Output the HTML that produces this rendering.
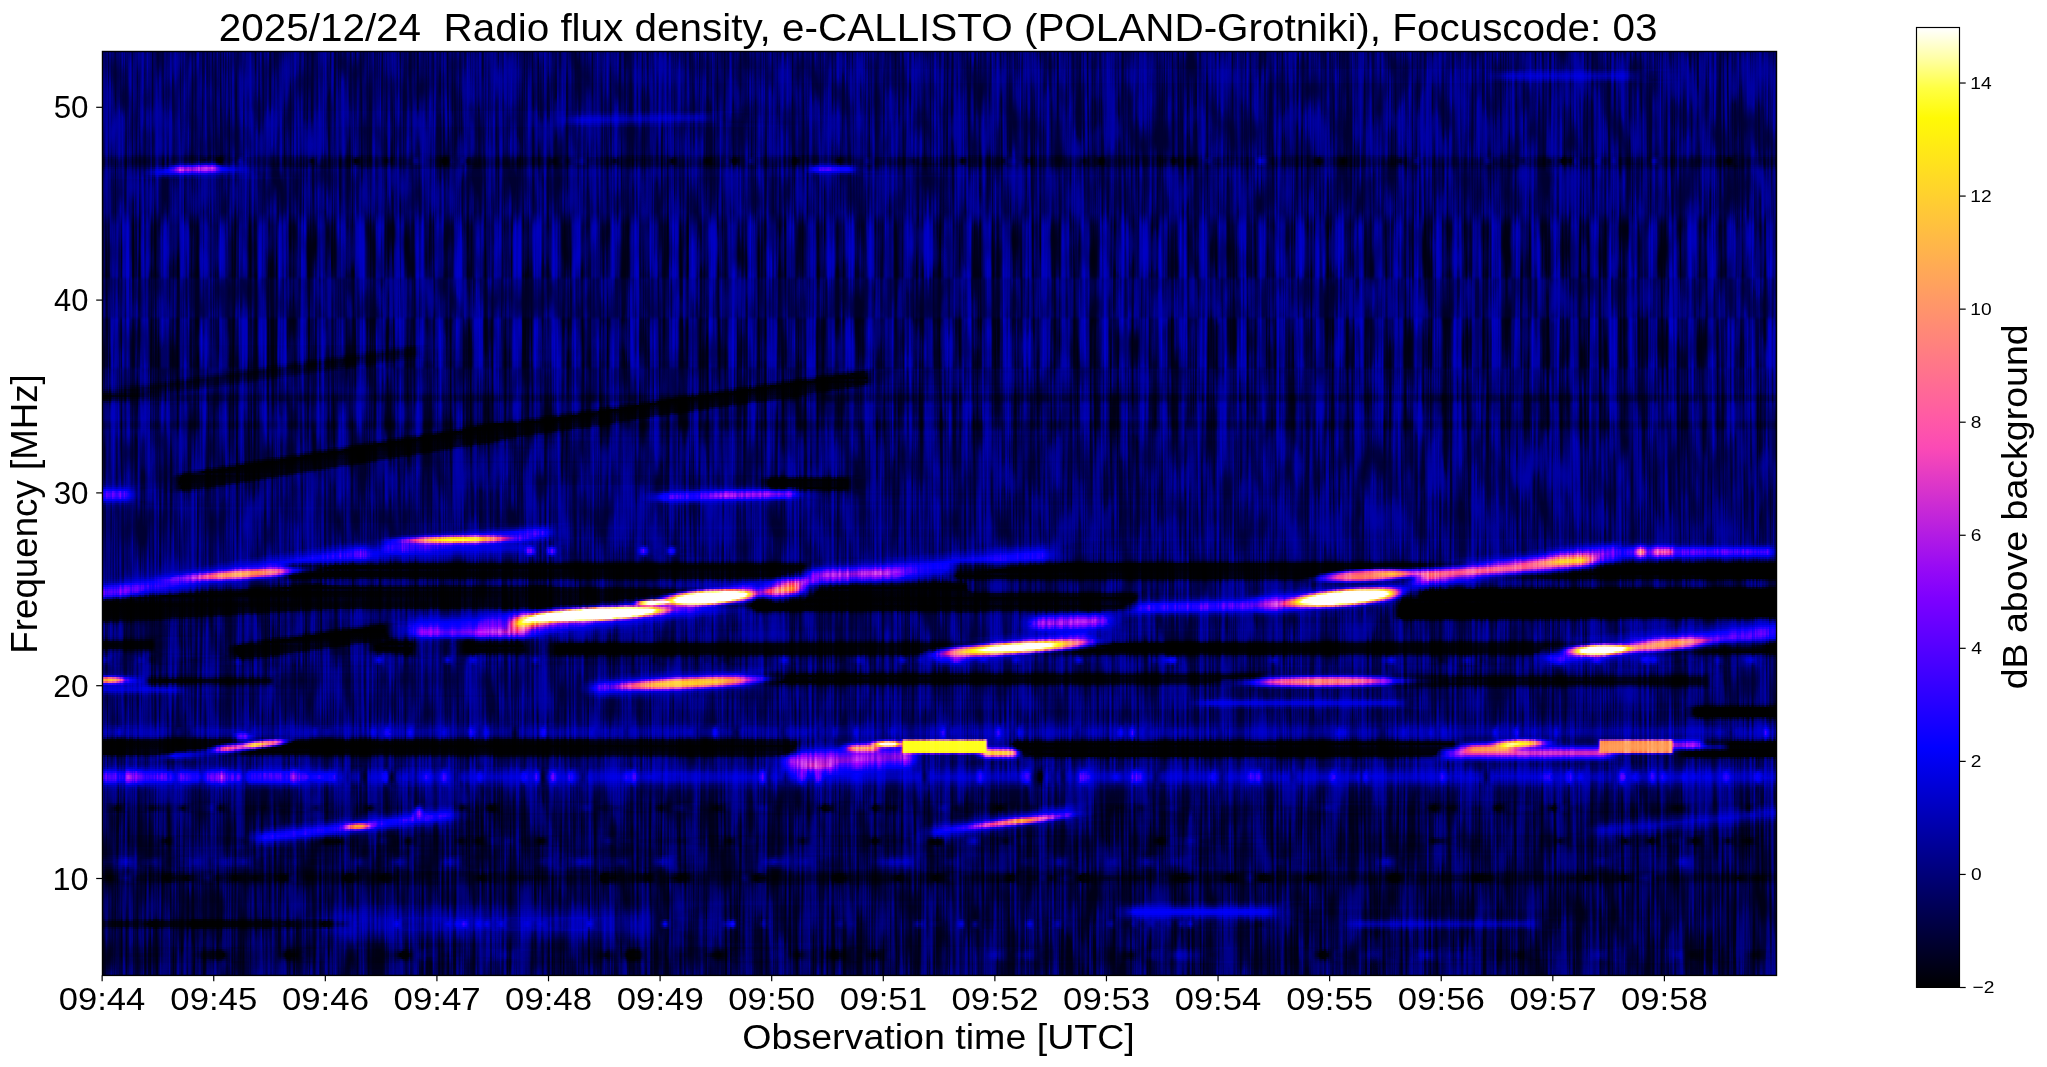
<!DOCTYPE html>
<html><head><meta charset="utf-8"><style>
html,body{margin:0;padding:0;background:#fff;width:2047px;height:1067px;overflow:hidden;position:relative}
#plot{position:absolute;left:102.0px;top:51.0px;width:1675px;height:924px;overflow:hidden;background:#00008a}
#plot i{display:block;height:2px;width:1675px}
#cbar{position:absolute;left:1916.5px;top:27.5px;width:43px;height:960px;background:linear-gradient(0deg,#000000 0.00%,#000020 3.12%,#000040 6.25%,#000060 9.38%,#000080 12.50%,#0000a0 15.62%,#0000c0 18.75%,#0000e0 21.88%,#0100ff 25.00%,#1a00ff 28.12%,#3300ff 31.25%,#4c00ff 34.38%,#6500ff 37.50%,#7e00ff 40.62%,#970af5 43.75%,#b01ae5 46.88%,#c92ad5 50.00%,#e23ac5 53.12%,#fb4ab5 56.25%,#ff5aa5 59.38%,#ff6a95 62.50%,#ff7a85 65.62%,#ff8a75 68.75%,#ff9a65 71.88%,#ffaa55 75.00%,#ffba45 78.12%,#ffca35 81.25%,#ffda25 84.38%,#ffea15 87.50%,#fffa05 90.62%,#ffff43 93.75%,#ffffa7 96.88%,#ffffff 100.00%)}
svg{position:absolute;left:0;top:0}
text{font-family:"Liberation Sans",sans-serif;fill:#000;white-space:pre}
</style></head><body>
<div id="plot"><i style="background:linear-gradient(90deg,#000070 0px,#000070 1674px)"></i>
<i style="background:linear-gradient(90deg,#000070 0px,#000070 1674px)"></i>
<i style="background:linear-gradient(90deg,#000070 0px,#000070 1674px)"></i>
<i style="background:linear-gradient(90deg,#000070 0px,#000070 1674px)"></i>
<i style="background:linear-gradient(90deg,#000070 0px,#000070 1674px)"></i>
<i style="background:linear-gradient(90deg,#000070 0px,#000070 1674px)"></i>
<i style="background:linear-gradient(90deg,#000070 0px,#000070 1674px)"></i>
<i style="background:linear-gradient(90deg,#000070 0px,#000070 1674px)"></i>
<i style="background:linear-gradient(90deg,#000070 0px,#000070 1674px)"></i>
<i style="background:linear-gradient(90deg,#000070 0px,#00007c 1390px,#00008e 1429px,#000082 1529px,#000070 1583px,#000070 1674px)"></i>
<i style="background:linear-gradient(90deg,#000070 0px,#00007c 1385px,#0000a8 1411px,#00009e 1524px,#000070 1551px,#000070 1674px)"></i>
<i style="background:linear-gradient(90deg,#000070 0px,#00007c 1383px,#0000c0 1408px,#0000b4 1523px,#000074 1546px,#000070 1674px)"></i>
<i style="background:linear-gradient(90deg,#000070 0px,#00007c 1383px,#0000cc 1407px,#0000c0 1522px,#000074 1545px,#000070 1674px)"></i>
<i style="background:linear-gradient(90deg,#000070 0px,#00007c 1383px,#0000c0 1408px,#0000b4 1523px,#000074 1546px,#000070 1674px)"></i>
<i style="background:linear-gradient(90deg,#000070 0px,#00007c 1385px,#0000a8 1411px,#00009e 1524px,#000070 1551px,#000070 1674px)"></i>
<i style="background:linear-gradient(90deg,#000070 0px,#00007c 1390px,#00008e 1429px,#000082 1529px,#000070 1583px,#000070 1674px)"></i>
<i style="background:linear-gradient(90deg,#000070 0px,#000070 1674px)"></i>
<i style="background:linear-gradient(90deg,#000070 0px,#000070 1674px)"></i>
<i style="background:linear-gradient(90deg,#000070 0px,#000070 1674px)"></i>
<i style="background:linear-gradient(90deg,#000070 0px,#000070 1674px)"></i>
<i style="background:linear-gradient(90deg,#000070 0px,#000070 1674px)"></i>
<i style="background:linear-gradient(90deg,#000070 0px,#000070 1674px)"></i>
<i style="background:linear-gradient(90deg,#000070 0px,#000070 1674px)"></i>
<i style="background:linear-gradient(90deg,#000070 0px,#000070 1674px)"></i>
<i style="background:linear-gradient(90deg,#000070 0px,#000070 1674px)"></i>
<i style="background:linear-gradient(90deg,#000070 0px,#000070 1674px)"></i>
<i style="background:linear-gradient(90deg,#000070 0px,#000070 1674px)"></i>
<i style="background:linear-gradient(90deg,#000070 0px,#000070 1674px)"></i>
<i style="background:linear-gradient(90deg,#000070 0px,#000070 1674px)"></i>
<i style="background:linear-gradient(90deg,#000070 0px,#000070 1359px,#000070 1674px)"></i>
<i style="background:linear-gradient(90deg,#000070 0px,#00007c 478px,#000084 605px,#000070 652px,#000070 1674px)"></i>
<i style="background:linear-gradient(90deg,#000070 0px,#00007c 462px,#000096 518px,#00009e 600px,#000070 628px,#000070 1674px)"></i>
<i style="background:linear-gradient(90deg,#000070 0px,#00007c 457px,#0000a8 482px,#0000b8 598px,#000074 622px,#000070 1674px)"></i>
<i style="background:linear-gradient(90deg,#000070 0px,#00007c 454px,#0000c0 479px,#0000c0 598px,#000074 621px,#000070 1674px)"></i>
<i style="background:linear-gradient(90deg,#000070 0px,#00007c 454px,#0000cc 479px,#0000b4 599px,#000074 622px,#000070 1674px)"></i>
<i style="background:linear-gradient(90deg,#000070 0px,#00007c 454px,#0000c0 478px,#00009a 601px,#000070 628px,#000070 1674px)"></i>
<i style="background:linear-gradient(90deg,#000070 0px,#00007c 456px,#0000a6 479px,#000080 605px,#000070 673px,#000070 1674px)"></i>
<i style="background:linear-gradient(90deg,#000070 0px,#00007a 460px,#00008c 491px,#000070 713px,#000070 1674px)"></i>
<i style="background:linear-gradient(90deg,#000070 0px,#000070 1392px,#000070 1674px)"></i>
<i style="background:linear-gradient(90deg,#000070 0px,#000070 1674px)"></i>
<i style="background:linear-gradient(90deg,#000070 0px,#000070 1674px)"></i>
<i style="background:linear-gradient(90deg,#000070 0px,#000070 1674px)"></i>
<i style="background:linear-gradient(90deg,#000070 0px,#000070 1674px)"></i>
<i style="background:linear-gradient(90deg,#000070 0px,#000070 1674px)"></i>
<i style="background:linear-gradient(90deg,#000070 0px,#000070 1674px)"></i>
<i style="background:linear-gradient(90deg,#000070 0px,#000070 1674px)"></i>
<i style="background:linear-gradient(90deg,#000070 0px,#000070 1674px)"></i>
<i style="background:linear-gradient(90deg,#000070 0px,#000070 1674px)"></i>
<i style="background:linear-gradient(90deg,#000070 0px,#000070 1674px)"></i>
<i style="background:linear-gradient(90deg,#000070 0px,#000070 1674px)"></i>
<i style="background:linear-gradient(90deg,#000070 0px,#000070 1674px)"></i>
<i style="background:linear-gradient(90deg,#00006a 0px,#00006a 1417px,#00006a 1674px)"></i>
<i style="background:linear-gradient(90deg,#00005c 0px,#000050 114px,#000046 119px,#000066 125px,#000066 135px,#000070 140px,#00005c 152px,#000050 208px,#00005c 232px,#000050 251px,#000052 257px,#000062 310px,#000070 316px,#000050 340px,#000046 345px,#000068 351px,#00005c 363px,#00005c 372px,#00005c 470px,#00006c 482px,#00005c 502px,#000056 516px,#000050 568px,#000056 574px,#000058 609px,#00005c 628px,#00004a 634px,#000070 651px,#00005c 663px,#000050 690px,#000050 696px,#000050 735px,#000066 769px,#00005c 835px,#000050 858px,#000054 864px,#000058 904px,#000066 914px,#000056 929px,#000050 996px,#000050 1002px,#000052 1069px,#000060 1101px,#00006c 1108px,#00005c 1124px,#000068 1154px,#000086 1159px,#00005c 1173px,#000052 1213px,#000042 1218px,#00005c 1226px,#000054 1244px,#000050 1296px,#000072 1313px,#00005c 1330px,#000068 1383px,#000070 1388px,#00005c 1399px,#000060 1414px,#00005c 1426px,#000054 1457px,#00004e 1463px,#000058 1471px,#000066 1476px,#000066 1492px,#000068 1498px,#000066 1509px,#000066 1515px,#000064 1548px,#000078 1554px,#00005c 1564px,#000050 1624px,#000054 1630px,#000060 1638px,#00005c 1674px)"></i>
<i style="background:linear-gradient(90deg,#00004a 0px,#000044 98px,#00002e 104px,#000048 111px,#00000c 118px,#000064 124px,#00004e 132px,#000086 139px,#00004c 145px,#00003e 206px,#00002a 211px,#000050 217px,#000042 249px,#000016 254px,#000048 261px,#00003e 281px,#000030 286px,#00004a 294px,#00005a 310px,#000086 314px,#000068 320px,#00004a 333px,#000038 339px,#00000a 343px,#00002a 346px,#000068 350px,#000056 357px,#000068 361px,#00002c 366px,#00004a 374px,#00003e 447px,#00003a 453px,#00005a 461px,#00003e 468px,#000078 480px,#00004c 488px,#00003e 509px,#00002a 514px,#000048 521px,#000042 566px,#00001c 571px,#00004a 578px,#000042 601px,#00002a 606px,#00004a 614px,#000056 627px,#000016 633px,#000048 640px,#000060 646px,#000082 650px,#00004c 656px,#00003c 689px,#00000e 693px,#000048 700px,#000040 733px,#000020 738px,#00004a 745px,#000056 762px,#000078 766px,#00004c 774px,#00003e 807px,#00003e 813px,#000046 855px,#000014 861px,#000048 867px,#00003e 899px,#000034 903px,#000068 908px,#000064 914px,#000056 919px,#00004c 923px,#00002c 927px,#00004a 935px,#00003e 978px,#000034 983px,#000048 992px,#000012 999px,#000048 1006px,#00003e 1059px,#00003a 1068px,#00001c 1072px,#000048 1079px,#000034 1089px,#000050 1096px,#00005e 1102px,#000080 1106px,#00004c 1112px,#000050 1152px,#0000ac 1158px,#000048 1170px,#000046 1210px,#00000a 1217px,#000048 1224px,#00003c 1237px,#00001c 1241px,#000048 1248px,#00003e 1294px,#000026 1298px,#00004c 1306px,#000064 1311px,#000086 1315px,#00004c 1321px,#000052 1381px,#000086 1386px,#00004c 1393px,#000060 1408px,#000060 1412px,#000034 1421px,#00004c 1429px,#00003c 1444px,#000038 1449px,#000044 1455px,#000016 1461px,#00002e 1466px,#00002e 1470px,#00006c 1474px,#00004a 1483px,#000056 1491px,#00007c 1496px,#00004c 1502px,#00005a 1508px,#000078 1512px,#00004c 1519px,#000052 1547px,#000094 1553px,#00004c 1560px,#000042 1622px,#000016 1627px,#000060 1634px,#00004a 1650px,#00004a 1674px)"></i>
<i style="background:linear-gradient(90deg,#000040 0px,#000040 45px,#000044 91px,#000034 99px,#000014 103px,#000046 109px,#00002e 113px,#000000 116px,#00000e 120px,#000062 123px,#000060 126px,#000046 131px,#00006c 135px,#0000a2 138px,#00004a 144px,#000038 205px,#000006 210px,#000048 216px,#000034 249px,#000000 253px,#000008 256px,#00003c 260px,#000036 280px,#000012 285px,#000040 292px,#00004c 309px,#00009c 314px,#00006e 319px,#00005a 324px,#000040 331px,#000032 338px,#000000 341px,#000000 345px,#00006e 350px,#00004c 356px,#00006e 361px,#000016 365px,#000040 373px,#000038 437px,#000038 446px,#000018 451px,#00005e 460px,#00002e 467px,#000088 480px,#000044 487px,#000036 508px,#000008 513px,#00003e 519px,#000038 528px,#00003c 565px,#000000 570px,#000016 573px,#000040 577px,#00003a 600px,#000008 605px,#000040 612px,#000050 622px,#00005e 626px,#000002 631px,#00000c 635px,#00003c 639px,#000054 645px,#000098 649px,#000072 652px,#000044 656px,#000036 688px,#000000 692px,#000010 696px,#000040 700px,#00003c 732px,#000000 737px,#000042 744px,#000048 761px,#000088 766px,#000044 773px,#000036 806px,#000022 811px,#000040 821px,#000038 855px,#000000 860px,#00000e 863px,#00003e 867px,#000038 898px,#000012 902px,#000066 907px,#000074 913px,#00004c 918px,#000054 922px,#000010 926px,#000040 933px,#000038 977px,#000016 982px,#000040 989px,#000034 994px,#000000 998px,#000004 1001px,#00003c 1005px,#000038 1057px,#000028 1062px,#000034 1067px,#000000 1071px,#000010 1074px,#000040 1079px,#000016 1088px,#00004c 1095px,#000050 1101px,#000094 1105px,#000074 1108px,#000044 1112px,#00004c 1135px,#00004c 1152px,#00008a 1155px,#0000d8 1158px,#000044 1169px,#000040 1184px,#000040 1208px,#00001c 1213px,#000000 1216px,#000010 1220px,#000040 1224px,#000036 1236px,#000000 1241px,#000040 1248px,#000036 1293px,#00000c 1298px,#000040 1304px,#000056 1310px,#0000a0 1314px,#000048 1320px,#00004c 1381px,#00009e 1386px,#000048 1392px,#000050 1406px,#00006e 1411px,#00001e 1421px,#000044 1426px,#000034 1443px,#00001a 1448px,#00003c 1454px,#000000 1460px,#000016 1466px,#000004 1469px,#00006a 1473px,#000066 1476px,#000040 1482px,#000054 1491px,#000090 1495px,#000044 1501px,#00004c 1507px,#000086 1512px,#000044 1518px,#00004c 1547px,#0000b2 1552px,#0000aa 1554px,#000052 1558px,#000040 1567px,#000036 1622px,#000000 1626px,#00000a 1629px,#00005a 1633px,#000054 1637px,#000040 1647px,#000040 1674px)"></i>
<i style="background:linear-gradient(90deg,#000040 0px,#000040 45px,#000056 90px,#000056 98px,#000030 103px,#000066 109px,#00004e 113px,#000004 117px,#000008 119px,#000070 123px,#000060 127px,#00005c 133px,#0000ac 138px,#000080 141px,#00004a 145px,#000038 205px,#000006 210px,#000048 216px,#000034 249px,#000000 253px,#000008 256px,#00003c 260px,#000034 280px,#000012 285px,#000040 292px,#00004c 309px,#00009c 314px,#00006c 319px,#00005a 324px,#000040 331px,#000032 338px,#000000 341px,#00000e 346px,#000062 349px,#000066 352px,#00004c 356px,#00006c 361px,#000016 365px,#000040 373px,#000038 437px,#000038 446px,#000016 451px,#00005e 460px,#00002c 467px,#000084 479px,#000076 482px,#000044 487px,#000036 508px,#000008 513px,#00003c 519px,#00003c 530px,#00003c 565px,#000000 570px,#000016 573px,#000040 577px,#000038 600px,#000008 605px,#000040 612px,#00004e 622px,#00005e 626px,#000002 631px,#00000c 635px,#00003c 639px,#000054 645px,#000098 649px,#000072 652px,#000044 656px,#000034 688px,#000000 692px,#000010 696px,#000040 700px,#000046 732px,#00000a 737px,#00004e 744px,#000048 761px,#000088 766px,#000042 773px,#000034 806px,#000022 811px,#000040 821px,#000038 855px,#000000 860px,#00000e 863px,#00003c 867px,#000038 898px,#000012 902px,#000066 907px,#000074 913px,#00004c 918px,#000054 922px,#000010 926px,#000040 933px,#000038 977px,#000016 982px,#000040 989px,#000034 994px,#000000 998px,#000002 1001px,#00003c 1005px,#000038 1057px,#000028 1062px,#000034 1067px,#000000 1071px,#00000e 1074px,#000040 1079px,#000016 1088px,#00004a 1094px,#000050 1101px,#000094 1106px,#000048 1111px,#00004c 1130px,#00004a 1152px,#000088 1155px,#0000d8 1158px,#000044 1169px,#000040 1184px,#000040 1208px,#00001a 1213px,#000000 1216px,#00000e 1220px,#000040 1224px,#000036 1236px,#000000 1241px,#000040 1248px,#000036 1293px,#00000a 1298px,#000040 1305px,#000056 1310px,#0000a0 1314px,#000076 1317px,#000048 1320px,#00004c 1381px,#00009e 1386px,#000048 1392px,#000050 1406px,#00006e 1411px,#00001e 1421px,#000044 1426px,#000034 1443px,#00001a 1448px,#00003c 1454px,#000000 1460px,#000016 1466px,#000004 1469px,#00006a 1473px,#000066 1476px,#000040 1482px,#00004a 1490px,#000090 1495px,#000044 1501px,#00004c 1507px,#000086 1512px,#000044 1518px,#00004c 1547px,#0000b2 1552px,#0000aa 1554px,#000052 1558px,#000040 1567px,#000034 1622px,#000000 1626px,#00000a 1629px,#00005a 1633px,#000054 1637px,#000040 1647px,#000040 1674px)"></i>
<i style="background:linear-gradient(90deg,#000040 0px,#00004c 62px,#000092 80px,#0000aa 99px,#0000a2 104px,#0000cc 110px,#0000b2 113px,#000058 117px,#00005a 120px,#000086 124px,#00006c 131px,#00009e 139px,#000052 145px,#000040 172px,#000036 206px,#00001e 211px,#000046 217px,#00003a 249px,#00000c 254px,#000040 261px,#000032 281px,#000028 286px,#000040 295px,#000048 309px,#00007e 314px,#00005e 320px,#000040 332px,#00002e 339px,#000002 343px,#000022 346px,#00005c 350px,#00004c 357px,#00005c 361px,#000022 366px,#000040 374px,#000036 447px,#00002a 452px,#000052 461px,#000036 468px,#00006e 480px,#000040 489px,#000034 509px,#000022 514px,#00003e 521px,#000036 566px,#000010 571px,#000040 577px,#000036 601px,#00001e 606px,#000040 614px,#00004e 627px,#00000c 633px,#00003e 639px,#000058 646px,#000078 650px,#000044 656px,#00003a 688px,#000008 693px,#000042 700px,#000076 718px,#00006c 733px,#00004a 738px,#000076 744px,#000044 760px,#00006e 767px,#000040 773px,#000036 807px,#000034 813px,#000036 856px,#00000c 861px,#000040 867px,#000036 899px,#000028 903px,#00005c 908px,#000062 913px,#00004a 918px,#000044 923px,#000022 927px,#000040 934px,#000036 978px,#000028 983px,#000040 992px,#000008 999px,#000040 1006px,#000036 1058px,#000032 1068px,#000010 1072px,#000040 1079px,#000024 1088px,#000046 1096px,#000054 1102px,#000076 1106px,#000040 1113px,#000044 1145px,#00004e 1153px,#0000a2 1158px,#000040 1170px,#00003a 1211px,#000004 1217px,#000040 1224px,#000032 1237px,#000014 1241px,#000040 1248px,#000034 1294px,#000022 1299px,#000040 1306px,#00005c 1311px,#00007c 1315px,#000044 1320px,#000048 1381px,#00007e 1386px,#000042 1393px,#000052 1407px,#000058 1412px,#00002c 1421px,#000042 1429px,#000032 1444px,#00002c 1449px,#00003c 1455px,#00000c 1461px,#000024 1466px,#000024 1470px,#000062 1474px,#000040 1483px,#00004e 1491px,#000074 1495px,#000040 1503px,#000058 1509px,#00006a 1513px,#000040 1519px,#000048 1547px,#00008c 1553px,#000046 1559px,#00003a 1622px,#00000c 1627px,#000056 1634px,#000040 1649px,#000040 1674px)"></i>
<i style="background:linear-gradient(90deg,#00004a 0px,#00005a 51px,#000084 66px,#0e00ea 74px,#3c00ff 95px,#5500ff 111px,#0e00ec 116px,#0000b4 121px,#0000a0 133px,#0000a2 139px,#00005a 147px,#00003c 209px,#00004a 230px,#000040 251px,#000040 257px,#00003e 283px,#00005e 316px,#000036 341px,#000034 345px,#000056 351px,#00004a 363px,#00004a 442px,#00004c 456px,#000052 473px,#000052 484px,#000046 517px,#000042 567px,#000042 574px,#000048 611px,#000046 629px,#00003c 635px,#00005e 651px,#00004a 664px,#000040 690px,#00003c 696px,#000078 707px,#0000ca 715px,#0000be 735px,#0000c0 747px,#00005a 757px,#000050 770px,#000042 857px,#00003c 863px,#00004a 896px,#000046 904px,#000056 914px,#000044 929px,#00003e 996px,#00003a 1001px,#00004a 1021px,#00003c 1070px,#000040 1085px,#00005e 1107px,#00004a 1120px,#000056 1154px,#000072 1159px,#00004a 1174px,#000040 1213px,#000030 1218px,#00004a 1228px,#00003c 1243px,#00004a 1278px,#000046 1302px,#00005e 1316px,#00004a 1329px,#000056 1383px,#00005e 1388px,#00004c 1400px,#00004c 1415px,#00003a 1469px,#000056 1476px,#000054 1492px,#000056 1498px,#000058 1510px,#00004e 1547px,#000068 1554px,#00004c 1562px,#000040 1624px,#00003c 1629px,#000050 1637px,#00004a 1674px)"></i>
<i style="background:linear-gradient(90deg,#00005c 0px,#00006a 44px,#0000c0 65px,#0d00f8 69px,#910bf4 76px,#b31ce3 111px,#4f00ff 116px,#0700fc 120px,#0000ce 130px,#0000b8 139px,#00006a 149px,#00005a 213px,#000060 699px,#000094 706px,#0700fa 712px,#1b00ff 720px,#0f00ff 747px,#0000ca 751px,#000072 757px,#000060 768px,#00005c 1674px)"></i>
<i style="background:linear-gradient(90deg,#00006a 0px,#000078 42px,#0000d2 58px,#0f00ff 67px,#9b0df2 74px,#be23dc 78px,#970cf3 111px,#0400fe 121px,#0000de 131px,#0000bc 139px,#000072 150px,#000074 701px,#0000b2 707px,#0d00ff 712px,#2500ff 718px,#1a00ff 747px,#0000ec 750px,#000088 756px,#00006a 766px,#00006a 1674px)"></i>
<i style="background:linear-gradient(90deg,#000070 0px,#00007c 41px,#0000e6 57px,#0a00ff 67px,#6d00ff 76px,#2900ff 112px,#0000da 121px,#0000a8 139px,#000070 153px,#00007a 702px,#0000c2 710px,#0200ec 715px,#0000e4 747px,#00007e 757px,#000070 791px,#000070 1674px)"></i>
<i style="background:linear-gradient(90deg,#000070 0px,#00007c 41px,#0000d8 57px,#0b00f0 82px,#0000bc 115px,#000070 156px,#00007c 705px,#0000a6 717px,#00009c 748px,#000070 763px,#000070 1674px)"></i>
<i style="background:linear-gradient(90deg,#000070 0px,#00007e 43px,#0000ae 58px,#000098 101px,#000070 171px,#00007c 712px,#000070 1674px)"></i>
<i style="background:linear-gradient(90deg,#000070 0px,#000080 48px,#000086 72px,#000070 232px,#000070 1674px)"></i>
<i style="background:linear-gradient(90deg,#000070 0px,#000070 1674px)"></i>
<i style="background:linear-gradient(90deg,#000070 0px,#000070 1674px)"></i>
<i style="background:linear-gradient(90deg,#000070 0px,#000070 1674px)"></i>
<i style="background:linear-gradient(90deg,#000070 0px,#000070 1674px)"></i>
<i style="background:linear-gradient(90deg,#000070 0px,#000070 1674px)"></i>
<i style="background:linear-gradient(90deg,#000070 0px,#000070 1674px)"></i>
<i style="background:linear-gradient(90deg,#000070 0px,#000070 1674px)"></i>
<i style="background:linear-gradient(90deg,#000070 0px,#000070 1674px)"></i>
<i style="background:linear-gradient(90deg,#000070 0px,#000070 1674px)"></i>
<i style="background:linear-gradient(90deg,#000070 0px,#000070 1674px)"></i>
<i style="background:linear-gradient(90deg,#000070 0px,#000070 1674px)"></i>
<i style="background:linear-gradient(90deg,#000070 0px,#000070 1674px)"></i>
<i style="background:linear-gradient(90deg,#000070 0px,#000070 1674px)"></i>
<i style="background:linear-gradient(90deg,#000070 0px,#000070 1674px)"></i>
<i style="background:linear-gradient(90deg,#000070 0px,#000070 1674px)"></i>
<i style="background:linear-gradient(90deg,#000070 0px,#000070 1674px)"></i>
<i style="background:linear-gradient(90deg,#000070 0px,#000070 1674px)"></i>
<i style="background:linear-gradient(90deg,#000070 0px,#000070 1674px)"></i>
<i style="background:linear-gradient(90deg,#000070 0px,#000070 1674px)"></i>
<i style="background:linear-gradient(90deg,#000070 0px,#000070 1674px)"></i>
<i style="background:linear-gradient(90deg,#000070 0px,#000070 1674px)"></i>
<i style="background:linear-gradient(90deg,#000070 0px,#000070 1674px)"></i>
<i style="background:linear-gradient(90deg,#000070 0px,#000070 1674px)"></i>
<i style="background:linear-gradient(90deg,#000070 0px,#000070 1674px)"></i>
<i style="background:linear-gradient(90deg,#000070 0px,#000070 1674px)"></i>
<i style="background:linear-gradient(90deg,#000070 0px,#000070 1674px)"></i>
<i style="background:linear-gradient(90deg,#000070 0px,#000070 1674px)"></i>
<i style="background:linear-gradient(90deg,#000070 0px,#000070 1674px)"></i>
<i style="background:linear-gradient(90deg,#000070 0px,#000070 1674px)"></i>
<i style="background:linear-gradient(90deg,#000070 0px,#000070 1674px)"></i>
<i style="background:linear-gradient(90deg,#000070 0px,#000070 1674px)"></i>
<i style="background:linear-gradient(90deg,#000070 0px,#000070 1674px)"></i>
<i style="background:linear-gradient(90deg,#000070 0px,#000070 1674px)"></i>
<i style="background:linear-gradient(90deg,#000070 0px,#000070 1674px)"></i>
<i style="background:linear-gradient(90deg,#000070 0px,#000070 1674px)"></i>
<i style="background:linear-gradient(90deg,#000070 0px,#000070 1674px)"></i>
<i style="background:linear-gradient(90deg,#000070 0px,#000070 1674px)"></i>
<i style="background:linear-gradient(90deg,#000070 0px,#000070 1674px)"></i>
<i style="background:linear-gradient(90deg,#000070 0px,#000070 1674px)"></i>
<i style="background:linear-gradient(90deg,#000070 0px,#000070 1674px)"></i>
<i style="background:linear-gradient(90deg,#000070 0px,#000070 1674px)"></i>
<i style="background:linear-gradient(90deg,#000070 0px,#000070 1674px)"></i>
<i style="background:linear-gradient(90deg,#000070 0px,#000070 1674px)"></i>
<i style="background:linear-gradient(90deg,#000070 0px,#000070 1674px)"></i>
<i style="background:linear-gradient(90deg,#000070 0px,#000070 1674px)"></i>
<i style="background:linear-gradient(90deg,#000070 0px,#000070 1674px)"></i>
<i style="background:linear-gradient(90deg,#000070 0px,#000070 1674px)"></i>
<i style="background:linear-gradient(90deg,#000070 0px,#000070 1674px)"></i>
<i style="background:linear-gradient(90deg,#000070 0px,#000070 1674px)"></i>
<i style="background:linear-gradient(90deg,#000070 0px,#000070 1674px)"></i>
<i style="background:linear-gradient(90deg,#000070 0px,#000070 1674px)"></i>
<i style="background:linear-gradient(90deg,#000070 0px,#000070 1674px)"></i>
<i style="background:linear-gradient(90deg,#000070 0px,#000070 1674px)"></i>
<i style="background:linear-gradient(90deg,#000070 0px,#000070 1674px)"></i>
<i style="background:linear-gradient(90deg,#000070 0px,#000070 1674px)"></i>
<i style="background:linear-gradient(90deg,#000070 0px,#000070 1674px)"></i>
<i style="background:linear-gradient(90deg,#000070 0px,#000070 1674px)"></i>
<i style="background:linear-gradient(90deg,#000070 0px,#000070 1674px)"></i>
<i style="background:linear-gradient(90deg,#000070 0px,#000070 1674px)"></i>
<i style="background:linear-gradient(90deg,#000070 0px,#000070 1674px)"></i>
<i style="background:linear-gradient(90deg,#000070 0px,#000070 1674px)"></i>
<i style="background:linear-gradient(90deg,#000070 0px,#000070 1674px)"></i>
<i style="background:linear-gradient(90deg,#000070 0px,#000070 1674px)"></i>
<i style="background:linear-gradient(90deg,#000070 0px,#000070 1674px)"></i>
<i style="background:linear-gradient(90deg,#000070 0px,#000070 1674px)"></i>
<i style="background:linear-gradient(90deg,#000070 0px,#000070 1674px)"></i>
<i style="background:linear-gradient(90deg,#000070 0px,#000070 1674px)"></i>
<i style="background:linear-gradient(90deg,#000070 0px,#000070 1674px)"></i>
<i style="background:linear-gradient(90deg,#000070 0px,#000070 1674px)"></i>
<i style="background:linear-gradient(90deg,#000070 0px,#000070 1674px)"></i>
<i style="background:linear-gradient(90deg,#000070 0px,#000070 1674px)"></i>
<i style="background:linear-gradient(90deg,#000070 0px,#000070 1674px)"></i>
<i style="background:linear-gradient(90deg,#000070 0px,#000070 1674px)"></i>
<i style="background:linear-gradient(90deg,#000070 0px,#000070 1674px)"></i>
<i style="background:linear-gradient(90deg,#000070 0px,#000070 1674px)"></i>
<i style="background:linear-gradient(90deg,#000070 0px,#000070 1674px)"></i>
<i style="background:linear-gradient(90deg,#000070 0px,#000070 1674px)"></i>
<i style="background:linear-gradient(90deg,#000070 0px,#000070 1674px)"></i>
<i style="background:linear-gradient(90deg,#000070 0px,#000070 1674px)"></i>
<i style="background:linear-gradient(90deg,#000070 0px,#000070 1674px)"></i>
<i style="background:linear-gradient(90deg,#000070 0px,#000070 1674px)"></i>
<i style="background:linear-gradient(90deg,#000070 0px,#000070 1674px)"></i>
<i style="background:linear-gradient(90deg,#000070 0px,#000070 725px,#000070 1674px)"></i>
<i style="background:linear-gradient(90deg,#000070 0px,#000064 294px,#000052 312px,#000070 330px,#000070 1674px)"></i>
<i style="background:linear-gradient(90deg,#000070 0px,#000064 280px,#000032 310px,#000070 324px,#000070 1674px)"></i>
<i style="background:linear-gradient(90deg,#000070 0px,#000064 266px,#00001c 308px,#00006c 322px,#000070 1674px)"></i>
<i style="background:linear-gradient(90deg,#000070 0px,#000064 252px,#00001c 296px,#000028 311px,#00006c 322px,#000070 1674px)"></i>
<i style="background:linear-gradient(90deg,#000070 0px,#000064 238px,#00001c 282px,#000022 310px,#00006c 322px,#000070 1674px)"></i>
<i style="background:linear-gradient(90deg,#000070 0px,#000064 224px,#00001c 268px,#00002e 308px,#00006e 322px,#000070 1674px)"></i>
<i style="background:linear-gradient(90deg,#000070 0px,#000064 210px,#00001c 254px,#00002e 294px,#000070 325px,#000070 1674px)"></i>
<i style="background:linear-gradient(90deg,#000070 0px,#000064 196px,#00001c 240px,#00002e 280px,#000070 320px,#000070 1674px)"></i>
<i style="background:linear-gradient(90deg,#000070 0px,#000064 182px,#00001c 226px,#00002e 266px,#00006a 302px,#000070 1674px)"></i>
<i style="background:linear-gradient(90deg,#000070 0px,#000064 168px,#00001c 212px,#00002e 252px,#00006a 288px,#000070 1674px)"></i>
<i style="background:linear-gradient(90deg,#000070 0px,#000064 154px,#00001c 198px,#00002e 238px,#00006a 274px,#000070 1674px)"></i>
<i style="background:linear-gradient(90deg,#000070 0px,#000064 140px,#00001c 184px,#00002e 224px,#00006a 260px,#000064 756px,#000070 1674px)"></i>
<i style="background:linear-gradient(90deg,#000070 0px,#000062 127px,#00001c 170px,#00002e 210px,#00006a 246px,#000064 743px,#00003c 763px,#000070 777px,#000070 1674px)"></i>
<i style="background:linear-gradient(90deg,#000070 0px,#000062 113px,#00001c 156px,#00002e 196px,#00006a 232px,#000064 729px,#000006 762px,#000068 773px,#000070 1674px)"></i>
<i style="background:linear-gradient(90deg,#000070 0px,#000062 99px,#00001c 142px,#00002e 182px,#00006a 218px,#000064 716px,#000000 750px,#00000a 765px,#000060 772px,#000070 792px,#000070 1674px)"></i>
<i style="background:linear-gradient(90deg,#000070 0px,#000062 85px,#00001c 128px,#00002e 168px,#00006a 204px,#000064 702px,#000000 737px,#000006 765px,#00005e 772px,#000070 787px,#000070 1674px)"></i>
<i style="background:linear-gradient(90deg,#000070 0px,#000060 73px,#00001c 114px,#00002e 154px,#00006a 190px,#000064 689px,#000000 723px,#000000 765px,#00005c 772px,#000070 787px,#000070 1674px)"></i>
<i style="background:linear-gradient(90deg,#000070 0px,#00005e 61px,#00001c 100px,#00002e 140px,#00006a 176px,#000064 675px,#000018 699px,#000000 715px,#00000c 766px,#00005c 772px,#000070 787px,#000070 1674px)"></i>
<i style="background:linear-gradient(90deg,#000070 0px,#00005a 49px,#00001c 86px,#00002e 126px,#00006a 162px,#000064 662px,#000000 696px,#000004 765px,#00005e 772px,#000070 787px,#000070 1674px)"></i>
<i style="background:linear-gradient(90deg,#000070 0px,#000050 40px,#00001c 72px,#00002e 112px,#00006a 148px,#000064 648px,#00001c 671px,#000000 686px,#00000c 762px,#000066 772px,#000070 1674px)"></i>
<i style="background:linear-gradient(90deg,#00006e 0px,#00003c 35px,#00001c 63px,#000030 99px,#00006a 134px,#000064 635px,#000000 669px,#00000c 749px,#000070 774px,#000070 1674px)"></i>
<i style="background:linear-gradient(90deg,#000064 0px,#00001c 44px,#00002e 84px,#00006e 124px,#000064 621px,#00001c 644px,#000000 659px,#00000c 736px,#000068 764px,#000070 1674px)"></i>
<i style="background:linear-gradient(90deg,#00004c 0px,#00001c 30px,#00002c 69px,#00006c 108px,#000064 608px,#000000 642px,#00000c 722px,#000064 749px,#000070 1674px)"></i>
<i style="background:linear-gradient(90deg,#000028 0px,#00001e 49px,#000068 94px,#000062 593px,#00001a 617px,#000000 633px,#00000c 710px,#00005e 735px,#00006e 843px,#00006e 1674px)"></i>
<i style="background:linear-gradient(90deg,#00000a 0px,#00001a 42px,#000058 80px,#000052 580px,#000000 614px,#00000a 700px,#000052 724px,#00005e 1674px)"></i>
<i style="background:linear-gradient(90deg,#000000 0px,#00000e 32px,#000046 68px,#00003e 566px,#000000 598px,#00000c 691px,#000044 716px,#00004a 1674px)"></i>
<i style="background:linear-gradient(90deg,#000000 0px,#000020 27px,#000044 60px,#00003c 553px,#000000 582px,#00000c 678px,#000042 705px,#000048 1674px)"></i>
<i style="background:linear-gradient(90deg,#000008 0px,#000044 38px,#00003e 540px,#000000 569px,#00000c 663px,#000044 690px,#00004a 1674px)"></i>
<i style="background:linear-gradient(90deg,#00003a 0px,#00005e 42px,#000052 526px,#000000 557px,#00000c 644px,#000056 673px,#00005e 1674px)"></i>
<i style="background:linear-gradient(90deg,#000062 0px,#000064 510px,#000026 533px,#000000 548px,#00000c 628px,#000062 656px,#00006e 1674px)"></i>
<i style="background:linear-gradient(90deg,#00006e 0px,#000064 500px,#000000 534px,#00000c 614px,#000062 641px,#000070 767px,#000070 1674px)"></i>
<i style="background:linear-gradient(90deg,#000070 0px,#000064 486px,#000020 508px,#000000 524px,#00000c 601px,#000064 628px,#000070 1674px)"></i>
<i style="background:linear-gradient(90deg,#000070 0px,#000064 473px,#000000 507px,#00000c 587px,#000064 614px,#000070 1674px)"></i>
<i style="background:linear-gradient(90deg,#000070 0px,#000064 459px,#000020 481px,#000000 497px,#00000c 574px,#000064 601px,#000070 1674px)"></i>
<i style="background:linear-gradient(90deg,#000070 0px,#000064 446px,#000000 480px,#00000c 560px,#000064 587px,#000070 1674px)"></i>
<i style="background:linear-gradient(90deg,#000070 0px,#000064 432px,#000020 454px,#000000 470px,#00000c 547px,#000064 574px,#000070 1674px)"></i>
<i style="background:linear-gradient(90deg,#000070 0px,#000064 418px,#000020 441px,#000000 457px,#00000c 534px,#00005e 558px,#000070 618px,#000070 1674px)"></i>
<i style="background:linear-gradient(90deg,#00006a 0px,#00005e 405px,#000022 426px,#000000 443px,#00000a 521px,#00005e 546px,#00006a 1674px)"></i>
<i style="background:linear-gradient(90deg,#00005c 0px,#000052 381px,#00003a 398px,#000000 426px,#00000a 511px,#000050 534px,#00005c 1674px)"></i>
<i style="background:linear-gradient(90deg,#000054 0px,#000048 370px,#000000 392px,#00000c 500px,#00004a 523px,#000054 1674px)"></i>
<i style="background:linear-gradient(90deg,#000054 0px,#000048 358px,#000000 383px,#00000c 486px,#00004c 512px,#000054 1674px)"></i>
<i style="background:linear-gradient(90deg,#00005c 0px,#000050 346px,#000000 373px,#00000c 469px,#000054 497px,#00005c 1674px)"></i>
<i style="background:linear-gradient(90deg,#00006a 0px,#00005e 334px,#000020 352px,#000000 364px,#00000c 453px,#00005e 479px,#00006a 1674px)"></i>
<i style="background:linear-gradient(90deg,#000070 0px,#000064 321px,#000022 340px,#000000 353px,#00000c 439px,#000062 465px,#000070 612px,#000070 1674px)"></i>
<i style="background:linear-gradient(90deg,#000070 0px,#000064 309px,#000026 327px,#000000 340px,#00000a 425px,#000062 451px,#000070 577px,#000070 1674px)"></i>
<i style="background:linear-gradient(90deg,#000070 0px,#000064 296px,#00001e 316px,#000000 329px,#00000c 412px,#000064 439px,#000070 1674px)"></i>
<i style="background:linear-gradient(90deg,#000070 0px,#000064 284px,#000020 303px,#000000 317px,#000008 401px,#000058 419px,#000070 457px,#000070 1674px)"></i>
<i style="background:linear-gradient(90deg,#000070 0px,#000064 271px,#00001e 291px,#000000 304px,#00000c 396px,#000054 405px,#000070 438px,#000070 1674px)"></i>
<i style="background:linear-gradient(90deg,#000070 0px,#000064 259px,#000022 278px,#000000 291px,#00000c 387px,#000068 403px,#000070 1674px)"></i>
<i style="background:linear-gradient(90deg,#000070 0px,#000064 247px,#000000 276px,#00000c 370px,#00006e 400px,#000070 1674px)"></i>
<i style="background:linear-gradient(90deg,#000070 0px,#000064 234px,#000022 253px,#000000 266px,#00000a 357px,#00005e 378px,#000070 432px,#000070 1674px)"></i>
<i style="background:linear-gradient(90deg,#000070 0px,#000064 222px,#00001a 242px,#000000 255px,#00000c 345px,#000062 367px,#000070 486px,#000070 1674px)"></i>
<i style="background:linear-gradient(90deg,#000070 0px,#000064 209px,#00001c 229px,#000000 243px,#00000a 332px,#000060 354px,#000070 422px,#000070 1674px)"></i>
<i style="background:linear-gradient(90deg,#000070 0px,#000064 197px,#00001a 217px,#000000 230px,#00000c 320px,#000062 343px,#000070 448px,#000070 1674px)"></i>
<i style="background:linear-gradient(90deg,#000070 0px,#000064 184px,#00001e 204px,#000000 217px,#00000a 307px,#000062 330px,#000070 442px,#000070 1674px)"></i>
<i style="background:linear-gradient(90deg,#000070 0px,#000064 172px,#000026 190px,#000000 203px,#00000c 295px,#000062 318px,#000070 430px,#000070 1674px)"></i>
<i style="background:linear-gradient(90deg,#000070 0px,#000064 159px,#00001e 179px,#000000 192px,#00000a 282px,#000062 305px,#000070 417px,#000070 1674px)"></i>
<i style="background:linear-gradient(90deg,#000070 0px,#000064 147px,#000022 166px,#000000 179px,#00000c 270px,#000062 293px,#000070 405px,#000070 1674px)"></i>
<i style="background:linear-gradient(90deg,#000070 0px,#000064 135px,#000000 164px,#00000c 258px,#000064 281px,#000070 1674px)"></i>
<i style="background:linear-gradient(90deg,#000070 0px,#000064 122px,#000022 141px,#000000 154px,#00000c 245px,#000062 268px,#000070 380px,#000070 1674px)"></i>
<i style="background:linear-gradient(90deg,#000070 0px,#000062 111px,#000000 139px,#00000c 233px,#000062 255px,#000070 367px,#000070 1674px)"></i>
<i style="background:linear-gradient(90deg,#000070 0px,#000062 99px,#000000 127px,#00000a 220px,#000060 242px,#000070 310px,#000070 1674px)"></i>
<i style="background:linear-gradient(90deg,#000070 0px,#000064 85px,#00001a 105px,#000000 118px,#00000c 208px,#000062 231px,#000070 336px,#000070 1674px)"></i>
<i style="background:linear-gradient(90deg,#000070 0px,#000064 76px,#000000 101px,#00000a 195px,#000062 218px,#000070 330px,#000070 1674px)"></i>
<i style="background:linear-gradient(90deg,#000070 0px,#000066 72px,#00000a 84px,#00000c 183px,#000062 206px,#000070 318px,#000070 1209px,#000070 1674px)"></i>
<i style="background:linear-gradient(90deg,#000070 0px,#000066 70px,#000022 76px,#000000 80px,#00000a 170px,#000062 193px,#000070 305px,#000064 660px,#000048 674px,#000054 744px,#000070 762px,#000070 1674px)"></i>
<i style="background:linear-gradient(90deg,#000070 0px,#000064 69px,#00001c 75px,#000000 78px,#00000c 158px,#000062 181px,#000070 293px,#000066 657px,#000010 670px,#00001a 742px,#00006c 754px,#000070 1674px)"></i>
<i style="background:linear-gradient(90deg,#000074 0px,#000064 69px,#00001e 75px,#000000 78px,#00000c 146px,#000062 168px,#000070 280px,#000064 656px,#000020 663px,#000000 667px,#000004 744px,#000060 752px,#000070 772px,#000070 1674px)"></i>
<i style="background:linear-gradient(90deg,#00007a 0px,#000064 69px,#000024 75px,#000000 77px,#00000c 133px,#000062 156px,#000070 268px,#000066 656px,#00001c 663px,#000000 666px,#000008 745px,#000060 752px,#000070 772px,#000070 1674px)"></i>
<i style="background:linear-gradient(90deg,#000086 0px,#000066 69px,#00002a 75px,#000002 77px,#00000c 121px,#000062 143px,#000070 255px,#00006a 656px,#000022 663px,#000000 666px,#000008 745px,#000060 752px,#000070 772px,#000070 1674px)"></i>
<i style="background:linear-gradient(90deg,#0000a0 0px,#000092 26px,#000070 46px,#000064 70px,#00001e 76px,#000000 79px,#00000e 109px,#000062 130px,#000070 249px,#00007e 620px,#00007c 656px,#000034 663px,#000002 667px,#000008 745px,#000060 752px,#000070 772px,#000070 1674px)"></i>
<i style="background:linear-gradient(90deg,#0000cc 0px,#0000be 24px,#000074 39px,#000064 70px,#000024 76px,#000000 79px,#000010 97px,#000062 119px,#000070 224px,#00007c 560px,#0000aa 656px,#00006a 663px,#00002e 669px,#00002c 687px,#000000 704px,#000004 744px,#000060 752px,#000070 772px,#000070 1674px)"></i>
<i style="background:linear-gradient(90deg,#0700fa 0px,#0000ec 24px,#000082 36px,#000070 60px,#000056 73px,#00000e 81px,#000034 92px,#00006a 112px,#00007c 549px,#0000a6 579px,#0000ca 612px,#0500ec 631px,#0b00ec 660px,#0000c4 671px,#0000c6 683px,#00002e 703px,#000010 726px,#00001a 742px,#00006c 754px,#000070 1674px)"></i>
<i style="background:linear-gradient(90deg,#2d00ff 0px,#2600ff 22px,#0000f0 27px,#000088 36px,#000070 54px,#000060 74px,#000048 84px,#00006e 108px,#00007a 543px,#0000d4 570px,#0d00fc 610px,#4900ff 624px,#6000ff 662px,#5400ff 682px,#0400ee 691px,#000076 702px,#00004a 717px,#000056 745px,#000070 762px,#000070 1674px)"></i>
<i style="background:linear-gradient(90deg,#4900ff 0px,#3f00ff 22px,#0000f6 28px,#00008c 36px,#000070 50px,#000070 122px,#00007a 540px,#0000c0 554px,#0700fa 563px,#3300ff 607px,#9509f6 622px,#9a0cf3 680px,#4700ff 688px,#0000f0 694px,#00008a 704px,#000068 719px,#000070 1674px)"></i>
<i style="background:linear-gradient(90deg,#4900ff 0px,#3f00ff 22px,#0000f6 28px,#00008c 36px,#000070 50px,#00007c 539px,#0000bc 551px,#0a00ff 559px,#3100ff 570px,#4200ff 606px,#a211ee 622px,#7400ff 681px,#0400fa 692px,#000092 703px,#000070 720px,#000070 1674px)"></i>
<i style="background:linear-gradient(90deg,#2d00ff 0px,#2600ff 22px,#0000f0 27px,#000088 36px,#000070 54px,#00007c 539px,#0000ca 552px,#0d00ff 559px,#2e00ff 569px,#2e00ff 608px,#5f00ff 623px,#1800ff 683px,#0000ce 692px,#000084 704px,#000070 734px,#000070 1674px)"></i>
<i style="background:linear-gradient(90deg,#0700fa 0px,#0000ec 24px,#000082 36px,#000070 60px,#00007c 539px,#0000ba 552px,#0700fa 562px,#0200ea 648px,#0000b6 687px,#000076 707px,#000070 1674px)"></i>
<i style="background:linear-gradient(90deg,#0000cc 0px,#0000be 24px,#000074 39px,#00007a 541px,#0000d2 567px,#000070 729px,#000070 1674px)"></i>
<i style="background:linear-gradient(90deg,#0000a0 0px,#000092 26px,#000070 46px,#00007c 546px,#00009e 571px,#000070 752px,#000070 1674px)"></i>
<i style="background:linear-gradient(90deg,#000086 0px,#000070 85px,#00007c 556px,#000070 1674px)"></i>
<i style="background:linear-gradient(90deg,#00007a 0px,#000070 1674px)"></i>
<i style="background:linear-gradient(90deg,#000074 0px,#000070 1674px)"></i>
<i style="background:linear-gradient(90deg,#000070 0px,#000070 1674px)"></i>
<i style="background:linear-gradient(90deg,#000070 0px,#000070 1674px)"></i>
<i style="background:linear-gradient(90deg,#000070 0px,#000070 1674px)"></i>
<i style="background:linear-gradient(90deg,#000070 0px,#000070 1674px)"></i>
<i style="background:linear-gradient(90deg,#000070 0px,#000070 1674px)"></i>
<i style="background:linear-gradient(90deg,#000070 0px,#000070 1396px,#000070 1674px)"></i>
<i style="background:linear-gradient(90deg,#000070 0px,#00007c 418px,#000088 446px,#000070 476px,#000070 1674px)"></i>
<i style="background:linear-gradient(90deg,#000070 0px,#00007c 396px,#0000ac 443px,#000074 460px,#000070 1674px)"></i>
<i style="background:linear-gradient(90deg,#000070 0px,#00007c 373px,#0000c0 424px,#0000de 442px,#00007a 457px,#000070 1674px)"></i>
<i style="background:linear-gradient(90deg,#000070 0px,#00007c 350px,#0000c0 401px,#1000ff 436px,#0000f0 445px,#000086 455px,#000070 473px,#000070 1674px)"></i>
<i style="background:linear-gradient(90deg,#000070 0px,#00007c 328px,#0000c4 380px,#1000ff 413px,#2900ff 441px,#0000f6 446px,#000088 455px,#000070 473px,#000070 1674px)"></i>
<i style="background:linear-gradient(90deg,#000070 0px,#00007c 305px,#0000c0 348px,#1000f6 377px,#3400ff 434px,#2000ff 442px,#0000f0 446px,#000086 455px,#000070 473px,#000070 1674px)"></i>
<i style="background:linear-gradient(90deg,#000070 0px,#00007c 285px,#0000c0 312px,#3f00fe 333px,#ad2ad5 354px,#be27d8 385px,#4f00ff 415px,#0200f8 443px,#000086 454px,#000070 472px,#000070 1674px)"></i>
<i style="background:linear-gradient(90deg,#000070 0px,#00007e 278px,#0e00ec 300px,#5b01fe 310px,#ce36c9 321px,#ff857a 332px,#ffd827 352px,#ffd926 374px,#ff7a85 394px,#ed41be 402px,#7400ff 414px,#0500fa 433px,#0000c6 444px,#00007a 455px,#000070 1674px)"></i>
<i style="background:linear-gradient(90deg,#000070 0px,#00007a 249px,#00008c 277px,#0d00ff 291px,#9f0ff0 305px,#fd52ad 313px,#ffda25 332px,#ffff05 345px,#ffff31 351px,#ffff2a 362px,#ffec13 374px,#ff748b 393px,#d733cc 401px,#6600ff 411px,#0700f8 425px,#000074 456px,#00007a 932px,#00007c 1494px,#00007c 1520px,#000070 1674px)"></i>
<i style="background:linear-gradient(90deg,#000070 0px,#00007a 237px,#000090 265px,#000092 276px,#0000ec 285px,#2200ff 290px,#a211ee 307px,#ea4bb4 317px,#ff8f70 331px,#ffad52 351px,#f26f90 372px,#a61ee1 388px,#3000ff 403px,#0000ea 418px,#000084 445px,#000070 477px,#00007c 914px,#000082 948px,#000070 996px,#00007c 1476px,#0000a0 1513px,#000080 1530px,#000080 1545px,#000074 1674px)"></i>
<i style="background:linear-gradient(90deg,#000070 0px,#00007e 229px,#0000ac 262px,#000094 274px,#0000ca 281px,#0500fe 285px,#3700ff 292px,#870ef1 334px,#5a00ff 362px,#0200f4 394px,#0000b6 430px,#000082 439px,#000082 452px,#000070 470px,#00007a 538px,#000076 546px,#000072 576px,#00007a 895px,#000094 945px,#000070 972px,#00007c 1459px,#0000bc 1501px,#0000c8 1512px,#000096 1525px,#0000ac 1535px,#0000c4 1540px,#000096 1547px,#0000b4 1558px,#0000aa 1570px,#000090 1580px,#000084 1670px,#000076 1674px)"></i>
<i style="background:linear-gradient(90deg,#000070 0px,#00007e 216px,#0000c0 251px,#0000d4 262px,#0000a6 274px,#0000e2 281px,#0f00ff 284px,#4c00ff 291px,#2900ff 337px,#0000ec 378px,#0000d4 423px,#0500f2 428px,#0000be 432px,#000084 437px,#000084 444px,#0000be 449px,#000098 453px,#000070 459px,#00007c 536px,#0000b6 542px,#000074 549px,#00007a 564px,#0000a6 570px,#000070 578px,#00007e 885px,#0000ae 943px,#000074 963px,#00007c 1447px,#0000d6 1492px,#0800fa 1511px,#0000b8 1523px,#0000d8 1533px,#2200ff 1537px,#2200ff 1541px,#0000d6 1545px,#0000ce 1549px,#1200f8 1554px,#0700f0 1570px,#0000c0 1576px,#0000b4 1667px,#000082 1674px)"></i>
<i style="background:linear-gradient(90deg,#000070 0px,#00007e 203px,#0000c4 242px,#0800fe 260px,#0000cc 269px,#0000c2 276px,#0c00ff 283px,#4a00ff 290px,#0000f0 359px,#0000da 422px,#1200ff 425px,#4a00ff 428px,#3100ff 430px,#0000f0 432px,#000096 435px,#00007c 441px,#000096 444px,#1200fc 448px,#1e00ff 450px,#0400ee 452px,#000082 456px,#000070 465px,#000078 534px,#0000a6 537px,#0a00f4 540px,#0a00f4 543px,#000080 548px,#000070 560px,#00009a 565px,#0200ec 569px,#0000e2 571px,#00007e 576px,#000070 596px,#00007e 866px,#0000cc 936px,#0000b6 946px,#000074 963px,#00007c 1439px,#0d00ff 1491px,#3600ff 1510px,#0000f0 1518px,#0000e8 1524px,#1800ff 1532px,#5b00ff 1535px,#ad18e7 1538px,#9b11ee 1541px,#2300ff 1545px,#1000ff 1548px,#7403fc 1554px,#7403fc 1568px,#0e00fe 1574px,#0000ec 1667px,#000090 1674px)"></i>
<i style="background:linear-gradient(90deg,#000070 0px,#00007e 191px,#0000cc 233px,#1200ff 252px,#2900ff 261px,#0000f4 268px,#0000d4 275px,#0c00ff 283px,#3900ff 291px,#0000f2 341px,#0000d0 421px,#0f00ff 424px,#7e00ff 427px,#8c05fa 429px,#1800ff 432px,#0000e4 433px,#00009e 435px,#00007a 439px,#00008e 443px,#0400fc 446px,#5400ff 448px,#6900ff 450px,#2d00ff 452px,#0400fc 453px,#00008a 456px,#000070 461px,#00007c 534px,#0000c4 537px,#0000f0 538px,#5400ff 541px,#3f00ff 543px,#0000f0 545px,#00008a 548px,#000070 553px,#000078 562px,#0000b0 565px,#0200fa 567px,#2800ff 569px,#1800ff 571px,#0200fa 572px,#000096 575px,#000070 579px,#00007e 848px,#0000d0 920px,#0000e6 942px,#00007e 959px,#000070 1021px,#00007a 1422px,#00009a 1445px,#0200f0 1464px,#5500ff 1499px,#5f00ff 1510px,#0400fe 1520px,#2600ff 1526px,#5200ff 1532px,#8a06f9 1534px,#e63dc2 1536px,#ff6996 1538px,#fb58a7 1541px,#e53cc3 1542px,#8705fa 1544px,#5000ff 1546px,#5500ff 1549px,#ab17e8 1552px,#da35ca 1554px,#da35ca 1568px,#6b00ff 1572px,#3e00ff 1575px,#2900ff 1666px,#0200fa 1669px,#00009e 1674px)"></i>
<i style="background:linear-gradient(90deg,#000070 0px,#00007e 178px,#0000d0 222px,#1200ff 245px,#4900ff 260px,#0000f0 271px,#0000ec 279px,#1a00ff 289px,#0000e0 339px,#0000be 421px,#0500fc 424px,#7300ff 427px,#8404fb 429px,#4100ff 431px,#1200ff 432px,#00009a 435px,#000078 439px,#00008e 443px,#0000ce 445px,#0400fc 446px,#5400ff 448px,#6900ff 450px,#2d00ff 452px,#0400fc 453px,#00008a 456px,#000070 461px,#00007c 534px,#0000c4 537px,#0000f0 538px,#5400ff 541px,#3f00ff 543px,#0000f0 545px,#00008a 548px,#000070 553px,#000078 562px,#0000b0 565px,#0200fa 567px,#2800ff 569px,#1800ff 571px,#0200fa 572px,#000096 575px,#000070 579px,#00007e 829px,#0000d0 902px,#0500ff 940px,#0000d6 947px,#00007c 960px,#00007a 1402px,#0000a4 1441px,#0e00fe 1454px,#8104fb 1485px,#7400ff 1510px,#0f00ff 1520px,#3900ff 1526px,#6d00ff 1532px,#aa16e9 1534px,#ff5aa5 1536px,#ff8c73 1538px,#ff7887 1541px,#ff58a7 1542px,#8100ff 1545px,#5f00ff 1547px,#8700ff 1550px,#f144bb 1553px,#ff52ad 1561px,#f144bb 1569px,#8700ff 1572px,#5500ff 1575px,#4600ff 1665px,#0000f4 1670px,#0000a4 1674px)"></i>
<i style="background:linear-gradient(90deg,#000070 0px,#00007e 166px,#0000cc 208px,#0c00ff 233px,#4f00ff 261px,#0000f8 271px,#0000e8 280px,#0000f6 296px,#0000ae 392px,#0000a4 421px,#0000d0 424px,#1000fc 426px,#3100ff 428px,#0a00f6 431px,#00008c 435px,#000076 441px,#000092 444px,#0400ee 447px,#1e00ff 450px,#0400ee 452px,#000092 455px,#000070 459px,#000078 534px,#0000a6 537px,#0a00f4 540px,#0a00f4 543px,#000080 548px,#000070 560px,#00009a 565px,#0200ec 569px,#0000e2 571px,#00007e 576px,#000070 596px,#000080 813px,#0000cc 881px,#0c00ff 922px,#1000ff 941px,#0000ea 946px,#000082 959px,#000070 989px,#00007c 1383px,#0000b2 1433px,#0000ea 1444px,#3700ff 1451px,#7c04fb 1460px,#d733cc 1482px,#8200ff 1506px,#6200ff 1512px,#0c00ff 1520px,#4a00ff 1531px,#8a06f9 1534px,#e83ec1 1536px,#ff6996 1538px,#fb58a7 1541px,#e53cc3 1542px,#8705fa 1544px,#5000ff 1546px,#5500ff 1549px,#ab17e8 1552px,#da35ca 1554px,#da35ca 1568px,#6b00ff 1572px,#3e00ff 1575px,#2900ff 1666px,#0200fa 1669px,#00009e 1674px)"></i>
<i style="background:linear-gradient(90deg,#000070 0px,#00007e 153px,#0000d0 197px,#0900ff 220px,#4100ff 261px,#0000f0 271px,#0000d6 281px,#00008e 422px,#0000ca 428px,#0000a0 432px,#000074 437px,#000080 444px,#0000bc 450px,#000074 457px,#00007c 536px,#0000b4 542px,#000074 549px,#00007a 564px,#0000a6 570px,#000070 578px,#000080 794px,#0000cc 863px,#0c00ff 904px,#1400ff 941px,#0000ec 946px,#000084 958px,#000070 983px,#00007a 1364px,#0000b4 1414px,#0e00fc 1439px,#6300ff 1448px,#d230cf 1457px,#ff6d92 1475px,#ff708f 1483px,#ed41be 1490px,#8701fe 1501px,#5200ff 1512px,#0000fa 1520px,#1a00ff 1532px,#5b00ff 1535px,#ad18e7 1538px,#9a11ee 1541px,#2300ff 1545px,#1000ff 1548px,#7303fc 1554px,#7303fc 1568px,#0e00fe 1574px,#0000ec 1667px,#000090 1674px)"></i>
<i style="background:linear-gradient(90deg,#000070 0px,#000080 142px,#0000cc 183px,#0a00ff 210px,#1b00ff 262px,#0000e2 269px,#0000bc 281px,#00007c 423px,#000080 431px,#000074 445px,#000078 453px,#00007a 539px,#000078 757px,#0000b2 827px,#0a00ff 887px,#1500ff 938px,#0000ec 945px,#000080 958px,#00006e 982px,#00007a 1349px,#0000b8 1396px,#1400ff 1423px,#7403fc 1441px,#df38c7 1449px,#ff6f90 1455px,#ffb946 1480px,#ff708f 1488px,#fb4ab5 1491px,#8401fe 1499px,#2300ff 1514px,#0000e8 1519px,#0000cc 1527px,#0000d8 1533px,#2800ff 1538px,#1300f8 1542px,#0000c6 1547px,#1000f6 1556px,#0500ec 1570px,#0000bc 1576px,#0000b4 1666px,#00007e 1674px)"></i>
<i style="background:linear-gradient(90deg,#000070 0px,#000080 130px,#0500ff 200px,#0000e2 262px,#00009c 276px,#000068 414px,#00006e 704px,#00009e 794px,#0000ea 852px,#0d00ff 900px,#0000ea 941px,#00006c 958px,#00005c 998px,#000068 1327px,#0000a6 1374px,#0e00fe 1403px,#9a0ff0 1431px,#fd5ba4 1445px,#ffc13e 1458px,#ffdf20 1480px,#ff8679 1487px,#f043bc 1491px,#7800ff 1497px,#2e00ff 1506px,#0000f2 1515px,#00009a 1524px,#000092 1534px,#0000b0 1540px,#000080 1548px,#0000a0 1558px,#000094 1570px,#00007c 1582px,#000070 1670px,#000064 1674px)"></i>
<i style="background:linear-gradient(90deg,#000070 0px,#000080 117px,#0000e0 165px,#0000f8 182px,#0000e8 194px,#0000d2 222px,#000096 254px,#00007c 266px,#000058 284px,#00003c 501px,#00004a 700px,#00007a 714px,#0000ac 783px,#0000fe 847px,#0000d4 859px,#0000d8 904px,#00009c 942px,#000036 959px,#000038 1313px,#000088 1359px,#0b00fe 1389px,#a010ef 1416px,#fe59a6 1434px,#ffd926 1458px,#ffc936 1480px,#f24db2 1488px,#7b04fb 1493px,#1800ff 1499px,#0000c2 1512px,#000054 1525px,#000042 1535px,#00002e 1674px)"></i>
<i style="background:linear-gradient(90deg,#000070 0px,#000082 106px,#0000dc 151px,#0d00ff 173px,#0000f0 182px,#0000a6 190px,#000074 220px,#000028 254px,#00000a 301px,#000010 700px,#00007e 711px,#0d00ff 832px,#0700ff 846px,#0000c2 852px,#000094 857px,#000074 905px,#00002a 944px,#000000 959px,#00000c 1320px,#00007e 1355px,#0d00fe 1379px,#9f0ff0 1403px,#fd53ac 1421px,#ffb34c 1457px,#ff708f 1480px,#cc2cd3 1485px,#4a00ff 1490px,#0a00e6 1494px,#000084 1502px,#000008 1525px,#000000 1674px)"></i>
<i style="background:linear-gradient(90deg,#000070 0px,#000084 96px,#0000e2 140px,#1a00ff 162px,#2300ff 177px,#0200f6 182px,#000080 189px,#000002 232px,#000002 702px,#00007e 709px,#0000aa 718px,#0d00ff 788px,#1000ff 844px,#0000ea 848px,#000060 856px,#000000 936px,#00000c 1321px,#0d00ec 1362px,#5b00ff 1377px,#df38c7 1399px,#ff6699 1416px,#ff6f90 1450px,#e747b8 1464px,#9110ef 1479px,#1d00fa 1486px,#0000bc 1490px,#000052 1496px,#000014 1505px,#000000 1527px,#000000 1674px)"></i>
<i style="background:linear-gradient(90deg,#000070 0px,#000086 85px,#0000dc 124px,#2600ff 143px,#8d0ef1 172px,#6e03fc 180px,#1500f6 186px,#0000c0 193px,#000000 223px,#000004 701px,#0000a0 709px,#0000dc 717px,#2800ff 761px,#4600ff 787px,#1b00ff 813px,#1000ff 843px,#0000f0 847px,#00004e 856px,#000000 911px,#00000a 1258px,#000064 1286px,#00003e 1311px,#0200d6 1335px,#3e00ff 1351px,#cc2cd3 1374px,#ff619e 1393px,#ff6d92 1419px,#ea43bc 1438px,#7406f9 1461px,#1900f2 1476px,#0000c4 1483px,#00001a 1495px,#000000 1505px,#000000 1674px)"></i>
<i style="background:linear-gradient(90deg,#000070 0px,#000088 75px,#0000dc 109px,#3000ff 124px,#bc22dd 142px,#fe659a 163px,#f751ae 177px,#d230cf 181px,#6800ff 186px,#1b00ff 191px,#0000ea 196px,#00000a 217px,#000006 699px,#000084 705px,#0200f2 711px,#3600ff 725px,#8905fa 784px,#2800ff 807px,#0000f2 845px,#000090 851px,#000034 856px,#000000 893px,#000008 1236px,#000062 1246px,#0e00b8 1253px,#4f06f9 1265px,#9419e6 1280px,#8a17e8 1293px,#2f00fa 1306px,#2900fa 1317px,#6904fb 1330px,#b81fe0 1348px,#fd58a7 1366px,#ff6f90 1394px,#ec45ba 1415px,#5d00ff 1441px,#1300ec 1456px,#000098 1471px,#000002 1493px,#000000 1674px)"></i>
<i style="background:linear-gradient(90deg,#000070 0px,#00008c 65px,#0000d6 93px,#2300ff 105px,#9f17e8 118px,#e248b7 126px,#ff807f 136px,#ffa35c 154px,#ff7c83 173px,#f345ba 180px,#7b01fe 185px,#1000fc 190px,#00008c 199px,#000010 210px,#000000 226px,#00000c 691px,#000030 699px,#0700fa 708px,#6800ff 718px,#b920df 778px,#9a0cf3 788px,#2b00ff 805px,#0000f0 841px,#0000c0 847px,#000016 856px,#000000 884px,#00000a 1223px,#00005e 1230px,#0e00c8 1236px,#4700ff 1242px,#d333cc 1253px,#ff6798 1267px,#ff9a65 1292px,#f85da2 1302px,#ad18e7 1311px,#c326d9 1318px,#f251ae 1327px,#ff619e 1348px,#ff6b94 1375px,#ea43bc 1393px,#5a00ff 1419px,#1500f0 1432px,#0000a4 1447px,#000012 1476px,#000000 1499px,#000000 1674px)"></i>
<i style="background:linear-gradient(90deg,#000070 0px,#000092 56px,#0000d8 80px,#2300ff 91px,#9d13ec 103px,#ec4cb3 111px,#ff8c73 121px,#ffb24d 138px,#ff8976 162px,#f453ac 172px,#c628d7 177px,#4100ff 183px,#0a00da 186px,#00006c 191px,#000016 199px,#000000 210px,#00000a 681px,#000064 699px,#0800fe 706px,#7900ff 714px,#a614eb 724px,#b920df 781px,#6200ff 794px,#1200ff 808px,#0000d4 841px,#000090 848px,#000006 855px,#000008 1214px,#00004a 1219px,#0a00da 1226px,#3c00ff 1230px,#d230cf 1239px,#ff649b 1247px,#ff837c 1269px,#ffab54 1281px,#ffc936 1291px,#ff8877 1302px,#f647b8 1308px,#d12fd0 1313px,#ff609f 1321px,#ff827d 1329px,#f24cb3 1368px,#910ef1 1388px,#1b00f8 1408px,#0000b0 1423px,#000022 1450px,#000000 1472px,#000000 1674px)"></i>
<i style="background:linear-gradient(90deg,#000074 0px,#00009a 48px,#0000e6 71px,#2900ff 81px,#a010ef 93px,#fe56a9 103px,#ff9e61 120px,#ff956a 140px,#f259a6 155px,#aa1ce3 165px,#2b00fe 176px,#0000ca 181px,#000012 188px,#000000 193px,#00000c 673px,#000082 691px,#0000b2 700px,#0a00fc 704px,#7900ff 712px,#aa16e9 722px,#8a06f9 781px,#0500fc 805px,#0000a4 844px,#000050 850px,#000000 854px,#00000c 1209px,#000086 1216px,#0a00f2 1221px,#8605fa 1228px,#f749b6 1236px,#ff807f 1250px,#ff9867 1282px,#ff9669 1292px,#f25ca3 1299px,#aa1be4 1305px,#7306f9 1310px,#8d0af5 1315px,#fb52ad 1322px,#ff7887 1329px,#ed44bb 1349px,#6200ff 1374px,#1200f2 1389px,#00008e 1407px,#00000a 1437px,#000000 1674px)"></i>
<i style="background:linear-gradient(90deg,#000078 0px,#0000b4 47px,#0a00ff 68px,#9b0df2 88px,#f84eb1 102px,#fb639c 121px,#b923dc 141px,#2f00fe 157px,#0000c4 170px,#00006e 181px,#00000c 189px,#000010 616px,#000040 664px,#000088 676px,#0800e4 686px,#2b00ff 702px,#7f00ff 714px,#8102fd 732px,#3b00ff 785px,#0000ee 800px,#0000ac 828px,#000086 845px,#000006 856px,#00000a 1201px,#000046 1208px,#0400fc 1218px,#980bf4 1227px,#fe4eb1 1235px,#ff8a75 1252px,#ff7887 1274px,#ef51ae 1283px,#ae1fe0 1291px,#3600ff 1299px,#0500e2 1307px,#0f00ff 1312px,#9b0df2 1319px,#f547b8 1324px,#ff56a9 1330px,#970bf4 1350px,#0400f4 1377px,#000050 1411px,#00000a 1444px,#000000 1674px)"></i>
<i style="background:linear-gradient(90deg,#000082 0px,#0000e0 50px,#1800ff 65px,#8a0af5 96px,#7e0cf3 114px,#2000f6 135px,#0000bc 151px,#00007c 175px,#000040 193px,#000048 580px,#000084 650px,#0000b8 668px,#1600fe 678px,#7b05fa 689px,#7b03fc 698px,#0800f2 781px,#000092 816px,#00005e 847px,#000020 858px,#000034 884px,#000038 1197px,#000074 1208px,#0d00fa 1220px,#940ff0 1232px,#db39c6 1242px,#e148b7 1259px,#ae20df 1272px,#3400fc 1284px,#0000ba 1294px,#00008c 1301px,#0000aa 1307px,#0000fc 1312px,#9408f7 1320px,#cf2ed1 1326px,#a815ea 1335px,#3100ff 1356px,#0000ea 1371px,#000078 1402px,#00003a 1452px,#00002c 1674px)"></i>
<i style="background:linear-gradient(90deg,#000096 0px,#0500ff 52px,#3000ff 87px,#0200ea 116px,#00008a 150px,#000052 218px,#000076 583px,#0000b6 639px,#0000de 662px,#1a00ff 671px,#9a0cf3 682px,#e53cc3 690px,#c92ad5 697px,#7100ff 705px,#2300ff 719px,#0000d0 753px,#000042 821px,#000010 860px,#00005c 872px,#000068 1203px,#0000b0 1221px,#0e00e2 1232px,#2700ee 1254px,#0000c2 1274px,#000082 1292px,#00009c 1303px,#0700ff 1312px,#7300ff 1322px,#6d00ff 1330px,#0500f6 1355px,#00008a 1396px,#00005e 1466px,#00005a 1674px)"></i>
<i style="background:linear-gradient(90deg,#0000b8 0px,#0a00ff 28px,#1200ff 77px,#0000e2 99px,#000084 141px,#00003e 203px,#00001a 215px,#000050 229px,#000064 448px,#000086 583px,#0000c8 628px,#0000f2 648px,#0000e0 657px,#1b00ff 666px,#9408f7 677px,#fb52ad 685px,#ff6a95 692px,#fb4cb3 696px,#7000ff 703px,#1000fa 710px,#00009c 727px,#00001c 782px,#000000 839px,#000006 863px,#00005c 870px,#00006e 888px,#00007a 1219px,#000090 1268px,#0000b2 1302px,#0f00ff 1314px,#2e00ff 1323px,#0000de 1345px,#00008a 1384px,#000068 1469px,#000062 1674px)"></i>
<i style="background:linear-gradient(90deg,#0000ea 0px,#3400ff 23px,#0000f4 79px,#000082 127px,#000018 195px,#000000 213px,#00001e 255px,#00002e 429px,#000020 440px,#000052 455px,#000074 570px,#0000ba 616px,#1200ff 637px,#2300ff 647px,#0000ec 656px,#2600ff 663px,#9a0cf3 673px,#fe58a7 681px,#ff926d 690px,#ff6798 695px,#f144bb 697px,#7800ff 701px,#1200ff 705px,#00009a 711px,#000040 722px,#00000c 740px,#000000 864px,#000058 870px,#000070 882px,#00007e 1214px,#0000a2 1250px,#0e00e0 1270px,#0400e6 1292px,#0000d2 1304px,#0200f4 1318px,#000096 1346px,#00005e 1405px,#000048 1674px)"></i>
<i style="background:linear-gradient(90deg,#2000ff 0px,#5b00ff 26px,#1700ff 45px,#0000ea 69px,#000060 127px,#000000 182px,#00000a 448px,#000046 568px,#00007c 595px,#0b00e2 612px,#5200ff 630px,#6800ff 646px,#2200ff 656px,#6d00ff 663px,#e943bc 672px,#ff847b 680px,#ffb14e 690px,#ff718e 695px,#f144bb 697px,#8200ff 700px,#0500fe 704px,#000074 710px,#000018 719px,#000000 733px,#000000 864px,#00005e 871px,#00006e 895px,#00007c 1176px,#0000a4 1229px,#1000de 1240px,#5407f8 1249px,#b32ed1 1259px,#d649b6 1276px,#b822dd 1287px,#3600ff 1297px,#0200f8 1302px,#000098 1322px,#000056 1336px,#000028 1393px,#00000c 1674px)"></i>
<i style="background:linear-gradient(90deg,#4d00ff 0px,#7000ff 25px,#0c00ff 43px,#0000b0 75px,#00000a 140px,#00000c 570px,#00003c 582px,#0800c6 592px,#550af5 599px,#ad2dd2 605px,#ff8976 624px,#ff8b74 633px,#cd2dd2 648px,#6e00ff 655px,#7900ff 659px,#fa50af 667px,#ffa35c 681px,#ffa758 690px,#ff5ba4 695px,#cd2dd2 697px,#8103fc 699px,#0500f6 703px,#00005e 709px,#000008 717px,#000002 865px,#000052 871px,#000062 895px,#00006e 1039px,#00007e 1158px,#0000b0 1215px,#0e00e0 1223px,#5a08f7 1230px,#b02dd2 1235px,#ff926d 1244px,#ffc43b 1249px,#ffe09e 1256px,#ffed91 1275px,#ffda25 1282px,#ff748b 1291px,#e740bf 1294px,#7000ff 1298px,#0400ff 1303px,#00001c 1325px,#000000 1348px,#000000 1674px)"></i>
<i style="background:linear-gradient(90deg,#6d00ff 0px,#6800ff 24px,#0200f4 40px,#000010 106px,#000000 150px,#00000a 568px,#000042 574px,#1000be 580px,#6312ed 585px,#ac31ce 588px,#ff9768 595px,#ffc839 599px,#ffe39b 604px,#ffff82 613px,#ffffff 622px,#fffff2 635px,#ffff8e 638px,#ffe883 642px,#ffda25 644px,#fb5aa5 651px,#a211ee 657px,#b920df 661px,#ff55aa 666px,#ff7e81 676px,#ff659a 690px,#d230cf 694px,#5700ff 698px,#0700f2 701px,#000048 708px,#000000 715px,#000006 867px,#00003a 875px,#00004a 1032px,#000070 1045px,#000080 1151px,#0000c8 1205px,#1500ec 1211px,#5504fb 1216px,#bb31ce 1221px,#ff926d 1227px,#ffc23d 1230px,#ffdb97 1233px,#fffd81 1238px,#fffff9 1242px,#ffffff 1282px,#ffffd3 1284px,#ffffae 1285px,#ffff63 1286px,#fff10e 1288px,#ff58a7 1295px,#9207f8 1298px,#0d00ff 1302px,#000064 1312px,#000000 1321px,#000000 1674px)"></i>
<i style="background:linear-gradient(90deg,#7000ff 0px,#3400ff 25px,#0200ec 33px,#000088 48px,#00000e 80px,#000000 136px,#00000c 558px,#00003a 564px,#0000a6 569px,#4c05fa 574px,#c538c7 578px,#ff926d 582px,#ffcc33 585px,#ffe890 588px,#ffff82 591px,#ffffec 594px,#ffffff 596px,#ffffff 644px,#ffffba 645px,#fffe1c 646px,#ffe718 647px,#fa4bb4 653px,#9d0ef1 657px,#9a0cf3 661px,#e73fc0 669px,#ca2bd4 682px,#860bf4 691px,#1500fa 697px,#0000a4 701px,#000020 708px,#000000 714px,#00000e 1031px,#000068 1041px,#000084 1147px,#0000bc 1170px,#0700ec 1198px,#4200ff 1204px,#c531ce 1210px,#ff936c 1215px,#ffcc35 1218px,#ffdf86 1220px,#ffe896 1221px,#fffa84 1223px,#ffff95 1224px,#ffffec 1226px,#ffffff 1228px,#ffffff 1285px,#ffffe0 1286px,#fffc12 1288px,#ffd52a 1290px,#f84eb1 1295px,#7600ff 1298px,#0b00fa 1301px,#000082 1307px,#000000 1320px,#000000 1674px)"></i>
<i style="background:linear-gradient(90deg,#4600ff 0px,#0b00ee 19px,#0000c2 27px,#00003e 42px,#000000 61px,#00000a 543px,#000040 556px,#000090 561px,#1000da 564px,#3400fe 566px,#c62dd2 570px,#ff7b84 573px,#ffd926 577px,#ffef7c 579px,#ffff8e 581px,#fffff2 583px,#ffffff 607px,#ffffff 642px,#ffffe6 643px,#ffff82 644px,#fff043 645px,#ffda25 646px,#fd619e 650px,#7f08f7 654px,#3100ff 658px,#4100ff 663px,#6e03fc 670px,#1500f2 690px,#0000d4 694px,#000014 706px,#000000 713px,#00000c 1034px,#000062 1040px,#00007a 1055px,#00008e 1143px,#0000e8 1166px,#1a00ff 1190px,#6001fe 1196px,#db46b9 1202px,#ff9867 1206px,#ffd52c 1209px,#ffea88 1211px,#fffd81 1213px,#ffffe6 1215px,#ffffff 1216px,#ffffff 1282px,#ffed27 1286px,#ffdb24 1287px,#fa5fa0 1292px,#9510ef 1295px,#3c00ff 1297px,#0500e2 1299px,#000086 1302px,#000044 1308px,#000000 1318px,#000000 1674px)"></i>
<i style="background:linear-gradient(90deg,#0500e2 0px,#000006 36px,#00000a 527px,#00005c 550px,#0000aa 556px,#0e00ea 559px,#5b00ff 562px,#d12fd0 565px,#fd659a 567px,#ffe41b 572px,#ffffe6 576px,#ffffff 577px,#ffffff 637px,#fffb83 639px,#ffec92 640px,#ffcc33 642px,#fe748b 645px,#bf24db 648px,#2900ff 652px,#0000c8 655px,#000094 658px,#0000a2 662px,#0500e0 668px,#0000d0 678px,#000060 695px,#000002 705px,#000000 1033px,#00006c 1040px,#000086 1052px,#0000aa 1142px,#0d00ff 1158px,#4d00ff 1184px,#a617e8 1191px,#f7629d 1196px,#ffd926 1202px,#ffe739 1203px,#ffffa1 1206px,#ffffff 1208px,#ffffff 1275px,#ffffec 1276px,#fffe80 1278px,#fff48a 1279px,#ffdf3b 1281px,#ffd02f 1282px,#f2619e 1287px,#b41fe0 1290px,#2600ff 1294px,#0000d8 1296px,#00004e 1300px,#000024 1304px,#000000 1320px,#000000 1674px)"></i>
<i style="background:linear-gradient(90deg,#00005a 0px,#00000a 17px,#00000a 511px,#000062 535px,#0e00ae 539px,#4702b8 541px,#8027a7 543px,#8b5ea1 547px,#c5807f 552px,#ef9be3 558px,#ffa6cc 561px,#ffc041 565px,#ffe916 569px,#fff61e 570px,#ffff50 571px,#ffffc0 572px,#ffffff 573px,#ffffff 628px,#ffffec 629px,#ffffa8 630px,#fff985 631px,#ffdf9f 633px,#ffd18e 634px,#ffc443 635px,#f4758a 638px,#ab21de 642px,#3700ff 646px,#0000be 650px,#00002a 655px,#000010 659px,#000028 663px,#000074 670px,#00003e 688px,#000000 704px,#000006 1032px,#00007e 1039px,#0000a2 1049px,#0000d6 1141px,#1200ff 1151px,#5d00ff 1163px,#8205fa 1179px,#d834cb 1186px,#ff7986 1191px,#ffee19 1198px,#ffff6f 1200px,#ffffc0 1201px,#fffff2 1202px,#ffffff 1226px,#ffffff 1266px,#ffffe6 1267px,#fffe80 1269px,#ffec92 1271px,#ffcd32 1274px,#fd7a85 1278px,#ad20df 1283px,#3300ff 1288px,#0000d8 1292px,#000012 1300px,#000000 1309px,#000000 1674px)"></i>
<i style="background:linear-gradient(90deg,#000004 0px,#00000a 495px,#000086 529px,#0000ca 532px,#3d00f6 534px,#b32fd0 536px,#ff857a 538px,#ffd22d 540px,#fff280 542px,#fffd81 543px,#ffffec 546px,#ffffff 548px,#ffffff 566px,#ffffc0 567px,#fffe67 568px,#fff63d 570px,#fffe67 572px,#ffffd3 574px,#ffffff 575px,#ffffff 613px,#ffff95 616px,#fffa84 617px,#ffd9a5 621px,#ffd09b 622px,#ffbd4a 624px,#e9738c 628px,#9d21de 633px,#3700fe 637px,#0000ca 643px,#00003a 650px,#000000 653px,#00000c 667px,#000028 674px,#000000 701px,#00000a 1030px,#0000aa 1039px,#0000ce 1048px,#0f00ff 1141px,#5f00ff 1154px,#970af5 1163px,#b81fe0 1177px,#ff5ca3 1184px,#fff807 1196px,#ffff1e 1197px,#fffff9 1200px,#ffffff 1253px,#ffffc7 1255px,#fffd81 1257px,#ffe599 1260px,#ffdd8e 1261px,#ffcb43 1263px,#ffac53 1265px,#f2748b 1268px,#951be4 1274px,#2c00fe 1279px,#0000d2 1286px,#00007e 1293px,#000002 1299px,#000000 1674px)"></i>
<i style="background:linear-gradient(90deg,#000000 0px,#00000c 479px,#000096 516px,#0000dc 529px,#0500fe 531px,#8208f7 534px,#e54fb0 536px,#ff7986 537px,#ffc33c 539px,#ffdc3e 540px,#fff688 542px,#ffff88 543px,#fffff9 546px,#fffff9 552px,#ffffc0 554px,#ffff8e 555px,#ffed91 557px,#ffb8c6 561px,#ffacbf 562px,#fba371 563px,#f5718e 567px,#ffb649 574px,#ffce31 576px,#ffda53 578px,#ffe599 581px,#ffeb93 596px,#ffd1a7 603px,#ffba47 607px,#f58778 611px,#a026d9 619px,#3f00f6 624px,#0000ca 631px,#000066 642px,#000000 650px,#00000c 1025px,#00004e 1031px,#0000e2 1039px,#0800fe 1050px,#3600ff 1142px,#8c03fc 1155px,#b920df 1164px,#cf2ed1 1176px,#ff56a9 1182px,#ffe619 1198px,#fffa7e 1203px,#ffffb4 1207px,#ffffff 1212px,#ffffff 1231px,#fffe80 1238px,#ffdb97 1245px,#ffbf40 1249px,#f27a85 1254px,#9f22dd 1261px,#3a00fe 1266px,#0000d0 1274px,#00007e 1291px,#000000 1298px,#000000 1674px)"></i>
<i style="background:linear-gradient(90deg,#000000 0px,#00000c 449px,#000084 483px,#1200c8 495px,#6314eb 511px,#a12ed1 522px,#d03dc2 537px,#ff5ba4 542px,#fd619e 549px,#e039c6 554px,#9d0ef1 560px,#ab17e8 569px,#d339c6 579px,#c637c8 592px,#9a1ee1 600px,#2f00fe 609px,#0000d0 617px,#00007a 632px,#000032 645px,#000000 649px,#000004 1021px,#00007e 1031px,#0500fe 1038px,#2900ff 1047px,#4400ff 1143px,#a010ef 1158px,#c427d8 1179px,#f252ad 1188px,#ffb34c 1216px,#ff8b74 1230px,#9d23dc 1244px,#3900f8 1251px,#0000c8 1260px,#00009a 1271px,#00007c 1289px,#000024 1295px,#000000 1297px,#000000 1674px)"></i>
<i style="background:linear-gradient(90deg,#000000 0px,#00000c 224px,#00001c 402px,#000030 425px,#000016 438px,#000042 444px,#000090 451px,#1000d4 465px,#5d10ee 475px,#9f36c9 481px,#f09669 492px,#f8a15e 493px,#ffb4be 497px,#ffff82 520px,#ffffa1 528px,#fffb83 536px,#ffe098 546px,#ffd02f 550px,#f557a8 562px,#8600ff 574px,#0000fc 603px,#000066 644px,#000000 651px,#000008 1019px,#00009e 1031px,#0000fc 1036px,#3100ff 1044px,#3000ff 1143px,#7f03fc 1163px,#7106f9 1193px,#5b08f7 1219px,#2e00f0 1229px,#0000c2 1242px,#00008e 1258px,#00006e 1289px,#00001a 1295px,#000000 1297px,#000000 1674px)"></i>
<i style="background:linear-gradient(90deg,#000000 0px,#00000c 189px,#00002a 217px,#000050 230px,#000060 384px,#0000a2 419px,#0000be 438px,#4200ff 450px,#b336c9 459px,#ffaf52 468px,#ffbea7 470px,#ffc5b9 471px,#ffff88 479px,#ffffff 482px,#ffffff 551px,#ffffda 552px,#ffff9b 553px,#ffff3d 554px,#fff80f 555px,#f546b9 567px,#8201fe 574px,#3300ff 584px,#0000f0 604px,#000086 644px,#00003c 650px,#000000 655px,#000008 847px,#000018 1013px,#0000a0 1028px,#0700ff 1037px,#2000ff 1049px,#0d00ff 1147px,#3900ff 1164px,#0a00f4 1192px,#0000b0 1214px,#000080 1254px,#00006a 1288px,#000026 1294px,#000000 1296px,#000000 1674px)"></i>
<i style="background:linear-gradient(90deg,#000000 0px,#00000c 156px,#000058 207px,#000068 268px,#000090 381px,#0000d4 411px,#1a00ff 425px,#5700ff 434px,#c93fc0 442px,#ffa55a 449px,#ffbd51 451px,#ffcc99 453px,#ffd4aa 454px,#fffe80 459px,#ffffff 462px,#ffffff 549px,#ffffec 550px,#ffec22 554px,#ffcb34 556px,#f252ad 563px,#7c04fb 570px,#2800ff 579px,#0000ee 597px,#000086 646px,#000030 657px,#000046 806px,#000042 848px,#000020 859px,#00003c 882px,#00004e 933px,#00007e 998px,#00005e 1013px,#0000c4 1029px,#0200f4 1041px,#0000ce 1145px,#0400f0 1163px,#0000c2 1190px,#000088 1210px,#000068 1288px,#000024 1294px,#000000 1296px,#000000 1674px)"></i>
<i style="background:linear-gradient(90deg,#000000 0px,#00000c 123px,#000062 181px,#00007e 303px,#000096 342px,#0000b2 382px,#0b00fe 410px,#840bf4 423px,#db47b8 430px,#ff9a65 435px,#ffc13e 437px,#ffce5f 438px,#ffd8a0 439px,#fff985 442px,#ffffa1 443px,#ffffe0 444px,#ffffff 445px,#ffffff 541px,#ffffe6 542px,#fffd81 544px,#ffea94 546px,#ffd743 548px,#ffca35 549px,#f86d92 554px,#a318e7 560px,#3100ff 568px,#0400f8 579px,#000098 632px,#000064 666px,#000068 921px,#0000b0 947px,#0000e6 996px,#000084 1013px,#0000c2 1038px,#0000a2 1147px,#0000b0 1170px,#00007a 1219px,#000066 1288px,#000024 1294px,#000000 1296px,#000000 1674px)"></i>
<i style="background:linear-gradient(90deg,#000000 0px,#00000c 91px,#000062 148px,#00007e 298px,#0000a8 323px,#0000c6 379px,#0f00ff 404px,#4f00ff 411px,#bb21de 417px,#ff748b 423px,#ffd829 429px,#ffec8c 431px,#ffff88 433px,#ffffff 435px,#ffffff 528px,#ffffe6 529px,#ffff82 531px,#ffdca2 535px,#ffd398 536px,#ffc23f 538px,#ec6c93 543px,#a31ee1 549px,#3700ff 556px,#0500f6 565px,#000098 617px,#000072 687px,#00007a 921px,#0000ce 935px,#0500f2 943px,#3400ff 996px,#0200f4 1003px,#000092 1013px,#000098 1029px,#000084 1188px,#000064 1288px,#000036 1293px,#000000 1296px,#000000 1674px)"></i>
<i style="background:linear-gradient(90deg,#000000 0px,#00000e 60px,#000062 114px,#00007c 294px,#0000be 319px,#0000e0 378px,#1a00ff 398px,#4700ff 406px,#a211ee 411px,#fa59a6 415px,#ffe41b 423px,#ffff8e 426px,#fffff9 428px,#ffffff 509px,#ffff8e 512px,#ffec92 515px,#ffc7b1 520px,#ffb862 522px,#ffaf50 523px,#b22bd4 533px,#3f00ff 541px,#0700f4 550px,#000098 601px,#000074 696px,#00007c 919px,#0000c2 929px,#0d00fe 935px,#3e00ff 943px,#7600ff 995px,#0400fc 1005px,#000094 1014px,#000080 1028px,#000066 1289px,#000000 1299px,#000016 1662px,#00001e 1674px)"></i>
<i style="background:linear-gradient(90deg,#000000 0px,#00001c 35px,#000062 83px,#00006c 275px,#00008a 298px,#0000da 318px,#0000f8 376px,#4c00ff 403px,#9509f6 408px,#fe58a7 412px,#ffe11e 419px,#fff00f 420px,#fffa1a 421px,#ffff50 422px,#ffffec 424px,#ffffff 426px,#fffff2 471px,#fffd81 480px,#ffc1bd 495px,#ffae59 499px,#af2cd3 513px,#3f00ff 523px,#0500f4 534px,#000098 586px,#000074 681px,#00007c 917px,#0000ac 925px,#0700fe 931px,#7900ff 941px,#a211ee 994px,#6200ff 1000px,#0100ff 1006px,#000094 1014px,#000076 1029px,#000066 1291px,#00002a 1303px,#000052 1632px,#000078 1674px)"></i>
<i style="background:linear-gradient(90deg,#000018 0px,#000064 52px,#000068 268px,#00005c 283px,#0000ba 305px,#0000f2 318px,#1000ff 378px,#6300ff 403px,#a312ed 407px,#fa4cb3 410px,#ffe916 417px,#fffc05 419px,#ffff95 423px,#ffffba 426px,#fffd81 431px,#ffe092 443px,#ffd360 446px,#ffcc42 447px,#ffa857 450px,#f0728d 459px,#a621de 485px,#3600ff 501px,#0000f2 519px,#000098 570px,#000074 665px,#00007c 916px,#0000ae 924px,#0d00ff 930px,#9b0df2 940px,#a513ec 991px,#8902fd 997px,#0000fc 1006px,#00009a 1013px,#000074 1024px,#000064 1296px,#000070 1607px,#0000b4 1674px)"></i>
<i style="background:linear-gradient(90deg,#000052 0px,#000070 75px,#000064 256px,#000026 280px,#000096 298px,#0400fe 315px,#1e00ff 378px,#6b00ff 402px,#a010ef 406px,#ff59a6 410px,#ffdf20 416px,#fff609 420px,#ffd827 428px,#f557a8 445px,#be23dc 450px,#7801fe 458px,#0400fa 498px,#000098 555px,#000074 647px,#00007c 916px,#0000b0 924px,#0100ff 929px,#9509f6 939px,#a312ed 949px,#7b00ff 994px,#1400ff 1003px,#0000c6 1008px,#00007e 1017px,#000070 1079px,#00007a 1589px,#0000be 1656px,#0000de 1674px)"></i>
<i style="background:linear-gradient(90deg,#00006a 0px,#000064 242px,#000000 277px,#000006 282px,#000074 291px,#0a00ff 313px,#2000ff 342px,#3100ff 379px,#8100ff 403px,#d230cf 408px,#ff53ac 410px,#ffbc43 416px,#ffb649 423px,#f04db2 435px,#7400ff 449px,#3700ff 460px,#0000ee 488px,#000098 540px,#000074 632px,#00007c 916px,#0000b6 925px,#1000ff 931px,#7800ff 940px,#4600ff 991px,#1800ff 999px,#0000da 1004px,#000082 1014px,#000070 1044px,#00007a 1568px,#0000c4 1640px,#0500fc 1674px)"></i>
<i style="background:linear-gradient(90deg,#000070 0px,#000064 228px,#000020 250px,#000000 266px,#000006 283px,#00006a 290px,#0000e6 307px,#1400ff 312px,#4100ff 327px,#4c00ff 378px,#9d0ef1 404px,#ff56a9 411px,#ff8e71 417px,#f751ae 427px,#8606f9 437px,#1e00ff 454px,#0000e0 478px,#00008e 535px,#000070 670px,#00007c 917px,#0000bc 927px,#1200ff 934px,#4200ff 942px,#1000ff 989px,#0000de 999px,#000082 1012px,#000070 1045px,#00007a 1548px,#0000c0 1618px,#0d00ff 1661px,#1d00ff 1674px)"></i>
<i style="background:linear-gradient(90deg,#000070 0px,#000064 214px,#000022 236px,#000000 251px,#000000 283px,#000068 290px,#0000d8 305px,#0f00ff 310px,#6600ff 323px,#7800ff 379px,#be23dc 405px,#ff53ac 412px,#ff649b 418px,#f245ba 423px,#7600ff 432px,#1e00ff 443px,#0000e6 460px,#000092 514px,#000070 633px,#00007c 917px,#0000b6 929px,#0500f8 938px,#0000f6 985px,#000078 1013px,#00007a 1529px,#0000c0 1599px,#0d00ff 1642px,#3000ff 1674px)"></i>
<i style="background:linear-gradient(90deg,#000070 0px,#000064 200px,#00001e 223px,#000000 238px,#000000 283px,#00006c 291px,#0000de 306px,#0f00ff 310px,#7f00ff 323px,#9509f6 382px,#d733cc 408px,#f84bb4 416px,#cf2ed1 422px,#6d00ff 429px,#0d00ff 439px,#0000b2 472px,#00007a 543px,#00007a 912px,#0000ac 930px,#0000de 945px,#0000f6 983px,#000084 1004px,#000070 1036px,#00007a 1510px,#0000c0 1580px,#0c00ff 1622px,#3600ff 1674px)"></i>
<i style="background:linear-gradient(90deg,#00006e 0px,#000064 187px,#000000 221px,#000002 284px,#000066 291px,#0000ce 306px,#1200ff 312px,#7000ff 324px,#7e01fe 382px,#bb21de 417px,#5700ff 427px,#0400fa 436px,#0000b6 453px,#00007c 522px,#00007a 896px,#0000a4 927px,#0000fa 966px,#0a00ff 982px,#0000ca 990px,#00007e 1003px,#000070 1080px,#00007a 1491px,#0000c0 1560px,#0f00ff 1599px,#3400ff 1663px,#2d00ff 1674px)"></i>
<i style="background:linear-gradient(90deg,#000064 0px,#000064 173px,#000000 207px,#000002 285px,#000058 291px,#0000c8 309px,#0f00ff 317px,#3400ff 329px,#3400ff 381px,#5f00ff 417px,#0000f2 432px,#0000ae 445px,#00007a 511px,#00007a 881px,#0000b8 927px,#0c00ff 960px,#2800ff 981px,#0000fa 987px,#000088 999px,#000070 1020px,#00007c 1476px,#0000c0 1542px,#1200ff 1572px,#4d00ff 1600px,#1a00ff 1674px)"></i>
<i style="background:linear-gradient(90deg,#000050 0px,#00005a 50px,#000070 61px,#000062 160px,#000000 193px,#000004 286px,#00004c 295px,#0000e0 323px,#0000d4 358px,#0000bc 370px,#0800e8 415px,#0000ca 430px,#000090 451px,#00006e 544px,#000076 862px,#0000b4 912px,#1000fe 941px,#5f00ff 974px,#4f00ff 982px,#0000f4 990px,#00008c 1000px,#00006a 1021px,#000074 1457px,#0000b8 1523px,#0d00fa 1550px,#8d0ff0 1573px,#bf24db 1589px,#8d07f8 1607px,#2e00ff 1633px,#0200f6 1674px)"></i>
<i style="background:linear-gradient(90deg,#00002a 0px,#000032 49px,#00006c 55px,#000064 145px,#000000 180px,#00000a 292px,#00006a 311px,#00009e 321px,#000096 354px,#000046 367px,#00007a 422px,#00009c 432px,#000068 468px,#000058 830px,#000092 887px,#0d00ee 914px,#6005fa 929px,#c52bd4 946px,#df41be 968px,#c628d7 979px,#4900ff 988px,#0200f8 993px,#00008e 1002px,#000058 1018px,#000058 1444px,#0000b6 1517px,#0e00fe 1538px,#9411ee 1553px,#df41be 1562px,#ff758a 1574px,#ff718e 1590px,#f345ba 1600px,#7600ff 1613px,#1200ff 1629px,#0000b6 1674px)"></i>
<i style="background:linear-gradient(90deg,#000004 0px,#00000c 49px,#000066 54px,#000064 133px,#000000 165px,#00000c 258px,#00000e 268px,#000000 289px,#000010 308px,#000076 318px,#000080 350px,#000050 358px,#000006 364px,#00001a 420px,#000080 430px,#000078 446px,#00003c 458px,#00002e 830px,#000078 876px,#0800de 893px,#5504fb 903px,#bb2fd0 912px,#ff946b 926px,#ffd02f 943px,#ffb847 962px,#fe4eb1 980px,#7800ff 987px,#0500fa 993px,#00007c 1001px,#000034 1012px,#000020 1057px,#000024 1439px,#000080 1490px,#0000e2 1524px,#2500ff 1532px,#a013ec 1542px,#ed4cb3 1549px,#ff8976 1558px,#ffaf50 1575px,#ff837c 1590px,#f54ab5 1598px,#7301fe 1608px,#0e00f4 1618px,#00009c 1640px,#00005e 1674px)"></i>
<i style="background:linear-gradient(90deg,#000000 0px,#00000a 50px,#000064 54px,#000066 128px,#00000a 145px,#00000c 244px,#00004c 264px,#000010 271px,#000000 279px,#000002 310px,#000066 318px,#000076 338px,#000066 354px,#000000 363px,#00000a 421px,#000072 430px,#000072 444px,#00001c 453px,#000004 460px,#00000c 836px,#000052 862px,#0000b0 873px,#3700f6 882px,#8f1be4 888px,#db54ab 895px,#ff9768 901px,#ffca37 906px,#ffe39b 911px,#ffff88 918px,#fffff9 925px,#ffffff 945px,#ffffc0 950px,#fffd04 956px,#ff748b 974px,#e93fc0 979px,#6900ff 985px,#1300f8 989px,#000096 994px,#00002c 1001px,#000000 1012px,#00000c 1445px,#000054 1474px,#0b00cc 1486px,#5209f5 1495px,#8d1fe0 1505px,#6506f9 1524px,#a616e9 1533px,#fa57a8 1541px,#ffa659 1556px,#ff9e61 1578px,#f24db2 1591px,#6800ff 1601px,#1000f0 1608px,#00008a 1619px,#000046 1639px,#00000e 1674px)"></i>
<i style="background:linear-gradient(90deg,#000000 0px,#00000a 50px,#000064 54px,#000066 125px,#000034 131px,#000000 136px,#00000c 230px,#000062 256px,#000052 266px,#000000 273px,#00000c 311px,#000066 319px,#000070 350px,#000048 357px,#000000 362px,#000000 421px,#00006a 430px,#000070 443px,#00002e 450px,#000000 454px,#000008 835px,#000068 852px,#0e00ce 861px,#4601fe 867px,#bb2dd2 874px,#ff8778 882px,#ffd22d 889px,#ffef89 894px,#ffff82 897px,#fffff2 901px,#ffffff 925px,#fffff9 948px,#ffffba 950px,#ffff50 952px,#fff20f 955px,#f558a7 970px,#b31ce3 975px,#2b00ff 982px,#0000b6 987px,#00002e 994px,#000000 1000px,#00000a 1443px,#00005c 1465px,#0000ac 1471px,#3100ec 1476px,#7012ed 1479px,#b231ce 1482px,#ff9b64 1489px,#ffbf48 1492px,#ffd3a5 1496px,#ffdea0 1510px,#ffd491 1514px,#ffc73a 1518px,#ff7689 1530px,#ff906f 1543px,#ffa15e 1562px,#ff738c 1577px,#e13ec1 1584px,#5d00ff 1593px,#1300ee 1599px,#000094 1607px,#000040 1620px,#000000 1665px,#000000 1674px)"></i>
<i style="background:linear-gradient(90deg,#000004 0px,#00000c 49px,#000066 54px,#000066 124px,#00002a 130px,#000000 133px,#00000c 216px,#000064 243px,#000062 264px,#000000 274px,#000000 310px,#000060 318px,#000070 338px,#000060 354px,#000000 363px,#000008 422px,#000066 430px,#000070 442px,#00003c 449px,#000000 454px,#00000a 830px,#0800d4 847px,#4400ff 853px,#ce35ca 861px,#ff7e81 867px,#ffe91e 878px,#fffe67 883px,#ffffc7 886px,#ffffff 889px,#ffffff 938px,#fffd81 943px,#fff886 944px,#ffe225 948px,#f2639c 959px,#ab1fe0 965px,#3900ff 971px,#0000ba 978px,#000010 990px,#000000 1006px,#000008 1440px,#000056 1453px,#00008a 1461px,#0a00e0 1466px,#3f00ff 1469px,#c52ad5 1473px,#ff8c73 1477px,#ffd12e 1480px,#ffe88a 1482px,#fffb83 1484px,#ffffff 1487px,#ffffff 1521px,#ffffb4 1523px,#fff92e 1525px,#fff00f 1526px,#ff936c 1534px,#ff857a 1548px,#fb619e 1565px,#b61fe0 1575px,#2c00fe 1585px,#0000b6 1593px,#00004e 1604px,#000014 1624px,#000000 1671px,#000000 1674px)"></i>
<i style="background:linear-gradient(90deg,#00002c 0px,#000032 49px,#00006c 55px,#000064 124px,#000028 130px,#000000 133px,#00000c 202px,#000064 229px,#000066 264px,#000002 274px,#000002 310px,#000060 318px,#000070 338px,#000060 354px,#000000 363px,#000004 422px,#000064 430px,#00006c 442px,#000038 449px,#000000 454px,#00000a 825px,#000070 832px,#0d00e6 838px,#5000ff 843px,#cf2ed1 850px,#ff758a 856px,#fff30c 870px,#fffe22 873px,#ffffda 880px,#ffffff 882px,#fffff9 920px,#fffe80 926px,#ffe890 931px,#ffcb34 936px,#f06e91 944px,#971ee1 952px,#4000f8 957px,#0000ae 965px,#000038 975px,#000000 988px,#000008 1438px,#00007a 1452px,#0000b8 1459px,#1400ff 1463px,#8f0af5 1467px,#f44fb0 1470px,#ffeb14 1476px,#fff93a 1477px,#ffffe0 1479px,#ffffff 1480px,#ffffff 1520px,#ffffd3 1521px,#ffff8e 1522px,#fff77b 1523px,#ffe01f 1525px,#f85fa0 1533px,#d937c8 1542px,#ae1de2 1555px,#3200fc 1569px,#0000aa 1580px,#000044 1592px,#00000a 1612px,#000000 1674px)"></i>
<i style="background:linear-gradient(90deg,#000050 0px,#000058 50px,#000070 60px,#000066 124px,#00001e 131px,#000000 134px,#00000c 188px,#000062 214px,#00006a 265px,#000010 280px,#000000 309px,#000060 318px,#000070 338px,#000066 353px,#000024 360px,#000000 364px,#00000a 422px,#000064 430px,#000070 441px,#000038 449px,#000000 454px,#000008 820px,#000062 827px,#1000fc 834px,#a010ef 841px,#fa4fb0 847px,#ffcf30 862px,#fff60b 871px,#ffff63 884px,#ffed72 902px,#ffcd32 913px,#f0738c 924px,#9721de 934px,#4a04f4 939px,#0000a4 949px,#00003a 959px,#000002 974px,#000008 1436px,#00009e 1451px,#0000da 1458px,#0f00ff 1461px,#9106f9 1466px,#f84ab5 1469px,#ffee11 1476px,#fff934 1477px,#ffffcd 1479px,#ffffff 1480px,#fffff9 1511px,#ffff95 1513px,#fff985 1514px,#ffe599 1516px,#ffda7f 1517px,#ffd04a 1518px,#ffbf40 1519px,#f06a95 1523px,#a61de2 1528px,#5000ff 1534px,#1600ea 1551px,#0000a2 1563px,#000032 1581px,#000002 1613px,#000000 1674px)"></i>
<i style="background:linear-gradient(90deg,#00006e 0px,#000068 52px,#000064 125px,#000000 135px,#00000e 175px,#000062 200px,#00006a 268px,#00004a 281px,#000002 306px,#000020 311px,#000068 319px,#00007a 349px,#000036 361px,#00001c 367px,#00001c 376px,#00001e 420px,#00007e 433px,#000056 447px,#000006 455px,#00000e 798px,#00001a 814px,#000072 824px,#0700fe 831px,#9408f7 838px,#fa4cb3 846px,#ff9669 858px,#ffb04f 881px,#f46f90 897px,#911be4 913px,#3a00f6 920px,#0000b6 930px,#00004a 944px,#000018 971px,#00001c 980px,#000008 999px,#000016 1067px,#00000a 1150px,#000018 1287px,#000012 1362px,#000018 1429px,#000058 1439px,#0000d6 1450px,#2000ff 1461px,#7c03fc 1467px,#e748b7 1472px,#ff8c73 1476px,#ffd42d 1481px,#ffe896 1485px,#fff589 1497px,#ffd7a1 1503px,#ffc450 1506px,#ffba45 1507px,#f77e81 1511px,#ae24db 1517px,#3100ff 1523px,#0000d8 1531px,#00008e 1554px,#000052 1569px,#000028 1602px,#000014 1674px)"></i>
<i style="background:linear-gradient(90deg,#000086 0px,#000088 5px,#00006e 14px,#00007c 35px,#000074 41px,#00005e 50px,#000070 65px,#000070 119px,#00004a 129px,#000000 137px,#00000e 161px,#000052 179px,#000070 214px,#00007a 272px,#0000a2 277px,#00005c 286px,#000034 308px,#000070 322px,#00007a 340px,#0000a8 346px,#00006a 355px,#000054 366px,#00007c 372px,#00004c 380px,#000054 422px,#00009e 434px,#00006c 444px,#00002e 459px,#000028 546px,#000024 554px,#000032 575px,#000026 601px,#000028 608px,#000022 619px,#000036 669px,#000046 678px,#00006a 683px,#000036 691px,#000036 750px,#00005a 758px,#000036 768px,#000040 795px,#00006c 801px,#000042 809px,#0000a6 825px,#0c00ff 831px,#950bf4 841px,#e945ba 855px,#9a18e7 883px,#2f00fc 896px,#0000d4 911px,#0000cc 916px,#000084 923px,#000052 954px,#00004c 971px,#00007c 977px,#000040 985px,#000048 1049px,#000050 1055px,#00005c 1061px,#00008e 1071px,#000042 1078px,#00004c 1167px,#00006a 1172px,#000040 1181px,#00004c 1279px,#00007c 1290px,#000044 1298px,#000040 1335px,#000030 1342px,#00005a 1361px,#00005a 1369px,#000036 1383px,#000054 1430px,#000094 1440px,#0000f6 1447px,#3c00ff 1459px,#2900ff 1465px,#820ef1 1476px,#c02ed1 1484px,#d649b6 1496px,#3f00ff 1509px,#0000dc 1519px,#0000a6 1533px,#0000b2 1539px,#0000ca 1544px,#0000b4 1549px,#0000b2 1553px,#000078 1560px,#000056 1583px,#000056 1611px,#00006c 1617px,#00004e 1627px,#000060 1645px,#000074 1651px,#00004a 1659px,#00004a 1674px)"></i>
<i style="background:linear-gradient(90deg,#00009e 0px,#0000b4 3px,#000070 11px,#00007c 33px,#000096 38px,#00004e 48px,#000070 59px,#000062 83px,#000066 93px,#000066 125px,#000040 135px,#000004 140px,#000032 156px,#00006a 171px,#000078 270px,#0000b6 274px,#0000e0 277px,#000072 284px,#000060 312px,#000078 339px,#0000d8 345px,#0000c0 348px,#00007c 352px,#000070 365px,#0000c8 371px,#000094 375px,#00006a 379px,#000072 426px,#0000ae 431px,#0000c6 434px,#000074 441px,#000056 475px,#00004e 495px,#000056 543px,#000036 552px,#00005e 560px,#000052 599px,#000032 605px,#000056 615px,#000032 623px,#00005c 631px,#000068 676px,#0000c2 682px,#0000a2 685px,#000062 690px,#000054 735px,#000052 742px,#000076 753px,#0000a2 757px,#000060 765px,#000066 794px,#0000bc 800px,#0000a6 803px,#000066 808px,#000082 814px,#0000a8 819px,#0000a2 825px,#0800fe 833px,#4600ff 841px,#5400ff 849px,#9208f7 854px,#2d00ff 865px,#0e00fa 877px,#1800ff 883px,#0000d0 889px,#0000a2 908px,#0000e4 915px,#00008e 921px,#00006c 953px,#000076 961px,#00006c 970px,#0000a8 974px,#0000d0 977px,#00006a 984px,#00006a 1047px,#000092 1053px,#000078 1058px,#0000ca 1065px,#0700f2 1071px,#0000d6 1073px,#000074 1077px,#000062 1086px,#00006e 1166px,#0000b4 1172px,#000066 1179px,#00006a 1277px,#0000bc 1287px,#0000d0 1290px,#00006e 1296px,#00006a 1329px,#000060 1335px,#000038 1341px,#000064 1350px,#00007a 1359px,#0000a4 1366px,#000046 1380px,#000064 1395px,#000074 1430px,#0000a2 1440px,#0100ff 1446px,#5400ff 1455px,#6900ff 1458px,#1500ff 1465px,#1b00ff 1490px,#5700ff 1495px,#0500f4 1501px,#0000ba 1516px,#0000a2 1536px,#0000da 1540px,#0700fc 1543px,#0000d8 1548px,#0000f2 1552px,#00008e 1558px,#000064 1577px,#000060 1583px,#00006c 1600px,#000066 1610px,#0000a2 1616px,#000068 1624px,#000076 1641px,#0000be 1650px,#00006a 1657px,#000064 1674px)"></i>
<i style="background:linear-gradient(90deg,#0000a8 0px,#0000c4 3px,#000074 10px,#000078 32px,#0000a0 38px,#000048 48px,#000070 59px,#000064 82px,#000058 90px,#000070 104px,#00006a 130px,#000086 135px,#000038 141px,#00007e 170px,#000070 191px,#00007c 270px,#0000ac 273px,#0000f8 276px,#0000e0 279px,#000082 283px,#000070 292px,#00007c 339px,#0000ac 342px,#0000f0 345px,#0000e8 347px,#000080 352px,#000070 362px,#000088 366px,#0000e8 371px,#0000c0 374px,#000078 378px,#00007c 427px,#0000dc 433px,#0000bc 436px,#00007c 440px,#00006a 488px,#00005e 499px,#000062 544px,#00003a 551px,#00006e 559px,#000062 599px,#00003a 605px,#000066 614px,#000036 622px,#00006a 630px,#00007a 676px,#0000ea 682px,#0000da 684px,#000082 688px,#00006e 698px,#000060 735px,#00005a 741px,#00008a 753px,#0000c2 757px,#000070 765px,#000076 794px,#0000de 800px,#0000c6 803px,#00007a 807px,#00007a 812px,#0000bc 818px,#000098 824px,#0900ff 837px,#1e00ff 849px,#6b00ff 854px,#0a00ff 862px,#0000ca 874px,#0500fe 882px,#0000ac 889px,#000094 908px,#0000ee 914px,#0000d2 917px,#00008a 921px,#000076 953px,#000084 961px,#000074 969px,#000094 972px,#0000f0 976px,#0000ec 978px,#00007e 983px,#00006e 995px,#000076 1047px,#0000aa 1053px,#00008c 1058px,#0000f0 1065px,#1800ff 1069px,#1500ff 1072px,#0000fe 1073px,#000086 1077px,#00006e 1083px,#000076 1165px,#0000d4 1172px,#000072 1179px,#000078 1277px,#0000ca 1286px,#0000f8 1289px,#0000d2 1292px,#00007e 1296px,#00006e 1312px,#000072 1334px,#000038 1340px,#00006e 1349px,#000080 1358px,#0000be 1365px,#000098 1370px,#000046 1381px,#00006e 1391px,#00007c 1430px,#00009a 1440px,#0200fc 1447px,#2e00ff 1453px,#6e00ff 1457px,#4f00ff 1460px,#0a00ff 1464px,#0000d8 1488px,#1400ff 1492px,#4100ff 1495px,#0200fc 1499px,#0000bc 1503px,#000098 1536px,#0000e0 1540px,#0c00ff 1542px,#0000ee 1546px,#0000ee 1549px,#0000fa 1553px,#00008e 1558px,#000068 1576px,#000054 1581px,#000074 1591px,#000064 1609px,#0000b8 1616px,#000070 1624px,#00007c 1640px,#0000b4 1646px,#0000dc 1650px,#00007a 1656px,#00006e 1674px)"></i>
<i style="background:linear-gradient(90deg,#00009e 0px,#0000b4 3px,#000074 10px,#00007c 33px,#000098 38px,#000050 48px,#000070 60px,#000062 83px,#000066 93px,#000078 130px,#0000a0 135px,#000062 142px,#000078 172px,#000070 228px,#000078 270px,#0000b8 274px,#0000e2 277px,#000078 284px,#000078 339px,#0000d8 345px,#0000c0 348px,#00007c 352px,#00007a 365px,#0000d2 371px,#00009e 375px,#000070 380px,#000078 427px,#0000c6 433px,#00009c 437px,#000072 442px,#000066 494px,#000066 544px,#00004a 552px,#000074 560px,#000068 599px,#000048 605px,#00006a 614px,#000048 623px,#000072 630px,#00007c 676px,#0000d6 682px,#0000b6 685px,#00007a 689px,#000062 736px,#00006e 745px,#00008a 753px,#0000b6 757px,#000070 766px,#000078 794px,#0000ce 801px,#000076 808px,#00008e 814px,#0000aa 819px,#000092 825px,#0000ec 840px,#0000e8 848px,#3300ff 854px,#0000ea 860px,#0000a8 872px,#0000ba 878px,#0000d8 882px,#000090 890px,#00008c 909px,#0000d0 914px,#0000a8 918px,#00007a 923px,#00007e 956px,#000074 965px,#000082 971px,#0000dc 977px,#000078 984px,#000074 1046px,#0000a2 1053px,#000090 1059px,#0000d8 1065px,#0a00fc 1071px,#0000e4 1073px,#000082 1077px,#000070 1086px,#000078 1165px,#0000c2 1172px,#000074 1179px,#000078 1277px,#0000ca 1287px,#0000e0 1290px,#00007e 1296px,#000070 1316px,#000074 1334px,#000044 1341px,#000070 1350px,#000086 1359px,#0000b2 1365px,#000050 1381px,#000070 1393px,#000080 1432px,#00009e 1441px,#0000ee 1449px,#1b00ff 1454px,#3f00ff 1458px,#0000f2 1463px,#0000c8 1473px,#0000c0 1489px,#0f00ff 1494px,#0000f0 1498px,#0000aa 1502px,#000086 1535px,#0000b0 1539px,#0000f0 1543px,#0000ca 1548px,#0000e4 1552px,#00007e 1559px,#000062 1577px,#000062 1583px,#000070 1600px,#000066 1609px,#0000aa 1616px,#000070 1625px,#00007e 1641px,#0000c8 1650px,#000074 1657px,#000070 1674px)"></i>
<i style="background:linear-gradient(90deg,#00008a 0px,#00008a 5px,#000070 15px,#00007e 35px,#00006e 43px,#000066 51px,#000078 130px,#00008e 136px,#00006e 144px,#00007a 271px,#0000ac 277px,#000072 285px,#00007a 340px,#0000a8 346px,#000070 354px,#00007a 366px,#0000a2 372px,#000070 380px,#00007a 428px,#00009e 434px,#000070 443px,#000066 546px,#000064 554px,#000070 566px,#000068 608px,#00006a 618px,#000068 625px,#00007a 661px,#00007e 677px,#0000a4 683px,#000072 691px,#000072 750px,#000090 759px,#000070 768px,#00007e 796px,#0000a2 801px,#000074 809px,#00008e 820px,#000094 828px,#0000c2 842px,#0000c6 850px,#0000e2 855px,#0000a4 864px,#000092 877px,#0000a2 883px,#00007e 893px,#000084 910px,#0000a2 915px,#000074 924px,#00007a 971px,#0000aa 977px,#000072 985px,#00007c 1049px,#000084 1055px,#000090 1061px,#0000c0 1071px,#000076 1078px,#000076 1166px,#000098 1173px,#000070 1181px,#00007a 1279px,#0000aa 1290px,#000072 1298px,#00006a 1336px,#000060 1343px,#00008e 1368px,#000060 1382px,#000076 1414px,#000088 1438px,#0700f4 1457px,#0000b4 1468px,#0000a4 1490px,#0000cc 1496px,#00008e 1503px,#000080 1537px,#0000b2 1543px,#0000a2 1549px,#0000a8 1553px,#000076 1560px,#00006c 1584px,#000074 1611px,#00008e 1617px,#000070 1627px,#000082 1644px,#00009a 1651px,#000070 1659px,#000070 1674px)"></i>
<i style="background:linear-gradient(90deg,#00007a 0px,#000070 117px,#000070 268px,#000080 279px,#000070 303px,#00007c 343px,#00007c 369px,#000078 430px,#000074 586px,#000082 664px,#00007c 679px,#000076 754px,#00007c 823px,#00009c 844px,#00009a 857px,#000080 878px,#000076 919px,#000076 982px,#00007c 1061px,#000084 1073px,#000070 1088px,#00007c 1170px,#00007a 1284px,#00007c 1293px,#000072 1357px,#00006e 1378px,#000080 1436px,#0000bc 1457px,#000094 1474px,#000094 1493px,#000076 1526px,#000080 1554px,#000070 1594px,#00007c 1647px,#000070 1674px)"></i>
<i style="background:linear-gradient(90deg,#000074 0px,#00007c 591px,#000094 661px,#000072 683px,#00007a 828px,#00007c 861px,#00006e 1113px,#00007c 1436px,#000096 1458px,#000074 1528px,#000070 1674px)"></i>
<i style="background:linear-gradient(90deg,#000074 0px,#00007c 560px,#0000a6 659px,#000068 679px,#000072 1434px,#000080 1462px,#000070 1654px,#000070 1674px)"></i>
<i style="background:linear-gradient(90deg,#00007a 0px,#00007c 529px,#0000be 625px,#0000b6 642px,#0000a6 659px,#00004e 676px,#000050 1157px,#000070 1173px,#00006e 1608px,#000070 1674px)"></i>
<i style="background:linear-gradient(90deg,#00008c 0px,#00007c 42px,#000068 65px,#00007c 499px,#0000ba 589px,#0a00f4 634px,#0000d4 642px,#0000ba 649px,#0000a8 659px,#00002c 675px,#000014 703px,#00001e 1155px,#00006e 1166px,#00008a 1250px,#00006e 1284px,#000052 1300px,#000056 1602px,#000070 1620px,#000070 1674px)"></i>
<i style="background:linear-gradient(90deg,#1600e0 0px,#2100e4 10px,#0000c2 21px,#00008c 41px,#000058 49px,#00005a 170px,#000070 181px,#00007a 489px,#0000c8 566px,#1800f6 588px,#840ef1 626px,#7106f9 637px,#1b00fa 647px,#0000e0 659px,#000034 673px,#000000 686px,#000008 1153px,#000096 1166px,#0a00de 1195px,#2000f0 1242px,#0000cc 1277px,#000082 1287px,#000056 1295px,#000028 1336px,#000030 1601px,#00006e 1613px,#000070 1674px)"></i>
<i style="background:linear-gradient(90deg,#e457a8 0px,#fe7986 7px,#dc4db2 14px,#a61de2 18px,#3400ff 23px,#0000e8 28px,#00009c 41px,#00003a 47px,#000028 71px,#000030 169px,#00006c 175px,#00007c 485px,#0000ac 515px,#0000e4 548px,#4100ff 566px,#c930cf 587px,#ff758a 613px,#ff649b 634px,#d733cc 641px,#8406f9 648px,#2b00ff 659px,#0000ec 663px,#00004e 673px,#000008 683px,#00000c 1131px,#000066 1154px,#0a00e2 1162px,#3900ff 1171px,#c326d9 1205px,#d434cb 1239px,#9511ee 1264px,#3100ff 1282px,#0000e0 1288px,#00009e 1295px,#00002e 1321px,#000008 1358px,#000010 1600px,#000068 1611px,#000070 1674px)"></i>
<i style="background:linear-gradient(90deg,#ffb44b 0px,#ffc43b 10px,#ff906f 16px,#f144bb 20px,#8f05fa 23px,#1a00ff 28px,#0000ec 33px,#0000a8 41px,#000018 47px,#000004 63px,#00000e 169px,#000066 174px,#00007c 482px,#0000c0 504px,#0e00f4 532px,#5700ff 545px,#d43ac5 560px,#ff7c83 572px,#ffbf40 596px,#ffb649 625px,#ff817e 637px,#fe4cb3 642px,#9f0ff0 649px,#2e00ff 659px,#0000e8 663px,#00004e 672px,#000004 682px,#00000a 1116px,#00006c 1138px,#0a00ee 1155px,#4c00ff 1160px,#b41de2 1169px,#f44eb1 1182px,#ff847b 1216px,#ff6a95 1255px,#ea3fc0 1270px,#8f07f8 1282px,#0a00fe 1292px,#00004c 1320px,#000010 1343px,#00000c 1600px,#000068 1611px,#000070 1674px)"></i>
<i style="background:linear-gradient(90deg,#f26699 0px,#ff8778 7px,#ea5ba4 14px,#a51ae5 19px,#3700ff 24px,#0400f8 29px,#0000c6 39px,#000082 43px,#00001c 47px,#000006 60px,#00000e 169px,#000066 174px,#00007c 480px,#0000e8 503px,#2200ff 519px,#9a13ec 534px,#e74ab5 543px,#ff847b 552px,#ffce31 573px,#ffcf30 614px,#ff8a75 633px,#f751ae 639px,#7f06f9 646px,#1300fa 656px,#0000c0 661px,#00003a 670px,#000000 679px,#00000c 1109px,#00006a 1131px,#0a00ff 1151px,#5d00ff 1158px,#cf2ed1 1166px,#ff55aa 1175px,#ff8c73 1206px,#ff7986 1251px,#f446b9 1269px,#8f07f8 1282px,#0a00fc 1292px,#00004e 1318px,#000012 1340px,#000004 1472px,#00000c 1600px,#000068 1611px,#000070 1674px)"></i>
<i style="background:linear-gradient(90deg,#2900fc 0px,#3400ff 10px,#0000e2 25px,#0000c6 38px,#00007c 44px,#000044 48px,#000028 118px,#000030 169px,#00006c 175px,#00007c 478px,#0000c4 490px,#0a00fe 498px,#6300ff 515px,#cd2dd2 526px,#ff6b94 535px,#ffc837 556px,#ffd32c 593px,#ff9e61 616px,#ef54ab 629px,#b31ce3 636px,#2d00ff 644px,#0000dc 651px,#00002e 671px,#000014 689px,#000020 1102px,#000062 1127px,#0a00fe 1153px,#9f10ef 1167px,#e943bc 1183px,#ff6b94 1217px,#e947b8 1248px,#a616e9 1265px,#3300ff 1282px,#0000dc 1288px,#000098 1294px,#00002c 1318px,#00000a 1349px,#000010 1600px,#000068 1611px,#000070 1674px)"></i>
<i style="background:linear-gradient(90deg,#0000d6 0px,#0000ce 37px,#000084 50px,#00006e 77px,#000052 102px,#00005a 170px,#000070 181px,#00007c 477px,#0000bc 487px,#0f00ff 494px,#9d0ef1 514px,#ff54ab 526px,#ffb24d 549px,#ffba45 578px,#ff7689 602px,#b320df 618px,#2b00ff 633px,#0000d6 642px,#00009c 652px,#00004a 676px,#000050 1112px,#000098 1144px,#0d00ec 1161px,#4c00ff 1181px,#7b0df2 1212px,#5200ff 1242px,#0b00e4 1270px,#0000ba 1281px,#000054 1293px,#000026 1331px,#000030 1601px,#00006e 1613px,#000070 1674px)"></i>
<i style="background:linear-gradient(90deg,#0000de 0px,#0000d6 41px,#0000be 60px,#0000aa 75px,#00006c 92px,#00007c 476px,#0000bc 486px,#0700ff 492px,#5500ff 502px,#aa16e9 517px,#ef4ab5 531px,#ff6f90 556px,#d33cc3 582px,#8f16e9 595px,#2900fe 610px,#0000ce 627px,#000092 653px,#000064 683px,#000070 1137px,#0000c0 1204px,#00009a 1254px,#000066 1286px,#000050 1304px,#000056 1602px,#000070 1620px,#000070 1674px)"></i>
<i style="background:linear-gradient(90deg,#0000e2 0px,#0000d4 71px,#000078 90px,#00007c 476px,#0000c0 487px,#0700ff 493px,#3900ff 503px,#7609f6 541px,#4a00ff 566px,#0000d0 598px,#00009a 629px,#00006e 692px,#00006c 1285px,#000070 1674px)"></i>
<i style="background:linear-gradient(90deg,#0000c6 0px,#0000bc 73px,#000076 91px,#00007c 477px,#0000ca 490px,#0700fe 498px,#0000d4 557px,#00008e 614px,#000070 710px,#000070 1674px)"></i>
<i style="background:linear-gradient(90deg,#00009e 0px,#000092 75px,#000070 100px,#00007c 479px,#0000de 499px,#000084 605px,#000070 765px,#000070 1674px)"></i>
<i style="background:linear-gradient(90deg,#000080 0px,#000070 364px,#00007c 480px,#0000bc 501px,#00007a 600px,#000070 1674px)"></i>
<i style="background:linear-gradient(90deg,#000074 0px,#00007c 483px,#00009c 503px,#000074 615px,#00007c 1094px,#000090 1121px,#000084 1297px,#000070 1337px,#000070 1674px)"></i>
<i style="background:linear-gradient(90deg,#000070 0px,#00007a 486px,#000082 518px,#000070 791px,#00007a 1088px,#0000b8 1109px,#0000ae 1293px,#000074 1313px,#000070 1674px)"></i>
<i style="background:linear-gradient(90deg,#000070 0px,#00007a 495px,#00007c 1086px,#0000e2 1108px,#0000d6 1292px,#000078 1310px,#00006a 1674px)"></i>
<i style="background:linear-gradient(90deg,#000070 0px,#00007c 1086px,#0000e2 1108px,#0000d6 1292px,#000078 1310px,#000064 1588px,#000054 1612px,#000054 1674px)"></i>
<i style="background:linear-gradient(90deg,#000070 0px,#00007a 1088px,#0000b8 1109px,#0000ae 1293px,#000074 1313px,#000064 1584px,#000024 1596px,#000024 1674px)"></i>
<i style="background:linear-gradient(90deg,#000070 0px,#00007c 1094px,#000090 1121px,#000084 1297px,#000070 1337px,#000066 1582px,#00001a 1590px,#000000 1595px,#000000 1674px)"></i>
<i style="background:linear-gradient(90deg,#000070 0px,#00006c 1580px,#00002c 1588px,#000000 1592px,#000000 1674px)"></i>
<i style="background:linear-gradient(90deg,#000070 0px,#000064 1582px,#00001c 1589px,#000000 1592px,#000000 1674px)"></i>
<i style="background:linear-gradient(90deg,#000070 0px,#000064 1582px,#00001c 1589px,#000000 1592px,#000000 1674px)"></i>
<i style="background:linear-gradient(90deg,#000070 0px,#000066 1582px,#00001a 1590px,#000000 1596px,#000000 1674px)"></i>
<i style="background:linear-gradient(90deg,#000072 0px,#00006a 1583px,#000026 1596px,#000026 1674px)"></i>
<i style="background:linear-gradient(90deg,#000074 0px,#00006c 1586px,#000056 1605px,#000056 1674px)"></i>
<i style="background:linear-gradient(90deg,#00007a 0px,#000078 1116px,#00007a 1582px,#000076 1661px,#000072 1674px)"></i>
<i style="background:linear-gradient(90deg,#000082 0px,#000082 66px,#00007e 91px,#000078 144px,#000082 229px,#00008e 270px,#000088 282px,#000096 286px,#000082 296px,#000092 307px,#000082 331px,#000088 366px,#000092 371px,#00007a 380px,#00008c 386px,#000076 410px,#00007a 416px,#000092 443px,#000082 459px,#000078 522px,#000088 610px,#000090 615px,#000078 637px,#000078 678px,#00007e 714px,#00007e 748px,#000088 756px,#000084 787px,#00008c 839px,#000090 843px,#000078 847px,#000082 854px,#00008c 894px,#000098 898px,#00007e 907px,#00007a 913px,#00008e 919px,#00007a 973px,#00007e 979px,#00008c 1016px,#000088 1022px,#000092 1028px,#000092 1032px,#000084 1039px,#000084 1070px,#000084 1389px,#000088 1396px,#00008a 1412px,#000092 1416px,#00007e 1421px,#000084 1457px,#00007a 1627px,#000088 1661px,#00009c 1665px,#000080 1672px,#000080 1674px)"></i>
<i style="background:linear-gradient(90deg,#00008e 0px,#00009e 15px,#00008e 47px,#000080 69px,#000082 83px,#000074 88px,#00008e 95px,#000086 143px,#000070 147px,#00008e 153px,#000094 209px,#000098 215px,#000094 268px,#0000aa 272px,#00008e 279px,#0000b6 286px,#00008e 291px,#00009e 306px,#0000b2 309px,#00008e 315px,#00009a 340px,#000096 345px,#000090 365px,#0000ba 370px,#000074 378px,#0000ac 384px,#00008e 392px,#000082 409px,#00006c 414px,#00008e 420px,#00009a 438px,#0000be 442px,#000090 447px,#00008c 492px,#000084 496px,#000086 521px,#000072 525px,#00008e 532px,#00009a 586px,#000088 598px,#00009a 610px,#0000b6 614px,#00008e 619px,#000082 632px,#00006e 635px,#00008e 643px,#000082 677px,#000072 681px,#00008e 688px,#000090 713px,#00007a 718px,#00008a 726px,#00008e 730px,#000096 734px,#00008c 751px,#0000aa 754px,#00008e 762px,#000086 785px,#000098 791px,#000098 838px,#0000be 841px,#000078 846px,#000098 851px,#000098 893px,#0000c2 897px,#000090 902px,#000078 912px,#0000ac 918px,#00008e 927px,#000086 972px,#000070 976px,#00008e 983px,#000096 1015px,#0000b6 1019px,#000090 1024px,#0000ac 1028px,#0000be 1031px,#00008a 1036px,#00008a 1042px,#000088 1047px,#00008e 1084px,#000086 1117px,#00009a 1234px,#0000a4 1243px,#00008e 1251px,#000082 1279px,#000098 1303px,#000094 1326px,#000098 1331px,#000080 1337px,#000098 1342px,#000098 1390px,#0000ac 1394px,#00008e 1401px,#00009e 1412px,#0000ba 1415px,#000082 1419px,#000090 1433px,#000098 1452px,#0000a8 1455px,#00008a 1460px,#000090 1619px,#00007e 1631px,#00008e 1651px,#00009e 1661px,#0000c4 1664px,#000090 1670px,#00008e 1674px)"></i>
<i style="background:linear-gradient(90deg,#00009c 0px,#0000a4 13px,#0000c0 17px,#00009c 23px,#000096 67px,#000080 71px,#00009a 77px,#000074 88px,#00009c 93px,#000098 142px,#000070 147px,#00009c 152px,#000098 162px,#000092 183px,#0000a4 209px,#0000bc 213px,#00009c 220px,#0000a8 227px,#0000a8 268px,#0000c8 272px,#00009c 277px,#0000b2 282px,#0000e6 285px,#0000a0 290px,#0000a0 304px,#0000d6 309px,#00009c 314px,#0000a4 339px,#0000be 343px,#00009c 350px,#0000a4 365px,#0000e6 369px,#0000d4 371px,#000086 376px,#00007c 379px,#0000cc 384px,#00009c 390px,#000094 408px,#00005e 413px,#00009c 419px,#0000a4 437px,#0000ea 441px,#00009c 447px,#0000a8 488px,#0000a8 491px,#000086 495px,#00008e 501px,#000096 520px,#000070 525px,#00009c 530px,#0000a4 584px,#0000ae 589px,#00008a 597px,#00009c 602px,#0000a4 609px,#0000e2 613px,#00009c 619px,#000092 631px,#000068 635px,#00009c 641px,#000096 676px,#00006a 680px,#00009c 686px,#0000a4 705px,#00009c 713px,#000074 717px,#00009c 723px,#00008e 729px,#0000b6 732px,#00009c 741px,#00008e 750px,#0000c8 754px,#00009c 760px,#00008e 781px,#00008e 785px,#0000b6 789px,#00009c 798px,#0000ac 838px,#0000e8 841px,#0000c8 843px,#000084 845px,#000080 847px,#0000ae 850px,#00009c 865px,#0000a0 892px,#0000f0 897px,#0000a4 901px,#000082 909px,#000078 912px,#0000cc 917px,#00009c 925px,#000098 971px,#00006a 976px,#00009c 981px,#0000a0 992px,#0000a8 1015px,#0000de 1019px,#0000a4 1023px,#0000a8 1026px,#0000f0 1030px,#00009c 1035px,#0000a4 1041px,#000084 1045px,#00009c 1053px,#0000a4 1074px,#0000a4 1081px,#000094 1116px,#00008a 1121px,#00009c 1130px,#0000a6 1233px,#0000c4 1237px,#0000b4 1244px,#00009c 1250px,#000092 1278px,#000082 1282px,#00009c 1289px,#0000a8 1299px,#0000ac 1303px,#00009c 1311px,#0000a8 1326px,#0000b6 1330px,#000084 1336px,#0000b0 1341px,#00009c 1351px,#0000a4 1389px,#0000cc 1394px,#00009c 1399px,#0000a8 1411px,#0000e2 1414px,#0000cc 1416px,#000092 1418px,#0000a6 1432px,#0000a4 1451px,#0000c4 1455px,#000096 1459px,#00009c 1480px,#0000a6 1613px,#000092 1626px,#000078 1630px,#00009c 1636px,#0000a6 1660px,#0000f4 1664px,#0000a0 1669px,#00009c 1674px)"></i>
<i style="background:linear-gradient(90deg,#0000a6 0px,#0000b2 13px,#0000da 17px,#0000aa 22px,#00009e 67px,#000080 71px,#0000a6 76px,#00007c 85px,#000072 88px,#0000a6 92px,#0000b6 137px,#0000a4 143px,#000070 146px,#0000a8 151px,#00009c 161px,#0000a0 182px,#00009e 187px,#0000b2 209px,#0000d4 213px,#0000aa 218px,#0000c0 226px,#0000a8 233px,#0000ae 267px,#0000ea 271px,#0000aa 277px,#0000b4 281px,#0400fc 284px,#0500fe 286px,#0000ae 290px,#0000ae 304px,#0000f8 308px,#0000e6 310px,#0000ae 313px,#0000b4 339px,#0000d6 343px,#0000aa 348px,#0000aa 364px,#0000da 367px,#0c00ff 369px,#0000f4 371px,#00009a 375px,#000072 378px,#0000aa 381px,#0000ea 384px,#0000aa 389px,#00009c 408px,#000052 413px,#0000a2 418px,#0000b4 437px,#0200fc 440px,#0c00ff 442px,#0000ae 446px,#0000ae 487px,#0000b8 491px,#000088 494px,#00009c 499px,#0000a2 505px,#0000a2 520px,#000066 524px,#0000a6 529px,#0000b2 584px,#0000c8 588px,#000088 596px,#0000aa 601px,#0000b4 609px,#0000fa 612px,#0200fc 614px,#0000b6 617px,#00009a 631px,#000062 634px,#000084 637px,#0000a6 640px,#00009e 676px,#000062 680px,#0000a6 685px,#0000b4 700px,#0000b8 704px,#0000b0 710px,#0000aa 713px,#000072 717px,#0000a6 722px,#000096 729px,#0000ca 732px,#0000a8 738px,#000094 750px,#0000de 753px,#0000dc 755px,#0000aa 759px,#00009e 780px,#00008a 784px,#0000cc 789px,#0000a8 797px,#0000b0 837px,#0000f8 840px,#0700ff 842px,#0000e6 843px,#000088 845px,#000078 846px,#0000c0 850px,#0000a8 859px,#0000b0 892px,#0200fa 895px,#1500ff 897px,#0500fe 898px,#0000b2 901px,#000096 908px,#00006e 911px,#0000a6 914px,#0000ea 917px,#0000aa 924px,#0000a6 970px,#000072 974px,#000064 976px,#0000a2 980px,#0000b6 991px,#0000a8 1005px,#0000b8 1015px,#0200fc 1018px,#0000f0 1020px,#0000b0 1023px,#0000b6 1026px,#0a00ff 1029px,#0d00ff 1031px,#0000a6 1035px,#0000b2 1041px,#000084 1044px,#0000a8 1052px,#0000b2 1074px,#0000b2 1077px,#0000bc 1080px,#0000a8 1090px,#00009e 1116px,#000088 1120px,#0000a6 1126px,#0000ae 1232px,#0000e0 1237px,#0000d6 1240px,#0000d8 1243px,#0000aa 1247px,#0000a2 1277px,#000080 1281px,#0000a6 1287px,#0000b0 1298px,#0000cc 1302px,#0000a6 1307px,#0000b6 1326px,#0000ca 1330px,#000088 1336px,#0000c4 1341px,#0000a8 1349px,#0000b0 1389px,#0000f0 1393px,#0000aa 1398px,#0000ae 1410px,#0500fe 1414px,#0000ea 1416px,#000098 1418px,#000092 1420px,#0000bc 1431px,#0000a8 1441px,#0000b2 1451px,#0000e2 1454px,#00009e 1459px,#0000ac 1470px,#0000ae 1612px,#0000b8 1617px,#000098 1626px,#000078 1630px,#0000a6 1634px,#0000aa 1651px,#0000b4 1660px,#0a00ff 1663px,#1200ff 1665px,#0000f8 1666px,#0000ae 1669px,#0000a8 1674px)"></i>
<i style="background:linear-gradient(90deg,#0000ac 0px,#0000b8 13px,#0000e8 17px,#0000ac 22px,#0000a2 67px,#000080 71px,#0000ac 76px,#00007a 85px,#000062 87px,#0000a8 92px,#0000b6 132px,#0000e8 140px,#0000d4 143px,#000090 146px,#0000b2 152px,#0000a0 161px,#0000a4 182px,#000098 186px,#0000ac 196px,#0000b8 209px,#0000de 213px,#0000ac 218px,#0000c8 226px,#0000ac 233px,#0000b4 267px,#0000f8 271px,#0000e2 273px,#0000ac 277px,#0000bc 281px,#0f00ff 284px,#1200ff 286px,#0000f6 287px,#0000b0 290px,#0000b4 304px,#0900ff 308px,#0000f2 310px,#0000b4 313px,#0000b0 338px,#0000e6 342px,#0000ac 348px,#0000ac 364px,#0000e6 367px,#0900ff 368px,#1b00ff 370px,#0500ff 371px,#000088 376px,#00006e 378px,#000090 380px,#0000ee 383px,#0000f2 385px,#0000b0 389px,#0000a0 408px,#00004e 412px,#000056 414px,#0000a6 418px,#0000b8 437px,#0f00ff 440px,#1d00ff 442px,#0500ff 443px,#0000b4 446px,#0000b4 487px,#0000c8 490px,#000086 494px,#00009e 499px,#0000a0 504px,#0000a4 520px,#00005e 524px,#0000a8 529px,#0000b8 584px,#0000d2 588px,#000088 596px,#0000b0 601px,#0000b8 609px,#0900ff 612px,#0f00ff 614px,#0000b2 618px,#0000a8 630px,#00005c 634px,#000068 636px,#0000a4 639px,#0000a0 676px,#00005a 680px,#0000a8 685px,#0000bc 700px,#0000c0 704px,#0000b0 709px,#0000ae 713px,#000070 716px,#00008c 719px,#0000ac 723px,#000098 729px,#0000d4 732px,#0000ac 738px,#0000a0 747px,#000094 750px,#0000ea 753px,#0000ea 755px,#0000b4 758px,#0000a0 780px,#000084 783px,#0000d6 789px,#0000ac 796px,#0000b6 837px,#0900ff 840px,#1e00ff 841px,#0000f4 843px,#000086 845px,#000074 846px,#0000c8 850px,#0000ac 858px,#0000b4 892px,#0c00ff 895px,#2800ff 897px,#0000f0 899px,#0000b8 901px,#000098 908px,#000068 911px,#0000a8 914px,#0000fa 917px,#0000d8 920px,#0000ac 925px,#0000ac 970px,#000086 973px,#00005e 975px,#00006e 977px,#0000a4 980px,#0000bc 991px,#0000ac 1003px,#0000b4 1014px,#0f00ff 1018px,#0200ff 1020px,#0000b8 1023px,#0000be 1026px,#0000fe 1028px,#2900ff 1030px,#0200ff 1032px,#0000ac 1035px,#0000b0 1038px,#0000b8 1041px,#000082 1044px,#0000ac 1050px,#0000b4 1069px,#0000c0 1073px,#0000b8 1077px,#0000c4 1080px,#0000ac 1088px,#0000a8 1115px,#000086 1120px,#0000ac 1125px,#0000b4 1232px,#0000ee 1237px,#0000e2 1240px,#0000e6 1243px,#0000b0 1247px,#0000a4 1277px,#00007c 1281px,#0000ac 1287px,#0000b6 1298px,#0000d6 1302px,#0000ac 1306px,#0000b4 1325px,#0000dc 1329px,#000086 1336px,#0000b0 1339px,#0000cc 1341px,#0000ac 1349px,#0000b8 1389px,#0200ff 1393px,#0000cc 1396px,#0000ac 1400px,#0000b4 1410px,#0000d8 1412px,#0000fa 1413px,#1800ff 1415px,#0000fa 1416px,#00009a 1418px,#000094 1420px,#0000c4 1431px,#0000ac 1439px,#0000b8 1451px,#0000ee 1454px,#0000d8 1456px,#0000a0 1459px,#0000b4 1469px,#0000ac 1509px,#0000b4 1612px,#0000c8 1616px,#0000ac 1623px,#00008a 1627px,#00006e 1629px,#0000a8 1634px,#0000b4 1649px,#0000b0 1659px,#0000d4 1661px,#0000fa 1662px,#2d00ff 1664px,#0900ff 1666px,#0000b4 1669px,#0000ac 1674px)"></i>
<i style="background:linear-gradient(90deg,#0000a4 0px,#0000b0 13px,#0000e0 17px,#0000a8 22px,#00009c 67px,#00007a 71px,#0000a4 76px,#000072 85px,#00005c 87px,#0000a2 92px,#0000ae 130px,#0a00fe 136px,#2d00ff 140px,#0d00fa 144px,#0000be 147px,#0000a0 156px,#000098 161px,#0000a2 181px,#000092 186px,#0000a6 196px,#0000b0 209px,#0000d8 213px,#0000a8 218px,#0000c2 226px,#0000a6 233px,#0000ac 267px,#0000f0 271px,#0000dc 273px,#0000ac 276px,#0000b4 281px,#0c00ff 284px,#0d00ff 286px,#0000ac 290px,#0000ae 304px,#0400ff 308px,#0000ec 310px,#0000ac 313px,#0000ac 338px,#0000e0 342px,#0000a8 348px,#0000a4 363px,#0000c0 366px,#0400ff 368px,#1700ff 370px,#0200fe 371px,#0000a8 374px,#000068 378px,#0000aa 381px,#0000e8 383px,#0000ec 385px,#0000aa 389px,#000098 408px,#000046 412px,#00004e 414px,#0000a0 418px,#0000b4 437px,#0a00ff 440px,#1800ff 442px,#0200fe 443px,#0000ae 446px,#0000b0 487px,#0000c4 490px,#000082 494px,#000098 499px,#000094 503px,#0000a6 515px,#000092 521px,#000058 524px,#0000a2 529px,#0000b2 584px,#0000cc 588px,#000082 596px,#0000aa 601px,#0000b4 609px,#0500ff 612px,#0a00ff 614px,#0000ac 618px,#0000a2 630px,#000052 635px,#00009e 639px,#00009c 676px,#000056 680px,#0000a2 685px,#0000b6 700px,#0000c4 703px,#0000aa 708px,#0000aa 713px,#00006c 716px,#000076 718px,#0000a6 722px,#000094 729px,#0000d0 732px,#0000aa 738px,#00009a 747px,#000090 750px,#0000e8 753px,#0000e4 755px,#0000ae 758px,#00009c 780px,#000086 784px,#0000d2 789px,#0000aa 795px,#0000b2 837px,#0400ff 840px,#1a00ff 841px,#0000f0 843px,#000082 845px,#00006e 846px,#0000c4 850px,#0000a8 858px,#0000b2 892px,#0700ff 895px,#2500ff 897px,#0000ec 899px,#0000aa 902px,#000092 908px,#000064 911px,#000086 913px,#0000f8 917px,#0000d4 920px,#0000aa 924px,#0000a8 955px,#0000a2 971px,#000058 975px,#00006a 977px,#0000a2 980px,#0000b8 991px,#0000a6 1003px,#0000ae 1014px,#0a00ff 1018px,#0000fc 1020px,#0000b2 1023px,#0000ba 1026px,#0000f8 1028px,#2600ff 1030px,#0000fc 1032px,#0000b6 1034px,#0000a2 1037px,#0000bc 1040px,#00007e 1044px,#0000a6 1050px,#0000b6 1070px,#0000b2 1074px,#0000b2 1077px,#0000be 1080px,#0000a6 1089px,#0000a2 1115px,#000082 1120px,#0000a6 1125px,#0000ae 1232px,#0000ea 1236px,#0000dc 1240px,#0000e0 1243px,#0000aa 1247px,#00009e 1277px,#000076 1281px,#0000a6 1287px,#0000b2 1298px,#0000d0 1302px,#0000a6 1306px,#0000ae 1325px,#0000d8 1329px,#000082 1336px,#000096 1338px,#0000c8 1341px,#0000a6 1348px,#0000b2 1389px,#0000fc 1393px,#0000ac 1398px,#0000ae 1410px,#0000d2 1412px,#0000f8 1413px,#1400ff 1415px,#0000f4 1416px,#000096 1418px,#00008e 1420px,#0000c0 1431px,#0000a8 1438px,#0000b4 1451px,#0000ec 1454px,#0000d4 1456px,#0000a2 1458px,#0000ae 1470px,#0000aa 1611px,#0000c2 1616px,#000096 1626px,#00006a 1629px,#0000a6 1635px,#0000ae 1649px,#0000ac 1659px,#0000ce 1661px,#0000f4 1662px,#2800ff 1664px,#0400ff 1666px,#0000ae 1669px,#0000a6 1674px)"></i>
<i style="background:linear-gradient(90deg,#00008c 0px,#000096 13px,#0000c0 17px,#00008e 22px,#000084 67px,#000068 71px,#00008c 76px,#000062 85px,#000056 88px,#00008c 92px,#00009c 130px,#0000e6 134px,#0500ff 135px,#5800ff 139px,#4a00ff 143px,#0500ff 146px,#000098 154px,#000084 161px,#00008a 182px,#000086 187px,#00009a 209px,#0000ba 213px,#000090 219px,#0000a8 226px,#000090 234px,#000096 267px,#0000d0 272px,#000094 276px,#00009e 281px,#0200f4 285px,#0000d0 287px,#000094 290px,#000098 304px,#0000e0 308px,#0000ce 310px,#000098 313px,#000098 338px,#0000be 343px,#000092 348px,#000094 364px,#0000c2 367px,#0200f4 369px,#0000e0 371px,#000094 374px,#00005c 378px,#000094 381px,#0000d4 384px,#000094 389px,#000086 408px,#00003e 413px,#00008c 418px,#00009e 437px,#0500f8 441px,#0000e0 443px,#000098 446px,#0000a0 488px,#0000a4 491px,#000072 494px,#000086 499px,#00008e 505px,#00008c 520px,#000050 524px,#000090 529px,#00009e 584px,#0000b4 588px,#000076 596px,#000098 601px,#0000a0 609px,#0000f4 613px,#0000d2 615px,#00009a 618px,#000086 631px,#00004e 635px,#000092 640px,#00008a 676px,#00004e 680px,#000096 686px,#0000a8 700px,#0000ac 704px,#0000a4 710px,#00009e 713px,#000068 716px,#00009c 723px,#00008e 729px,#0000c0 732px,#00009e 738px,#00008a 750px,#0000dc 754px,#0000a0 759px,#000094 780px,#000082 784px,#0000c2 789px,#0000a0 796px,#0000a4 837px,#0500fc 841px,#0400fa 842px,#00007a 845px,#000076 847px,#0000b4 850px,#00009c 860px,#0000a4 892px,#0900ff 896px,#0000f8 898px,#0000a8 901px,#00008a 908px,#000060 911px,#000098 914px,#0000dc 917px,#00009c 924px,#000098 970px,#000064 974px,#000056 976px,#000094 980px,#0000a2 992px,#0000a0 1014px,#0000ee 1018px,#0000e2 1020px,#0000a2 1023px,#0000a8 1026px,#0400fa 1029px,#0500fa 1031px,#000098 1035px,#0000a2 1041px,#000076 1044px,#00009a 1052px,#0000a6 1070px,#0000a2 1077px,#0000ae 1080px,#00009a 1089px,#000090 1116px,#00007a 1120px,#000098 1126px,#0000a6 1233px,#0000d2 1236px,#0000c8 1240px,#0000ca 1243px,#00009c 1247px,#000094 1277px,#000070 1281px,#00009a 1288px,#0000aa 1299px,#0000bc 1302px,#000098 1306px,#0000a8 1326px,#0000bc 1330px,#000078 1336px,#0000b6 1341px,#00009a 1348px,#0000a4 1389px,#0000e4 1393px,#00009c 1399px,#0000ac 1411px,#0200f8 1414px,#0200fa 1415px,#00008e 1418px,#000088 1420px,#0000b0 1431px,#00009c 1443px,#0000a8 1451px,#0000d6 1454px,#0000c2 1456px,#000092 1459px,#0000a0 1470px,#0000a2 1612px,#0000aa 1617px,#00008a 1626px,#00006a 1630px,#000098 1635px,#00009c 1650px,#0000a6 1660px,#0400fa 1663px,#0800fe 1665px,#0000a0 1669px,#00009a 1674px)"></i>
<i style="background:linear-gradient(90deg,#000054 0px,#00005c 13px,#000078 17px,#000054 23px,#00004a 68px,#000042 72px,#000052 78px,#000030 88px,#000056 93px,#000064 129px,#00009a 133px,#1500ff 137px,#3600ff 140px,#2200ff 144px,#0000f0 146px,#00007a 153px,#000062 160px,#00009e 178px,#000068 192px,#000062 209px,#00007c 213px,#00005e 219px,#00006a 227px,#000062 267px,#00008c 272px,#000060 277px,#000076 282px,#0000a8 285px,#000062 290px,#00006e 305px,#00009a 309px,#000062 314px,#00006a 339px,#000084 343px,#000062 349px,#000068 365px,#0000ac 369px,#00009a 371px,#000042 377px,#000052 380px,#000094 384px,#000064 390px,#00005c 408px,#000026 413px,#000064 419px,#00006e 437px,#0000b4 441px,#00006c 446px,#000072 488px,#000072 491px,#000052 495px,#000066 519px,#00003a 525px,#000066 529px,#000072 584px,#00007c 589px,#000058 597px,#00006c 603px,#000074 609px,#0000b2 613px,#00006e 618px,#000062 631px,#000038 635px,#00006a 640px,#000066 676px,#00003c 680px,#00006e 686px,#00009c 704px,#000092 713px,#000068 717px,#000090 723px,#000086 729px,#0000a8 733px,#000092 741px,#000084 750px,#0000c0 754px,#000092 760px,#000090 780px,#000082 784px,#0000b2 789px,#000096 798px,#0000a8 807px,#0000a6 837px,#0000ea 841px,#0000cc 843px,#000088 845px,#000086 847px,#0000b0 850px,#0000a0 878px,#000094 892px,#0000de 896px,#0000d2 898px,#000094 901px,#00007c 908px,#00005a 911px,#0000ae 917px,#00007e 925px,#00007a 971px,#00004c 976px,#00007e 981px,#00007e 1002px,#00008a 1015px,#0000c0 1019px,#000086 1023px,#00008a 1026px,#0000d2 1030px,#00007e 1035px,#000086 1041px,#000066 1045px,#00007e 1054px,#000086 1074px,#000076 1116px,#00006c 1121px,#00007e 1133px,#000088 1233px,#0000a6 1237px,#0000a2 1243px,#00007e 1248px,#000074 1278px,#000064 1282px,#00007e 1289px,#00008a 1299px,#00008e 1303px,#00007e 1311px,#00008a 1326px,#000098 1330px,#000066 1336px,#000092 1341px,#000080 1351px,#000096 1389px,#0000c6 1393px,#000094 1399px,#0000b6 1411px,#0400f4 1414px,#0000e8 1416px,#0000b0 1418px,#0000c6 1431px,#000096 1446px,#0000a0 1452px,#0000b8 1455px,#000086 1459px,#000090 1472px,#000092 1497px,#0000b4 1595px,#000084 1610px,#00008e 1617px,#00006a 1627px,#00005c 1630px,#00007e 1636px,#000086 1660px,#0000d6 1664px,#000082 1669px,#00007e 1674px)"></i>
<i style="background:linear-gradient(90deg,#000008 0px,#00000c 20px,#00000c 114px,#000024 130px,#00005c 134px,#0000c0 139px,#0000c0 144px,#00008e 149px,#000096 155px,#1000c6 160px,#4f07f8 167px,#710ff0 173px,#3f00ff 179px,#0400e8 183px,#00003e 191px,#000012 197px,#00001a 269px,#00001c 273px,#00001a 282px,#000032 286px,#000012 291px,#00001c 306px,#00002e 309px,#000012 316px,#00001c 344px,#00001a 366px,#00003c 370px,#00000c 376px,#000014 381px,#00002a 385px,#000014 393px,#00000a 410px,#00000e 416px,#00001e 438px,#000042 442px,#000016 447px,#000016 520px,#000012 527px,#000022 590px,#00001c 599px,#00002a 610px,#000046 614px,#000020 619px,#00000e 633px,#000020 654px,#000018 677px,#000012 682px,#000048 693px,#00008c 703px,#000080 714px,#000074 718px,#000084 726px,#00008a 730px,#000092 734px,#000086 750px,#0000aa 754px,#000092 762px,#0000a8 772px,#1300d6 779px,#3400ea 789px,#0000c4 797px,#0000c6 799px,#3c00f6 800px,#b058a7 801px,#bb6b94 803px,#c06b94 843px,#b86a95 849px,#b76a95 883px,#ac55aa 884px,#2b00ee 885px,#000098 886px,#000082 888px,#000096 894px,#0000b6 897px,#000080 902px,#00005c 909px,#000048 913px,#000066 918px,#000046 927px,#000040 972px,#000028 976px,#000046 982px,#000050 1015px,#000070 1019px,#000048 1024px,#000076 1031px,#000042 1036px,#00004c 1041px,#00003c 1046px,#000048 1083px,#00003e 1117px,#00004c 1233px,#00005e 1238px,#000050 1245px,#00003a 1279px,#000050 1303px,#00004e 1326px,#000050 1331px,#00003a 1337px,#000052 1342px,#000058 1352px,#00008e 1366px,#00009e 1389px,#0000ce 1395px,#1500e2 1401px,#5507f8 1408px,#b32bd4 1414px,#a623dc 1429px,#2f00fe 1438px,#0000ce 1445px,#0000a0 1452px,#00009a 1456px,#000082 1460px,#000084 1495px,#000094 1496px,#1500e4 1497px,#962ed1 1498px,#9e3ec1 1502px,#ac41be 1566px,#a935ca 1570px,#3700ff 1571px,#0700ea 1572px,#0200ec 1591px,#0000e2 1596px,#000070 1605px,#000064 1614px,#000044 1627px,#000044 1632px,#00004c 1660px,#00007e 1664px,#000048 1670px,#000046 1674px)"></i>
<i style="background:linear-gradient(90deg,#000000 0px,#00000a 126px,#00004a 134px,#0500d6 145px,#4f07f7 150px,#b332cd 155px,#ff6d92 163px,#ff649b 172px,#f849b6 175px,#7100ff 180px,#0a00f6 183px,#000034 188px,#000002 191px,#00000c 693px,#00007a 701px,#00007e 715px,#00009e 746px,#0000b8 756px,#0000be 764px,#0d00e4 768px,#4100ff 771px,#ac27d8 774px,#fe946b 779px,#ffb64b 781px,#ffc69f 784px,#ffccb2 787px,#ffc699 789px,#ffb955 791px,#ff946b 793px,#a522dd 798px,#8c16e9 799px,#e13fc0 800px,#ffe01f 801px,#ffff1e 802px,#ffff1e 883px,#ffd42b 884px,#6900ff 885px,#00009e 886px,#00007c 887px,#00008e 895px,#000088 899px,#00004e 908px,#00000e 913px,#000008 1016px,#000008 1033px,#00000c 1350px,#000094 1362px,#0000be 1373px,#0000d4 1385px,#2100fc 1391px,#790df2 1396px,#cb35ca 1400px,#ff847b 1405px,#ffde21 1415px,#ffb649 1429px,#f85aa5 1436px,#c427d8 1439px,#5b00ff 1443px,#0800fc 1447px,#0000b0 1453px,#000086 1461px,#000084 1495px,#00009e 1496px,#3c00ff 1497px,#ff7d82 1498px,#ffa25d 1499px,#ffa25d 1569px,#ff8a75 1570px,#ae19e6 1571px,#5700ff 1572px,#3c00ff 1588px,#4200ff 1594px,#0700f8 1598px,#00006c 1604px,#000040 1610px,#00002c 1623px,#000004 1630px,#00000c 1662px,#000004 1674px)"></i>
<i style="background:linear-gradient(90deg,#000000 0px,#000008 115px,#0000a8 126px,#2e00fa 138px,#760df2 142px,#d948b7 146px,#ff7e81 148px,#ffca35 152px,#ffd12e 157px,#f859a6 171px,#a81be4 175px,#3a00fe 178px,#0000b0 181px,#000030 184px,#000000 187px,#00000a 694px,#000072 700px,#00008c 709px,#0000a0 739px,#0d00ec 747px,#3000ff 755px,#4400ff 764px,#7c0af5 767px,#df3fc0 770px,#ff7a85 772px,#fff110 776px,#ffff50 777px,#ffffcd 778px,#ffffff 779px,#fffff2 793px,#ffff6f 794px,#fff40b 795px,#ff6c93 799px,#ff807f 800px,#ffea15 801px,#ffff1e 803px,#ffff1e 883px,#ffd42b 884px,#6d00ff 885px,#0000a2 886px,#000080 887px,#00007e 900px,#00004e 907px,#000000 911px,#000000 1352px,#0000d4 1362px,#2900ff 1369px,#5400ff 1384px,#a617e8 1390px,#fd639c 1395px,#ffe21d 1402px,#ffffa1 1409px,#ffff88 1414px,#ffff37 1417px,#fffd0a 1419px,#ffe11e 1427px,#ff7986 1435px,#ec42bd 1438px,#7b02fd 1442px,#0900ff 1447px,#0000b2 1454px,#000098 1463px,#000098 1495px,#0000b0 1496px,#4700ff 1497px,#ff7e81 1498px,#ffa25d 1499px,#ffa25d 1569px,#ff916e 1570px,#eb40bf 1571px,#ae19e6 1572px,#8a06f9 1587px,#8905fa 1594px,#0400f4 1600px,#00007c 1605px,#000058 1612px,#000044 1621px,#000000 1627px,#000000 1674px)"></i>
<i style="background:linear-gradient(90deg,#000000 0px,#000008 109px,#000036 112px,#0500ce 117px,#3400ff 120px,#8d14eb 125px,#dc36c9 139px,#ff649b 143px,#ffcc33 150px,#ffb44b 155px,#ec6699 160px,#a528d7 165px,#4d06e2 169px,#00008c 174px,#000024 178px,#000000 181px,#000002 693px,#000080 700px,#00009e 710px,#0000ba 737px,#0a00f8 742px,#8c0ef1 747px,#d437c8 750px,#e14ab5 756px,#f45ca3 766px,#ffca35 778px,#ffd4a4 781px,#ffd6a8 789px,#ffd0a8 790px,#ffc153 792px,#ffb14e 793px,#ea6699 796px,#b921de 799px,#f553ac 800px,#ffe31c 801px,#ffff1e 802px,#ffff1e 883px,#ffd728 884px,#8101fe 885px,#0000ca 886px,#0000aa 887px,#00009c 903px,#000054 909px,#000002 913px,#00000c 1350px,#00004a 1353px,#0a00ee 1359px,#6b01fe 1364px,#d431ce 1370px,#f859a6 1388px,#ffef10 1401px,#fff816 1402px,#ffff6f 1406px,#fff366 1410px,#ffdd24 1415px,#f86e91 1428px,#bb21de 1434px,#4600ff 1440px,#0000fc 1446px,#0000d0 1457px,#0000d0 1495px,#0000e6 1496px,#6300ff 1497px,#ff817e 1498px,#ffa25d 1499px,#ffa25d 1569px,#ff916e 1570px,#eb40bf 1571px,#ae19e6 1572px,#9107f8 1594px,#0700ff 1601px,#0000b4 1607px,#00009a 1620px,#000004 1628px,#000000 1674px)"></i>
<i style="background:linear-gradient(90deg,#000000 0px,#00000a 99px,#000036 106px,#0000a4 111px,#1600f6 114px,#7804fb 117px,#ed46b9 121px,#ff6798 125px,#f144bb 134px,#ad1de2 143px,#9d24db 150px,#4b05e1 155px,#000080 161px,#000026 166px,#000000 170px,#000006 692px,#000092 699px,#0000ba 707px,#0000de 736px,#0d00ff 740px,#7900ff 744px,#f546b9 747px,#ff9a65 751px,#ffa857 770px,#fa51ae 775px,#a015ea 779px,#7c11ee 785px,#3600ff 796px,#2800ff 798px,#3900ff 799px,#c427d8 800px,#ffde21 801px,#ffff1e 802px,#ffff1e 883px,#ffdd22 884px,#c628d7 885px,#3e00ff 886px,#2e00ff 890px,#1e00f0 906px,#0200cc 910px,#000010 916px,#000000 920px,#000006 1339px,#000050 1347px,#00006a 1350px,#0500e8 1355px,#4100ff 1358px,#a815ea 1362px,#fb57a8 1366px,#ff936c 1372px,#ffac53 1395px,#ffc639 1404px,#f055aa 1414px,#8f0cf3 1424px,#3400ff 1440px,#2800ff 1495px,#3700ff 1496px,#9a0cf3 1497px,#ff8877 1498px,#ffa25d 1499px,#ffa25d 1569px,#ff8a75 1570px,#ab17e8 1571px,#5200ff 1572px,#3100ff 1587px,#1d00fa 1596px,#0000c2 1603px,#0000a4 1614px,#000098 1620px,#000004 1628px,#000000 1674px)"></i>
<i style="background:linear-gradient(90deg,#000000 0px,#00000c 76px,#00006e 101px,#0000bc 108px,#0400fc 111px,#9a0cf3 117px,#ea44bb 121px,#e545ba 126px,#ab1ae5 131px,#3400ff 137px,#0000aa 145px,#000002 157px,#000006 690px,#0000bc 699px,#0000e4 706px,#1500ff 738px,#6000ff 743px,#b61ee1 746px,#f857a8 749px,#ff7887 753px,#ff7b84 770px,#ec41be 774px,#7e00ff 778px,#3e00ff 783px,#3900ff 798px,#4f00ff 799px,#d733cc 800px,#ffe11e 801px,#ffff1e 802px,#ffff1e 883px,#ffec13 884px,#ff7d82 885px,#e551ae 886px,#d43dc2 906px,#b121de 910px,#4400ff 913px,#0500d2 915px,#00003a 918px,#000002 920px,#000004 1336px,#0000bc 1345px,#1000f8 1352px,#950af5 1358px,#fd50af 1363px,#ffa55a 1371px,#ffa45b 1404px,#fd4db2 1412px,#a010ef 1420px,#8908f7 1439px,#940bf4 1496px,#dc36c9 1497px,#ff8e71 1498px,#ffa25d 1500px,#ffa25d 1569px,#ff827d 1570px,#6600ff 1571px,#0000e8 1572px,#0000cc 1574px,#000094 1582px,#000078 1588px,#00005a 1599px,#000032 1621px,#000000 1627px,#000000 1674px)"></i>
<i style="background:linear-gradient(90deg,#000000 0px,#00000c 65px,#000072 76px,#0000be 107px,#1200fa 114px,#4d00ff 121px,#2300f0 128px,#0000b6 133px,#00001e 142px,#000000 150px,#00000c 687px,#000064 692px,#0000f2 699px,#2900ff 726px,#4900ff 741px,#a312ed 749px,#be23dc 757px,#bf24db 771px,#7100ff 779px,#6300ff 792px,#6900ff 798px,#7b00ff 799px,#ee42bd 800px,#ffd629 801px,#fff11d 802px,#fff519 881px,#fff30c 884px,#ffcb34 885px,#ffc33c 905px,#ff9a65 910px,#ff6798 912px,#e941be 913px,#6300ff 915px,#2200ff 916px,#0000da 917px,#00002a 920px,#000004 921px,#000004 1335px,#0000e6 1343px,#1700ff 1346px,#3b00ff 1351px,#9d0ef1 1356px,#fd4cb3 1362px,#ff857a 1372px,#ff7887 1406px,#ee42bd 1415px,#cf2ed1 1427px,#d532cd 1496px,#ff50af 1497px,#ff8f70 1498px,#ff8f70 1525px,#ff8f70 1569px,#ff6d92 1570px,#3600ff 1571px,#0000a0 1572px,#000080 1574px,#000040 1580px,#000004 1585px,#000000 1674px)"></i>
<i style="background:linear-gradient(90deg,#000000 0px,#00000c 55px,#000038 61px,#0000da 72px,#0000e8 82px,#0000a8 110px,#0000ac 122px,#000008 141px,#00000a 680px,#000058 686px,#0e00fc 696px,#4600ff 705px,#7c00ff 747px,#9106f9 774px,#9408f7 799px,#d431ce 801px,#be23dc 807px,#4b05f5 815px,#3400cc 827px,#3a00d6 872px,#540af5 876px,#cc37c8 880px,#ff728d 882px,#ffc639 886px,#ffc43b 905px,#ff8976 911px,#f046b9 913px,#6e00ff 915px,#0000ea 917px,#000038 920px,#00000e 921px,#000000 928px,#000002 1334px,#0000a0 1340px,#0000f6 1343px,#5200ff 1352px,#b11be4 1358px,#ec41be 1366px,#e83ec1 1410px,#cd2dd2 1433px,#d834cb 1497px,#df3ac5 1502px,#3a00fe 1512px,#1d00cc 1521px,#1200c4 1570px,#000074 1572px,#00002e 1579px,#000000 1582px,#000000 1674px)"></i>
<i style="background:linear-gradient(90deg,#000038 0px,#000040 51px,#00008c 61px,#0200ff 71px,#0000e2 85px,#000082 112px,#000034 146px,#00001a 671px,#000048 678px,#0d00f0 688px,#5400ff 696px,#7900ff 709px,#a815ea 803px,#6d00ff 808px,#0700ff 813px,#000092 820px,#000072 831px,#00007c 871px,#0000be 876px,#1a00ff 879px,#840cf3 882px,#ca2bd4 884px,#e24fb0 888px,#d941be 907px,#bc22dd 911px,#2200ff 915px,#0400ee 916px,#00004e 920px,#00000e 923px,#000000 958px,#00000c 1330px,#000042 1335px,#0700ff 1344px,#4d00ff 1354px,#8a09f6 1363px,#7e04fb 1502px,#0200f6 1510px,#000098 1516px,#000072 1526px,#000066 1574px,#000004 1585px,#000000 1674px)"></i>
<i style="background:linear-gradient(90deg,#000062 0px,#00006c 52px,#0000d6 72px,#000076 110px,#00005e 172px,#00005e 672px,#0000a0 679px,#0b00fe 684px,#7900ff 691px,#9f0ff0 713px,#a312ed 804px,#4400ff 810px,#0000f0 814px,#000090 820px,#000070 832px,#00007c 873px,#0000bc 879px,#1300f0 883px,#2e00ff 890px,#1900f4 911px,#0000c0 915px,#000056 921px,#000038 931px,#000044 1329px,#000088 1337px,#0000f0 1345px,#2900ff 1370px,#2200ff 1502px,#0000e0 1508px,#000088 1516px,#000070 1534px,#000064 1577px,#000038 1589px,#000038 1674px)"></i>
<i style="background:linear-gradient(90deg,#00006e 0px,#00007e 57px,#000098 74px,#000072 118px,#000078 672px,#0000b0 678px,#0400fe 682px,#970af5 690px,#b41de2 718px,#8f05fa 804px,#3700ff 810px,#0000fc 813px,#000098 819px,#000074 829px,#000080 877px,#0000a8 889px,#00009a 912px,#000062 926px,#00006c 1331px,#0000be 1347px,#0000d0 1398px,#0000c6 1503px,#000078 1518px,#000062 1665px,#000062 1674px)"></i>
<i style="background:linear-gradient(90deg,#000076 0px,#00007e 671px,#0000b8 678px,#0900ff 682px,#9f0ff0 690px,#c427d8 715px,#8f05fa 757px,#6300ff 805px,#0200fc 812px,#000096 819px,#000076 828px,#00007e 1336px,#000098 1362px,#00008e 1506px,#000074 1530px,#000072 1674px)"></i>
<i style="background:linear-gradient(90deg,#00007e 0px,#000082 671px,#0000b8 678px,#0400ff 682px,#8d04fb 690px,#d532cd 710px,#be23dc 727px,#7b00ff 739px,#3b00ff 805px,#0000f4 811px,#000092 819px,#00007a 828px,#00007c 978px,#00007c 1553px,#00007a 1674px)"></i>
<i style="background:linear-gradient(90deg,#000088 0px,#000096 25px,#00008c 79px,#000092 116px,#00008c 138px,#000098 190px,#00007a 244px,#000078 261px,#000084 286px,#000078 292px,#000084 347px,#000082 438px,#000088 449px,#00007e 479px,#000088 534px,#00008e 659px,#000086 670px,#0000b8 678px,#0500ff 683px,#7000ff 690px,#ae19e6 701px,#d834cb 709px,#d431ce 720px,#b81fe0 727px,#6600ff 735px,#3c00ff 763px,#0f00ff 806px,#0000da 811px,#00007c 823px,#00008e 877px,#000086 928px,#000070 940px,#00007e 949px,#00008a 987px,#000088 1041px,#000088 1147px,#000082 1213px,#000080 1382px,#000088 1480px,#000088 1517px,#000082 1674px)"></i>
<i style="background:linear-gradient(90deg,#00009e 0px,#0000ae 7px,#0000a6 23px,#0000ca 28px,#0000b6 34px,#0000b8 38px,#0000a8 54px,#000098 76px,#0000aa 86px,#00009a 102px,#0000b2 112px,#0000b6 117px,#0000c6 121px,#0000a8 128px,#000096 140px,#000096 144px,#0000a8 156px,#0000b0 188px,#0000c4 193px,#0000a8 200px,#000098 234px,#000080 247px,#00008c 258px,#000076 263px,#000090 272px,#0000a0 285px,#00006e 290px,#000090 299px,#000096 321px,#000094 330px,#00009a 339px,#0000a8 343px,#000082 354px,#00009a 380px,#00009a 420px,#000094 426px,#00009a 437px,#000078 441px,#0000a8 453px,#000090 461px,#0000a0 471px,#00007e 483px,#000090 495px,#00009e 523px,#0000a8 533px,#000090 541px,#000096 657px,#0000ac 662px,#000086 667px,#0000c4 679px,#1000ff 685px,#5400ff 691px,#ae19e6 706px,#c125da 718px,#7e01fe 729px,#3300ff 738px,#0000f4 805px,#00007a 823px,#000090 834px,#00009a 875px,#0000a8 880px,#000090 888px,#00009a 920px,#0000b2 925px,#00007c 932px,#000060 939px,#000090 945px,#00008a 954px,#000086 964px,#0000a0 978px,#0000ae 982px,#000090 998px,#000098 1029px,#0000b0 1034px,#000090 1048px,#000088 1057px,#00009a 1109px,#00008a 1123px,#00009e 1147px,#0000a4 1158px,#00008e 1165px,#00008a 1188px,#000086 1194px,#00009e 1229px,#000094 1261px,#000094 1267px,#000098 1338px,#000098 1344px,#000084 1382px,#000076 1386px,#000090 1394px,#00009e 1444px,#000098 1464px,#0000a8 1469px,#000094 1475px,#000086 1511px,#00009a 1517px,#0000ae 1521px,#000090 1528px,#000094 1537px,#00009e 1548px,#0000a4 1552px,#000094 1558px,#000094 1565px,#000098 1621px,#0000a4 1626px,#000090 1636px,#00009a 1658px,#000090 1674px)"></i>
<i style="background:linear-gradient(90deg,#0000be 0px,#0000e2 5px,#0000c0 22px,#0a00fa 26px,#0000ea 34px,#0000ee 38px,#0000d4 42px,#0000ce 60px,#0000be 71px,#0000a6 75px,#0000d8 82px,#0000c6 96px,#0000a6 100px,#0000ea 110px,#0000de 116px,#0b00fc 121px,#0000d0 127px,#0000c4 138px,#00009c 142px,#0000ce 148px,#0000d4 187px,#0d00fc 192px,#0000ce 199px,#0000b8 209px,#0000c4 231px,#00009c 237px,#000096 242px,#000078 246px,#0000a2 252px,#00008e 259px,#00006e 263px,#0000a0 268px,#0000aa 280px,#0000d0 284px,#000064 289px,#000084 293px,#0000a0 298px,#0000a0 317px,#0000bc 326px,#0000a2 336px,#0000d6 342px,#0000a2 348px,#000092 356px,#0000b2 375px,#0000bc 379px,#0000a0 387px,#0000ae 419px,#0000c2 423px,#0000a2 429px,#0000c6 436px,#000078 440px,#0000bc 449px,#0000d8 452px,#0000a2 458px,#0000ae 466px,#0000ca 470px,#0000a0 476px,#00007a 482px,#0000a0 488px,#0000aa 521px,#0000d0 529px,#0000e6 531px,#0000a2 537px,#0000a8 656px,#0000e2 661px,#00008a 666px,#0000e4 684px,#1500ff 687px,#4f00ff 696px,#7300ff 701px,#7600ff 713px,#970af5 717px,#6200ff 723px,#1000ff 740px,#0000d8 807px,#000092 820px,#000072 823px,#0000a0 830px,#0000aa 874px,#0000dc 878px,#0000a4 884px,#0000a6 918px,#0000e2 924px,#0000c6 927px,#00007a 931px,#00006c 935px,#000040 938px,#00009c 944px,#000084 952px,#00009a 957px,#00007c 962px,#00009c 968px,#0000a8 976px,#0000e2 981px,#0000a2 993px,#0000aa 1017px,#0000a8 1028px,#0000e2 1033px,#0000c0 1040px,#0000a0 1046px,#00008a 1056px,#0000a0 1064px,#0000a6 1107px,#0000bc 1112px,#00008a 1121px,#0000a0 1129px,#0000b0 1146px,#0000d0 1150px,#0000c2 1154px,#0000d8 1157px,#00009c 1162px,#000094 1188px,#00007a 1192px,#0000a0 1198px,#0000aa 1227px,#0000ca 1231px,#0000a2 1237px,#0000a2 1258px,#0000aa 1261px,#0000c0 1264px,#0000a2 1270px,#0000aa 1337px,#0000c2 1342px,#00009c 1349px,#000096 1381px,#00006a 1385px,#0000a0 1391px,#0000ae 1441px,#0000c2 1447px,#0000a0 1454px,#0000b2 1464px,#0000d8 1468px,#0000a4 1473px,#0000b2 1480px,#000098 1485px,#000096 1510px,#00008e 1514px,#0000de 1520px,#0000a2 1526px,#0000b2 1535px,#0000a6 1546px,#0000d4 1551px,#0000a0 1556px,#0000ba 1563px,#0000a0 1571px,#0000aa 1584px,#0000aa 1620px,#0000d0 1625px,#0000a2 1631px,#0000aa 1652px,#0000c2 1657px,#0000a2 1663px,#0000a0 1674px)"></i>
<i style="background:linear-gradient(90deg,#0000e2 0px,#1500ff 5px,#0000ee 20px,#0000e6 22px,#1200ff 24px,#4d00ff 27px,#1700ff 33px,#3c00ff 36px,#0800fc 41px,#0400f8 59px,#0000f2 70px,#0000b8 74px,#0200f8 79px,#0000ee 96px,#0000ba 100px,#0400f8 105px,#1d00ff 111px,#0a00ff 115px,#5000ff 120px,#0800fc 125px,#0000ee 138px,#0000aa 142px,#0200f6 147px,#0800fe 187px,#4c00ff 192px,#0700fc 197px,#0000e6 205px,#0000d8 209px,#0000e4 216px,#0000e4 230px,#0000e2 233px,#0000ac 236px,#0000b0 241px,#000072 245px,#000080 247px,#0000b4 251px,#0000a6 258px,#00005c 262px,#0000ac 267px,#0000c6 280px,#0400f8 283px,#0000e8 285px,#000068 288px,#00004c 290px,#0000b0 296px,#0000a8 309px,#0000a8 314px,#0000d4 322px,#0000e0 326px,#0000b4 333px,#0000c6 338px,#0700fa 341px,#0000ea 344px,#0000b6 348px,#000092 355px,#0000b4 362px,#0000c2 374px,#0000e6 378px,#0000b4 384px,#0000be 418px,#0000ee 422px,#0000b6 429px,#0000d8 433px,#0000f6 435px,#0000d8 437px,#000072 440px,#000076 442px,#0a00fe 451px,#0000e6 454px,#0000b6 458px,#0000be 465px,#0200f6 469px,#0000b2 476px,#000076 482px,#0000b0 487px,#0000ba 520px,#0000e6 525px,#0000ea 528px,#1a00ff 531px,#0400f8 533px,#0000be 536px,#0000be 656px,#0f00ff 660px,#0a00fe 662px,#00008e 666px,#0000bc 674px,#0000ca 684px,#0900ff 688px,#2e00ff 695px,#6300ff 699px,#2d00ff 708px,#3f00ff 713px,#7600ff 716px,#6800ff 718px,#2800ff 722px,#0000f8 743px,#0000f4 757px,#0000ca 811px,#0000a6 819px,#000064 823px,#0000b0 828px,#0000ba 873px,#0f00ff 878px,#0000e2 881px,#0000b8 884px,#0000be 918px,#1200ff 923px,#0a00fe 926px,#0000c8 928px,#000076 931px,#000072 934px,#000018 938px,#00003e 940px,#00009e 943px,#0000ac 947px,#000082 951px,#0000ac 956px,#000076 961px,#0000b0 967px,#0000b0 974px,#0000ce 977px,#0700fc 979px,#1700ff 981px,#0000e6 987px,#0000b4 993px,#0000be 1009px,#0000d0 1015px,#0000b4 1025px,#0000ce 1029px,#1200ff 1032px,#0200f6 1039px,#0000ba 1043px,#0000a4 1051px,#000084 1055px,#0000b4 1061px,#0000be 1107px,#0000e2 1111px,#000090 1121px,#0000b4 1128px,#0000be 1145px,#0500fa 1149px,#0000e0 1153px,#0a00fe 1157px,#0000b0 1161px,#0000ac 1187px,#000072 1191px,#0000b2 1197px,#0000ba 1226px,#0000f4 1231px,#0000b8 1236px,#0000ba 1253px,#0000c2 1257px,#0000ac 1260px,#0000e6 1263px,#0000b4 1270px,#0000ba 1336px,#0000ee 1341px,#0000b4 1347px,#0000ac 1380px,#00005c 1385px,#0000b0 1390px,#0000be 1438px,#0000ea 1447px,#0000b8 1451px,#0000be 1463px,#0a00fe 1467px,#0000e2 1470px,#0000b8 1473px,#0000ce 1480px,#0000a4 1484px,#0000b4 1504px,#0000a2 1510px,#00008e 1513px,#0000b8 1516px,#0a00fe 1519px,#0200f6 1522px,#0000bc 1525px,#0000c2 1530px,#0000d8 1534px,#0000b4 1540px,#0000bc 1546px,#0700fc 1550px,#0000f2 1552px,#0000b6 1555px,#0000cc 1559px,#0000e4 1562px,#0000b4 1568px,#0000c2 1579px,#0000c2 1584px,#0000be 1594px,#0000c2 1603px,#0000b8 1619px,#0700fa 1624px,#0000d8 1627px,#0000b4 1631px,#0000c2 1652px,#0000ee 1656px,#0000b6 1662px,#0000b4 1674px)"></i>
<i style="background:linear-gradient(90deg,#0500ff 0px,#3f00ff 4px,#2200ff 14px,#0900ff 22px,#3c00ff 24px,#8102fd 26px,#8c06f9 28px,#4200ff 33px,#7400ff 36px,#2b00ff 41px,#3000ff 45px,#1000ff 49px,#2200ff 65px,#1400ff 70px,#0000ee 72px,#0000c8 74px,#1400ff 78px,#3100ff 84px,#1000ff 96px,#0000ea 98px,#0000cc 100px,#0700ff 103px,#5000ff 110px,#3100ff 115px,#9208f7 120px,#2b00ff 125px,#1000ff 138px,#0000dc 140px,#0000b6 142px,#0200fc 145px,#2200ff 149px,#2200ff 185px,#3b00ff 188px,#8604fb 191px,#7b00ff 193px,#3100ff 196px,#0000fa 206px,#0000f4 209px,#0500ff 230px,#0500fe 233px,#0000bc 236px,#0000be 241px,#000068 245px,#000080 247px,#0000be 250px,#0000be 257px,#00007a 260px,#00004c 262px,#000072 264px,#0000ba 267px,#0000d0 279px,#0d00ff 282px,#2200ff 284px,#0a00ff 285px,#00005e 288px,#00003c 289px,#000044 291px,#0000b6 295px,#0000c4 306px,#0000a6 312px,#0000e0 321px,#0500ff 325px,#0000c6 333px,#0000dc 338px,#1000ff 340px,#2e00ff 342px,#0000f2 345px,#0000c6 348px,#000090 354px,#0000c4 360px,#0000cc 373px,#0900ff 377px,#0000ea 380px,#0000c4 385px,#0000ca 417px,#0a00ff 421px,#0200fc 424px,#0000c8 428px,#0000e0 432px,#1800ff 435px,#0000f6 437px,#00008c 439px,#00006a 440px,#000072 442px,#0000c4 446px,#0400fc 449px,#2e00ff 451px,#2200ff 453px,#0000ea 455px,#0000c4 459px,#0000d4 465px,#1000ff 468px,#1700ff 470px,#0000ee 472px,#0000c2 476px,#000096 479px,#00006e 481px,#00007e 483px,#0000c0 487px,#0000cc 520px,#0500ff 524px,#0d00ff 528px,#4600ff 531px,#2200ff 533px,#0400fe 534px,#0000c8 537px,#0000d0 549px,#0000cc 655px,#0400fc 658px,#3700ff 660px,#3f00ff 661px,#0a00ff 663px,#0000a6 665px,#000090 667px,#0000c6 672px,#0000c4 680px,#0000aa 683px,#0200fe 689px,#1400ff 694px,#6600ff 699px,#3600ff 703px,#0a00ff 707px,#1200ff 712px,#6e00ff 716px,#5b00ff 718px,#0f00ff 721px,#0000ee 749px,#0100ff 755px,#0000e4 762px,#0000c6 817px,#000098 820px,#000060 822px,#000064 824px,#0000be 828px,#0000cc 873px,#0d00ff 876px,#3700ff 878px,#1e00ff 880px,#0000e6 882px,#0000c6 885px,#0000d0 918px,#1000ff 921px,#4400ff 924px,#3000ff 926px,#1000ff 927px,#000086 930px,#00006a 932px,#000066 934px,#000004 937px,#000002 939px,#0000a6 943px,#0000c0 946px,#000080 951px,#0000ba 956px,#000070 961px,#0000bc 966px,#0000ba 973px,#0000ea 977px,#2800ff 979px,#4200ff 981px,#0a00ff 985px,#0000ea 989px,#0000c6 993px,#0000d2 1009px,#0000ee 1015px,#0000c4 1022px,#0000d4 1028px,#0700ff 1030px,#3c00ff 1032px,#1b00ff 1039px,#0000ec 1041px,#0000c4 1045px,#0000ae 1051px,#000082 1054px,#0000c4 1060px,#0000cc 1106px,#0500fe 1111px,#000092 1121px,#0000c4 1127px,#0000ca 1144px,#0400fc 1147px,#2500ff 1149px,#0400fe 1153px,#3100ff 1156px,#1800ff 1158px,#0000f6 1159px,#0000c0 1161px,#0000b8 1187px,#00006a 1191px,#00009a 1194px,#0000c2 1197px,#0000cc 1226px,#1400ff 1230px,#0000f8 1233px,#0000c8 1237px,#0000cc 1253px,#0000e2 1256px,#0000b6 1259px,#0000d4 1261px,#0000f6 1262px,#0000f4 1265px,#0000c8 1268px,#0000cc 1336px,#0d00ff 1340px,#0000f8 1343px,#0000c4 1347px,#0000b6 1353px,#0000c4 1374px,#0000ba 1380px,#000072 1383px,#00004c 1385px,#0000bc 1390px,#0000cc 1437px,#0a00ff 1447px,#0000c8 1452px,#0000cc 1462px,#0500ff 1465px,#3000ff 1467px,#1d00ff 1469px,#0000e6 1471px,#0000c8 1474px,#0000f2 1479px,#0000ae 1484px,#0000c4 1495px,#0000b8 1509px,#000090 1513px,#0000cc 1516px,#1400ff 1518px,#3c00ff 1520px,#0200fa 1523px,#0000c8 1526px,#0000d8 1530px,#0000f6 1534px,#0000c8 1539px,#0000d0 1546px,#0000fa 1548px,#2800ff 1550px,#1500ff 1552px,#0000d8 1554px,#0000c8 1557px,#0500fe 1561px,#0000ea 1564px,#0000c6 1568px,#0000cc 1578px,#0000ea 1582px,#0000cc 1587px,#0000de 1592px,#0000c8 1600px,#0000d4 1606px,#0000c8 1618px,#0000ea 1621px,#1a00ff 1623px,#2200ff 1625px,#0000f6 1627px,#0000c8 1630px,#0000cc 1651px,#0d00ff 1655px,#0000f6 1658px,#0000c8 1662px,#0000c4 1674px)"></i>
<i style="background:linear-gradient(90deg,#1500ff 0px,#5800ff 4px,#3600ff 12px,#2200ff 20px,#1a00ff 22px,#5500ff 24px,#a815ea 26px,#b11be4 28px,#6200ff 32px,#6e00ff 34px,#980bf4 36px,#4200ff 41px,#4900ff 45px,#2300ff 49px,#3600ff 60px,#2600ff 70px,#0000fe 72px,#0000d4 74px,#1200ff 77px,#4900ff 82px,#2300ff 96px,#0000fa 98px,#0000da 100px,#0200ff 102px,#6900ff 109px,#5800ff 112px,#4900ff 115px,#9207f8 118px,#bb21de 120px,#8f05fa 122px,#3f00ff 125px,#2e00ff 137px,#0c00ff 139px,#0000be 142px,#0f00ff 145px,#3300ff 148px,#3600ff 184px,#5500ff 188px,#ad18e7 191px,#9f0ff0 193px,#4900ff 196px,#1800ff 205px,#0000fe 208px,#1b00ff 214px,#0c00ff 229px,#2300ff 232px,#0000f6 234px,#0000c4 236px,#0000c8 241px,#000062 245px,#00007c 247px,#0000c6 250px,#0000c6 257px,#000078 260px,#000042 262px,#00006c 264px,#0000c2 267px,#0000da 279px,#0500ff 281px,#3600ff 283px,#3700ff 284px,#1b00ff 285px,#0000e0 286px,#000054 288px,#00002e 289px,#000026 290px,#0000bc 295px,#0000ce 304px,#0000ac 312px,#0000ee 321px,#1500ff 324px,#0000fa 328px,#0000d0 333px,#0000da 337px,#0500ff 339px,#4600ff 342px,#0200ff 345px,#0000d0 348px,#000090 354px,#0000ce 360px,#0000d8 373px,#0d00ff 376px,#0f00ff 379px,#0000d0 384px,#0000d6 417px,#0900ff 420px,#1e00ff 423px,#0000e2 426px,#0000d4 430px,#0900ff 433px,#2d00ff 435px,#0500ff 437px,#000064 440px,#00005a 441px,#0000c0 445px,#0000f2 448px,#4600ff 451px,#3600ff 453px,#0000fa 455px,#0000d2 458px,#0000de 465px,#2200ff 468px,#2900ff 470px,#0200fe 472px,#0000b2 478px,#000068 481px,#00007c 483px,#0000c2 486px,#0000d8 520px,#1500ff 524px,#1d00ff 528px,#6200ff 531px,#3600ff 533px,#0000f2 535px,#0000d0 538px,#0000e2 548px,#0000ce 560px,#0000da 655px,#1000ff 658px,#5200ff 660px,#5b00ff 661px,#1b00ff 663px,#0000e0 664px,#000090 666px,#0000b4 669px,#0000d2 674px,#0000c0 680px,#00009c 683px,#0000f0 689px,#0700ff 694px,#6000ff 698px,#5500ff 701px,#0000fc 706px,#0000f4 711px,#1500ff 713px,#6e00ff 716px,#5a00ff 718px,#0200fe 721px,#0000e8 728px,#0000ea 749px,#0000fc 755px,#0000de 761px,#0000cc 817px,#000098 820px,#000058 822px,#00005c 824px,#0000b8 827px,#0000ce 832px,#0000d6 873px,#0000fe 875px,#4f00ff 878px,#3300ff 880px,#0000f6 882px,#0000d0 885px,#0000d4 917px,#0900ff 920px,#5500ff 923px,#5b00ff 925px,#0000ee 928px,#000084 930px,#000064 932px,#000062 934px,#000000 937px,#000012 940px,#0000ac 943px,#0000c8 946px,#00007c 951px,#0000c2 956px,#000090 959px,#00006c 961px,#000088 963px,#0000c4 966px,#0000c2 973px,#0000de 976px,#0000fa 977px,#5800ff 980px,#4c00ff 982px,#1d00ff 985px,#0000fa 989px,#0000d0 993px,#0000d6 1008px,#0200ff 1014px,#0000ce 1022px,#0000e2 1028px,#0000fa 1029px,#5500ff 1032px,#5400ff 1034px,#3000ff 1039px,#0000fe 1041px,#0000d2 1044px,#0000c2 1050px,#000080 1054px,#0000cc 1060px,#0000d6 1106px,#0f00ff 1110px,#0000fe 1113px,#000094 1120px,#0000ce 1127px,#0000d6 1144px,#0f00ff 1147px,#3900ff 1149px,#1200ff 1153px,#4900ff 1156px,#2b00ff 1158px,#0700ff 1159px,#0000c0 1162px,#0000ce 1185px,#0000ac 1188px,#000064 1191px,#000080 1193px,#0000c4 1196px,#0000da 1226px,#0000fe 1228px,#2900ff 1231px,#0000f2 1234px,#0000ce 1238px,#0000da 1253px,#0000f2 1256px,#0000be 1259px,#0000c2 1260px,#0900ff 1262px,#1800ff 1264px,#0000dc 1267px,#0000ce 1288px,#0000d6 1336px,#0d00ff 1339px,#2500ff 1341px,#0000f2 1344px,#0000c2 1349px,#0000ca 1355px,#0000c2 1380px,#00006e 1383px,#000042 1385px,#000074 1387px,#0000b6 1389px,#0000ce 1393px,#0000da 1437px,#1000ff 1444px,#2500ff 1446px,#0000f2 1449px,#0000ce 1453px,#0000d6 1462px,#0000fa 1464px,#4600ff 1467px,#3100ff 1469px,#0000f6 1471px,#0000d4 1474px,#0200ff 1479px,#0000b4 1484px,#0000ce 1493px,#0000c0 1509px,#000090 1513px,#0000d6 1516px,#0000fe 1517px,#4600ff 1519px,#5500ff 1520px,#2e00ff 1522px,#0000ee 1524px,#0000d2 1527px,#0900ff 1533px,#0000ea 1536px,#0000ce 1541px,#0000dc 1546px,#0c00ff 1548px,#3c00ff 1550px,#3f00ff 1551px,#0900ff 1553px,#0000d2 1555px,#0000e2 1558px,#1500ff 1561px,#0000fa 1564px,#0000d0 1568px,#0000da 1578px,#0000fa 1582px,#0000d6 1587px,#0000ee 1592px,#0000d2 1599px,#0000e6 1605px,#0000ce 1614px,#0000e2 1620px,#1400ff 1622px,#3c00ff 1624px,#2300ff 1626px,#0000ee 1628px,#0000ce 1632px,#0000d6 1651px,#0f00ff 1654px,#2500ff 1656px,#0000f2 1659px,#0000ce 1663px,#0000ce 1674px)"></i>
<i style="background:linear-gradient(90deg,#1500ff 0px,#5800ff 4px,#3600ff 12px,#2200ff 20px,#1a00ff 22px,#5500ff 24px,#a815ea 26px,#b11be4 28px,#6200ff 32px,#6e00ff 34px,#970af5 36px,#4200ff 41px,#4900ff 45px,#2300ff 49px,#3600ff 60px,#2600ff 70px,#0000fe 72px,#0000d4 74px,#1000ff 77px,#4900ff 82px,#2300ff 96px,#0000fa 98px,#0000da 100px,#0200ff 102px,#6900ff 109px,#4900ff 115px,#8f05fa 118px,#bb21de 120px,#8f05fa 122px,#3f00ff 125px,#2d00ff 137px,#0c00ff 139px,#0000be 142px,#0d00ff 145px,#3300ff 148px,#3600ff 185px,#5500ff 188px,#ad18e7 191px,#9f0ff0 193px,#4900ff 196px,#1800ff 205px,#0000fe 208px,#1b00ff 214px,#0c00ff 229px,#2300ff 232px,#0000f6 234px,#0000c4 236px,#0000d2 240px,#000094 243px,#000062 245px,#00007c 247px,#0000c6 250px,#0000c6 257px,#000078 260px,#000042 262px,#00006c 264px,#0000c2 267px,#0000da 279px,#0500ff 281px,#3600ff 283px,#3600ff 284px,#1b00ff 285px,#0000de 286px,#000054 288px,#00002e 289px,#000026 290px,#0000bc 295px,#0000ce 304px,#0000ac 312px,#0000ee 321px,#1500ff 324px,#0000fa 328px,#0000ce 333px,#0000da 337px,#0500ff 339px,#4600ff 342px,#0200ff 345px,#0000d0 348px,#000090 354px,#0000ce 360px,#0000d8 373px,#0d00ff 376px,#0f00ff 379px,#0000d0 384px,#0000d6 417px,#0900ff 420px,#1e00ff 423px,#0000e2 426px,#0000d2 430px,#0900ff 433px,#2d00ff 435px,#0500ff 437px,#000062 440px,#000058 441px,#0000c0 445px,#0000f2 448px,#4600ff 451px,#3600ff 453px,#0000fa 455px,#0000d2 458px,#0000de 465px,#2200ff 468px,#2900ff 470px,#0200fe 472px,#0000b2 478px,#000068 481px,#00007c 483px,#0000c2 486px,#0000d8 520px,#1500ff 524px,#1d00ff 528px,#6200ff 531px,#3600ff 533px,#0000f2 535px,#0000d0 538px,#0000e2 548px,#0000ce 560px,#0000da 655px,#1000ff 658px,#5200ff 660px,#5a00ff 661px,#1b00ff 663px,#0000e0 664px,#000090 666px,#0000b4 669px,#0000d0 674px,#0000c6 679px,#000092 683px,#0000de 689px,#0c00ff 695px,#5400ff 698px,#4700ff 701px,#0000f8 705px,#0000e0 710px,#0900ff 713px,#6200ff 716px,#4d00ff 718px,#0a00ff 720px,#0000dc 724px,#0000de 749px,#0000fc 754px,#0000d6 760px,#0000cc 817px,#000098 820px,#000058 822px,#00005c 824px,#0000b8 827px,#0000ce 832px,#0000d6 873px,#0000fe 875px,#4f00ff 878px,#3300ff 880px,#0000f4 882px,#0000d0 885px,#0000d2 917px,#0900ff 920px,#5500ff 923px,#5b00ff 925px,#0000ee 928px,#000084 930px,#000064 932px,#000060 934px,#000000 937px,#000012 940px,#000084 942px,#0000c0 944px,#0000c0 947px,#00007c 951px,#0000c2 956px,#000090 959px,#00006c 961px,#000088 963px,#0000c2 966px,#0000c2 973px,#0000de 976px,#0000fa 977px,#5800ff 980px,#4c00ff 982px,#1d00ff 985px,#0000fa 989px,#0000d0 993px,#0000d6 1008px,#0200ff 1014px,#0000ce 1022px,#0000e2 1028px,#0000fa 1029px,#5500ff 1032px,#5400ff 1034px,#3000ff 1039px,#0000fc 1041px,#0000d2 1044px,#0000c2 1050px,#000080 1054px,#0000cc 1060px,#0000d6 1106px,#0f00ff 1110px,#0000fe 1113px,#000094 1120px,#0000ce 1127px,#0000d6 1144px,#0f00ff 1147px,#3900ff 1149px,#1200ff 1153px,#4900ff 1156px,#2b00ff 1158px,#0700ff 1159px,#0000c0 1162px,#0000c8 1186px,#000090 1189px,#000064 1191px,#000080 1193px,#0000c4 1196px,#0000da 1226px,#0000fe 1228px,#2900ff 1231px,#0000f2 1234px,#0000ce 1238px,#0000d8 1253px,#0000f2 1256px,#0000be 1259px,#0000c2 1260px,#0900ff 1262px,#1700ff 1264px,#0000d2 1268px,#0000d6 1336px,#0d00ff 1339px,#2300ff 1341px,#0000f2 1344px,#0000bc 1350px,#0000ce 1371px,#0000c2 1380px,#000094 1382px,#00004c 1384px,#000040 1385px,#000074 1387px,#0000c4 1390px,#0000da 1437px,#1000ff 1444px,#2500ff 1446px,#0000f2 1449px,#0000ce 1453px,#0000d6 1462px,#0000f8 1464px,#4600ff 1467px,#3000ff 1469px,#0000f6 1471px,#0000d6 1473px,#0200ff 1479px,#0000b4 1484px,#0000ce 1493px,#0000c0 1509px,#000090 1513px,#0000d6 1516px,#0000fe 1517px,#4600ff 1519px,#5500ff 1520px,#2e00ff 1522px,#0000ee 1524px,#0000d2 1527px,#0900ff 1533px,#0000ea 1536px,#0000ce 1541px,#0000da 1546px,#0c00ff 1548px,#3c00ff 1550px,#2900ff 1552px,#0900ff 1553px,#0000d2 1555px,#0000e2 1558px,#1500ff 1561px,#0000fa 1564px,#0000d0 1568px,#0000da 1578px,#0000fa 1582px,#0000d6 1587px,#0000ee 1592px,#0000d0 1599px,#0000e6 1605px,#0000ce 1614px,#0000e2 1620px,#1400ff 1622px,#3c00ff 1624px,#2300ff 1626px,#0000ee 1628px,#0000ce 1632px,#0000d6 1651px,#0f00ff 1654px,#1b00ff 1657px,#0000de 1660px,#0000ce 1672px,#0000ce 1674px)"></i>
<i style="background:linear-gradient(90deg,#0500fe 0px,#3f00ff 5px,#2200ff 12px,#0700ff 22px,#8102fd 26px,#7f02fd 29px,#4600ff 32px,#5000ff 34px,#7400ff 36px,#2b00ff 41px,#3000ff 45px,#1000ff 49px,#2000ff 67px,#0500ff 71px,#0000c8 74px,#1200ff 78px,#3100ff 84px,#1000ff 96px,#0000cc 100px,#0700ff 103px,#5000ff 110px,#3000ff 115px,#9208f7 120px,#2900ff 125px,#1a00ff 137px,#0000fa 139px,#0000c0 141px,#0000c2 143px,#0200fa 145px,#2200ff 150px,#2200ff 185px,#3b00ff 188px,#8604fb 191px,#7b00ff 193px,#3000ff 196px,#0000fa 206px,#0000f2 209px,#0000fa 220px,#0f00ff 231px,#0500fe 233px,#0000ba 236px,#0000be 241px,#000066 245px,#00007e 247px,#0000bc 250px,#0000be 257px,#00007a 260px,#00004c 262px,#000072 264px,#0000ba 267px,#0000cc 279px,#0d00ff 282px,#2200ff 284px,#0a00ff 285px,#00005c 288px,#00003c 289px,#000044 291px,#0000b4 295px,#0000c4 306px,#0000a6 312px,#0000e0 321px,#0500fe 324px,#0000ea 328px,#0000c4 333px,#0000dc 338px,#1000ff 340px,#2e00ff 342px,#0000f2 345px,#0000c4 348px,#000090 354px,#0000c4 360px,#0000cc 373px,#0700ff 377px,#0000ea 380px,#0000c4 384px,#0000c8 417px,#0900ff 421px,#0200fa 424px,#0000c8 428px,#0000de 432px,#0d00ff 434px,#1200ff 436px,#0000f4 437px,#00006a 440px,#000060 441px,#0000c4 446px,#0400fc 449px,#2e00ff 451px,#2200ff 453px,#0000ea 455px,#0000c6 458px,#0000d4 465px,#1000ff 468px,#1700ff 470px,#0000ee 472px,#0000c0 476px,#00006e 481px,#00007c 483px,#0000c0 487px,#0000cc 520px,#0500fe 524px,#0a00ff 528px,#4600ff 531px,#2200ff 533px,#0400fe 534px,#0000c8 537px,#0000d0 549px,#0000cc 655px,#0400fc 658px,#3700ff 660px,#3f00ff 661px,#0a00ff 663px,#0000a6 665px,#000090 667px,#0000c4 672px,#0000b2 680px,#00008c 683px,#0000ca 689px,#0000de 694px,#2300ff 697px,#3600ff 700px,#0000f4 704px,#0000cc 708px,#0000da 712px,#0f00ff 714px,#4200ff 716px,#3000ff 718px,#0000f4 720px,#0000cc 723px,#0000ce 749px,#0000e6 754px,#0000c8 762px,#0000bc 818px,#00005e 822px,#000062 824px,#0000b2 827px,#0000c4 836px,#0000cc 873px,#0d00ff 876px,#3600ff 878px,#1e00ff 880px,#0000e4 882px,#0000c4 886px,#0000d0 918px,#1000ff 921px,#4200ff 924px,#2e00ff 926px,#1000ff 927px,#000084 930px,#00006a 932px,#000066 934px,#000004 937px,#000002 939px,#0000a6 943px,#0000be 946px,#000080 951px,#0000ba 956px,#000070 961px,#0000ba 966px,#0000ba 973px,#0000e8 977px,#2500ff 979px,#4200ff 981px,#0a00ff 985px,#0000ea 989px,#0000c4 993px,#0000d0 1009px,#0000ee 1015px,#0000c4 1022px,#0000d4 1028px,#0700ff 1030px,#4200ff 1033px,#1b00ff 1039px,#0000ea 1041px,#0000c4 1045px,#0000ae 1051px,#000080 1054px,#0000c2 1060px,#0000d0 1107px,#0400fe 1111px,#000090 1120px,#0000c4 1127px,#0000c8 1144px,#0200fc 1147px,#2200ff 1150px,#0400fc 1153px,#3100ff 1156px,#1700ff 1158px,#0000f6 1159px,#0000c0 1161px,#0000c0 1186px,#00006a 1191px,#00009a 1194px,#0000c4 1198px,#0000cc 1226px,#1400ff 1230px,#0000f8 1233px,#0000c8 1236px,#0000cc 1253px,#0000e2 1256px,#0000b6 1259px,#0000d4 1261px,#0000f6 1262px,#0000f4 1265px,#0000c4 1269px,#0000cc 1336px,#0d00ff 1340px,#0000f6 1343px,#0000c4 1347px,#0000b6 1353px,#0000c4 1378px,#0000aa 1381px,#000056 1384px,#000058 1386px,#0000bc 1390px,#0000cc 1437px,#0a00ff 1447px,#0000c6 1452px,#0000c8 1462px,#0500fe 1465px,#2e00ff 1467px,#1b00ff 1469px,#0000e6 1471px,#0000c8 1474px,#0000ee 1479px,#0000ae 1484px,#0000c4 1495px,#0000b8 1509px,#000090 1513px,#0000ca 1516px,#1400ff 1518px,#3c00ff 1520px,#0200fa 1523px,#0000c8 1526px,#0000d8 1530px,#0000f4 1534px,#0000c4 1540px,#0000d0 1546px,#0000fa 1548px,#2800ff 1551px,#0000f6 1553px,#0000c8 1555px,#0000d4 1558px,#0500fe 1561px,#0000ea 1564px,#0000c4 1568px,#0000cc 1578px,#0000ea 1582px,#0000cc 1587px,#0000d8 1593px,#0000c8 1600px,#0000d2 1606px,#0000c6 1618px,#0000e8 1621px,#1a00ff 1623px,#2200ff 1625px,#0000f6 1627px,#0000c8 1630px,#0000cc 1651px,#0d00ff 1655px,#0000f6 1658px,#0000c6 1662px,#0000c4 1674px)"></i>
<i style="background:linear-gradient(90deg,#0000e2 0px,#1500ff 5px,#0000e6 22px,#1200ff 24px,#4d00ff 27px,#1700ff 33px,#3900ff 36px,#0800fc 41px,#0200f6 52px,#0000f0 70px,#0000b6 74px,#0500fa 80px,#0000ee 96px,#0000ba 100px,#0400f8 105px,#1d00ff 111px,#0a00fe 115px,#5000ff 120px,#0700fc 125px,#0000ea 138px,#0000a8 142px,#0000f6 147px,#1000ff 188px,#4a00ff 192px,#0700fa 197px,#0000e6 205px,#0000d0 208px,#0000e6 215px,#0000da 229px,#0000ee 232px,#0000ac 236px,#0000b0 241px,#00006e 245px,#0000b2 251px,#0000a4 258px,#00005c 262px,#0000b0 268px,#0000c4 280px,#0400f8 283px,#0000e6 285px,#000066 288px,#00004a 290px,#0000b0 296px,#0000a2 310px,#0000c8 321px,#0000e2 325px,#0000b4 334px,#0000c4 338px,#0800fe 342px,#0000b4 348px,#000092 355px,#0000b4 362px,#0000c2 374px,#0000e6 378px,#0000b4 384px,#0000be 418px,#0000ee 422px,#0000b4 428px,#0000c6 432px,#0000f4 435px,#0000d4 437px,#000070 440px,#000076 442px,#0000b4 446px,#0800fe 451px,#0000e6 454px,#0000b8 457px,#0000be 465px,#0000f6 469px,#0000b0 476px,#000072 482px,#0000b0 487px,#0000ba 520px,#0000e4 525px,#0000ea 528px,#1a00ff 531px,#0400f8 533px,#0000bc 536px,#0000be 656px,#0f00ff 660px,#0a00fe 662px,#00008c 666px,#0000b4 674px,#00009a 681px,#00008e 684px,#0000b6 690px,#0000d2 695px,#0c00ff 698px,#0000e2 703px,#0000b6 708px,#0000c2 712px,#1400ff 716px,#0000ee 719px,#0000ba 722px,#0000be 750px,#0000c6 755px,#0000b4 768px,#0000ac 818px,#000062 823px,#0000ac 828px,#0000b8 873px,#0f00ff 878px,#0000e0 881px,#0000b4 885px,#0000ba 918px,#1000ff 923px,#0a00fe 926px,#0000c8 928px,#000074 931px,#00005c 935px,#000016 938px,#00003e 940px,#00009e 943px,#0000b0 946px,#000080 951px,#0000ac 956px,#000076 961px,#0000ac 967px,#0000b4 975px,#1200ff 980px,#0000dc 988px,#0000b4 993px,#0000c2 1010px,#0000cc 1016px,#0000b4 1024px,#0000be 1028px,#1200ff 1032px,#0200f6 1039px,#0000b8 1043px,#0000a4 1051px,#000084 1055px,#0000b2 1060px,#0000be 1107px,#0000dc 1112px,#00008e 1121px,#0000b2 1127px,#0000be 1145px,#0500fa 1149px,#0000de 1153px,#0800fe 1157px,#0000b0 1161px,#0000a8 1187px,#000072 1191px,#0000b0 1197px,#0000ba 1226px,#0000f2 1231px,#0000b4 1237px,#0000be 1254px,#0000c2 1257px,#0000ac 1260px,#0000e6 1263px,#0000b4 1269px,#0000be 1337px,#0000ee 1341px,#0000b2 1347px,#0000b2 1357px,#0000ac 1380px,#00005c 1385px,#0000ac 1390px,#0000be 1438px,#0000de 1444px,#0000e6 1447px,#0000b4 1452px,#0000be 1463px,#0a00fe 1467px,#0000e0 1470px,#0000b8 1473px,#0000cc 1480px,#0000a4 1485px,#0000b2 1506px,#000092 1514px,#0a00fe 1519px,#0000f6 1522px,#0000ba 1525px,#0000ca 1531px,#0000d6 1534px,#0000b4 1540px,#0000c6 1547px,#0700fa 1550px,#0000f2 1552px,#0000b4 1555px,#0000ca 1559px,#0000e2 1562px,#0000b4 1568px,#0000ca 1583px,#0000ba 1588px,#0000c2 1593px,#0000ba 1601px,#0000be 1620px,#0500fa 1624px,#0000d8 1627px,#0000b4 1631px,#0000be 1652px,#0000ee 1656px,#0000b4 1662px,#0000b4 1674px)"></i>
<i style="background:linear-gradient(90deg,#0000bc 0px,#0000de 5px,#0000be 22px,#0a00f8 26px,#0000e8 34px,#0000ec 38px,#0000d4 42px,#0000ca 51px,#0000c6 70px,#0000a2 74px,#0000d8 83px,#0000bc 97px,#0000a2 100px,#0000e8 110px,#0000dc 116px,#0b00fa 121px,#0000cc 127px,#0000c2 138px,#000098 142px,#0000cc 148px,#0000d4 187px,#0b00fc 192px,#0000cc 199px,#0000b8 210px,#0000bc 230px,#0000b0 234px,#00009e 238px,#00008a 243px,#000076 246px,#0000a0 252px,#00008c 259px,#00006a 262px,#0000a0 269px,#0000aa 280px,#0000ce 284px,#000062 289px,#000082 293px,#0000a0 299px,#00009c 315px,#0000ba 326px,#0000a0 336px,#0000d4 342px,#00009e 349px,#000090 356px,#0000b0 375px,#0000b8 379px,#0000a0 387px,#0000ac 419px,#0000c2 423px,#0000a0 429px,#0000c6 436px,#000076 440px,#0000ae 448px,#0000d6 452px,#0000a0 458px,#0000ae 466px,#0000c6 470px,#000078 482px,#0000a0 489px,#0000a6 521px,#0000ce 529px,#0000dc 532px,#0000a2 537px,#0000a6 656px,#0000de 661px,#000086 666px,#0000a0 676px,#00008e 685px,#0000b2 695px,#0000da 699px,#0000a2 708px,#0000b2 713px,#0000de 717px,#0000a2 723px,#0000a6 756px,#000094 819px,#00006e 823px,#00009e 829px,#0000a6 874px,#0000d8 879px,#0000a2 884px,#0000aa 919px,#0000e2 924px,#0000c2 927px,#000078 931px,#00006a 935px,#00003e 938px,#000098 944px,#000082 952px,#000098 957px,#00007c 962px,#00009c 968px,#0000a6 976px,#0000e0 981px,#0000c0 986px,#0000a0 994px,#0000aa 1017px,#0000a6 1028px,#0000de 1033px,#0000be 1040px,#0000a0 1045px,#00008e 1052px,#00008a 1056px,#0000a0 1067px,#0000aa 1108px,#0000b8 1112px,#000088 1121px,#0000a0 1133px,#0000ae 1146px,#0000ce 1150px,#0000c2 1154px,#0000d4 1157px,#000098 1162px,#000098 1187px,#000078 1192px,#0000a0 1198px,#0000aa 1227px,#0000c6 1231px,#0000a0 1238px,#0000a0 1258px,#0000a6 1261px,#0000be 1264px,#0000a0 1271px,#0000a6 1337px,#0000c2 1341px,#000098 1351px,#000094 1381px,#000068 1385px,#0000a0 1392px,#0000ac 1441px,#0000c0 1447px,#0000a0 1453px,#0000b0 1464px,#0000d4 1468px,#0000a2 1473px,#0000b0 1480px,#000098 1486px,#000094 1510px,#00008a 1514px,#0000dc 1520px,#0000a2 1526px,#0000b0 1535px,#0000a4 1546px,#0000d0 1551px,#00009e 1556px,#0000b8 1563px,#0000a0 1570px,#0000a6 1585px,#0000a6 1620px,#0000ce 1625px,#0000a2 1630px,#0000a6 1652px,#0000c2 1656px,#0000a0 1664px,#0000a0 1674px)"></i>
<i style="background:linear-gradient(90deg,#00009c 0px,#0000a8 8px,#0000a4 23px,#0000c6 28px,#0000b4 34px,#0000b6 38px,#0000a4 56px,#000096 72px,#0000a4 89px,#000096 102px,#0000ae 112px,#0000bc 118px,#0000bc 122px,#0000a4 131px,#000092 140px,#00009a 145px,#0000ae 188px,#0000c2 193px,#0000a4 200px,#00009a 229px,#000082 243px,#000082 248px,#000082 259px,#000078 264px,#00008c 271px,#00009e 285px,#00006a 290px,#00008c 299px,#000096 322px,#000092 338px,#0000a6 343px,#000082 355px,#000096 380px,#000094 419px,#000096 425px,#00009a 433px,#00009a 437px,#000074 441px,#0000aa 452px,#00008c 462px,#00009e 471px,#00007c 483px,#00008c 495px,#00009a 523px,#0000ae 532px,#00008c 539px,#000094 657px,#0000aa 662px,#000082 667px,#00008e 692px,#0000a8 701px,#00008e 710px,#0000ae 717px,#00008c 725px,#000088 819px,#000074 824px,#00008c 832px,#000096 875px,#0000aa 879px,#00008c 887px,#000094 919px,#0000ae 925px,#000078 932px,#00005c 939px,#00008c 945px,#000086 954px,#00007e 963px,#00009e 978px,#0000aa 982px,#00008c 1000px,#000096 1029px,#0000ae 1034px,#00007e 1055px,#00008c 1083px,#00009a 1110px,#000086 1123px,#00009a 1147px,#0000a4 1158px,#00008c 1164px,#000082 1189px,#000082 1194px,#000096 1228px,#00009a 1233px,#000090 1253px,#000090 1261px,#00009a 1265px,#00008c 1293px,#000096 1338px,#000094 1344px,#000082 1382px,#000074 1386px,#00008c 1394px,#000096 1443px,#000094 1449px,#000096 1464px,#0000a4 1469px,#000090 1475px,#000088 1515px,#0000aa 1521px,#00008e 1528px,#00008e 1538px,#0000a0 1549px,#00009a 1553px,#000090 1558px,#000090 1566px,#000096 1621px,#0000a0 1626px,#00008c 1638px,#00009a 1654px,#00008c 1674px)"></i>
<i style="background:linear-gradient(90deg,#000086 0px,#00008e 24px,#00008a 106px,#000090 123px,#000088 146px,#000094 190px,#000076 244px,#000074 261px,#000080 286px,#000074 292px,#000080 348px,#000080 447px,#000080 458px,#00007a 479px,#000084 534px,#00008a 659px,#00007a 683px,#000086 703px,#000084 720px,#00007e 871px,#000086 881px,#00008a 922px,#00006e 940px,#000078 950px,#000086 987px,#000084 1041px,#000084 1147px,#00007e 1213px,#00007c 1381px,#00007c 1389px,#000080 1481px,#000084 1517px,#00007e 1674px)"></i>
<i style="background:linear-gradient(90deg,#000078 0px,#000078 1466px,#000076 1674px)"></i>
<i style="background:linear-gradient(90deg,#00006e 0px,#00006e 1674px)"></i>
<i style="background:linear-gradient(90deg,#00006a 0px,#00006a 1674px)"></i>
<i style="background:linear-gradient(90deg,#000068 0px,#000068 1674px)"></i>
<i style="background:linear-gradient(90deg,#000064 0px,#000064 1674px)"></i>
<i style="background:linear-gradient(90deg,#000062 0px,#000066 1674px)"></i>
<i style="background:linear-gradient(90deg,#000060 0px,#00005c 87px,#00005a 114px,#00005e 311px,#000062 322px,#00005a 367px,#00005a 396px,#00005a 715px,#000056 730px,#000058 769px,#00005c 871px,#00005c 905px,#00006a 976px,#000060 1063px,#000058 1327px,#000052 1394px,#00005e 1443px,#00005e 1458px,#000060 1653px,#00006a 1674px)"></i>
<i style="background:linear-gradient(90deg,#00005c 0px,#000044 11px,#000042 18px,#00005c 31px,#000042 54px,#00004c 75px,#00003c 82px,#00005c 94px,#00006a 111px,#00003c 119px,#00005c 133px,#000050 209px,#00004a 217px,#00005c 239px,#000050 262px,#000038 270px,#00005c 281px,#000060 312px,#000080 318px,#000060 326px,#00005e 353px,#000036 361px,#00005c 374px,#000048 384px,#00002e 391px,#00005c 401px,#000066 479px,#00006c 487px,#000050 503px,#000056 519px,#000050 553px,#000040 561px,#000070 580px,#00005c 600px,#000042 618px,#000060 633px,#000064 664px,#000052 715px,#000026 724px,#00005c 739px,#00005c 766px,#00002c 775px,#000052 784px,#000052 795px,#000066 835px,#00006c 844px,#000050 857px,#00004e 874px,#000046 893px,#000038 900px,#00005c 910px,#00005c 936px,#000082 967px,#00005c 996px,#000050 1034px,#000064 1073px,#00005a 1191px,#00006a 1221px,#00005c 1312px,#00004c 1326px,#00002e 1333px,#000056 1343px,#000046 1353px,#00005a 1365px,#000050 1390px,#000032 1397px,#00005c 1408px,#000058 1442px,#000038 1453px,#00006e 1463px,#000054 1474px,#000052 1567px,#000046 1581px,#00005c 1598px,#00005c 1641px,#000046 1649px,#000070 1659px,#000074 1674px)"></i>
<i style="background:linear-gradient(90deg,#000058 0px,#000040 9px,#000014 15px,#000056 25px,#000048 42px,#000022 50px,#000038 64px,#000042 74px,#000014 81px,#000058 91px,#00006e 105px,#00007a 110px,#000018 118px,#000058 129px,#00004a 156px,#00004e 165px,#00004e 207px,#000026 214px,#000056 226px,#00004e 260px,#00000e 268px,#000056 278px,#00005a 311px,#0000b4 316px,#0000a2 319px,#00006c 323px,#00006e 351px,#000010 361px,#000056 371px,#000048 382px,#000006 388px,#00001a 393px,#000052 399px,#000064 477px,#000084 485px,#00003c 500px,#00003c 510px,#00003e 516px,#000058 529px,#00004e 551px,#000018 559px,#000084 577px,#000058 592px,#00004e 608px,#00001c 616px,#000058 626px,#000060 643px,#000068 654px,#000076 661px,#000058 673px,#00004e 714px,#000002 722px,#000010 728px,#000054 736px,#000060 765px,#000004 773px,#000010 777px,#000048 783px,#000032 792px,#000058 803px,#00005c 832px,#000084 842px,#00003c 855px,#000056 867px,#000040 877px,#000042 890px,#00000a 898px,#000056 907px,#000054 925px,#00004a 933px,#000082 943px,#00009c 967px,#00005c 988px,#000052 1010px,#000046 1018px,#000052 1030px,#000038 1039px,#000058 1051px,#00006c 1064px,#00006c 1072px,#000058 1092px,#00004e 1178px,#00004e 1188px,#00006a 1219px,#00007c 1226px,#000058 1238px,#000052 1323px,#000004 1332px,#00002a 1337px,#00004a 1343px,#000026 1352px,#000056 1362px,#000046 1377px,#000052 1388px,#000008 1395px,#00001c 1399px,#000052 1405px,#00006a 1426px,#000046 1444px,#00000e 1451px,#000038 1456px,#00007a 1462px,#000044 1472px,#000058 1492px,#000050 1565px,#000026 1575px,#00003c 1583px,#00005c 1594px,#000064 1640px,#000030 1648px,#000082 1657px,#000086 1674px)"></i>
<i style="background:linear-gradient(90deg,#000056 0px,#000040 8px,#000000 15px,#000050 24px,#000048 41px,#000010 50px,#00002e 63px,#000040 73px,#000000 81px,#000052 90px,#00006a 104px,#000080 110px,#000006 118px,#000054 129px,#000048 155px,#000040 163px,#000056 176px,#000048 207px,#000018 214px,#000054 224px,#00004a 260px,#000000 267px,#000010 271px,#000050 277px,#00005a 310px,#0000a8 313px,#0500ee 315px,#0b00f6 318px,#0000c6 320px,#000082 323px,#000082 333px,#000090 348px,#000060 354px,#000004 360px,#000018 364px,#000050 370px,#000048 381px,#000000 387px,#000008 393px,#000050 399px,#000060 476px,#00008a 485px,#000034 499px,#00003c 508px,#00002e 515px,#000056 525px,#000048 551px,#000008 559px,#00005c 570px,#00008e 579px,#000058 589px,#000048 608px,#00000a 615px,#000052 625px,#000062 641px,#000064 653px,#00007e 660px,#000056 672px,#00004c 713px,#000000 720px,#00000a 729px,#00004c 735px,#000064 764px,#000024 769px,#000000 771px,#00000e 778px,#000040 783px,#000020 791px,#000054 801px,#000058 832px,#000090 841px,#000034 854px,#000050 868px,#000038 877px,#00003c 890px,#000000 896px,#000006 900px,#000050 906px,#000060 924px,#00004e 932px,#0000a0 943px,#0000c4 965px,#000060 984px,#000054 1008px,#00003c 1017px,#000052 1029px,#00002e 1039px,#000056 1049px,#000068 1063px,#000078 1070px,#000056 1081px,#00004c 1177px,#000042 1186px,#000056 1206px,#00006c 1219px,#000086 1225px,#000056 1237px,#00004e 1323px,#000000 1330px,#00000e 1336px,#000044 1341px,#000020 1348px,#000020 1353px,#000054 1361px,#00003c 1376px,#00004e 1388px,#000000 1394px,#00000a 1399px,#000050 1405px,#00006a 1426px,#000040 1444px,#000000 1450px,#00000c 1454px,#00007a 1461px,#000070 1465px,#00003c 1471px,#000056 1488px,#00004c 1565px,#000018 1574px,#00002c 1582px,#000058 1590px,#00007a 1635px,#000060 1642px,#000030 1647px,#000062 1652px,#00009a 1657px,#00009e 1674px)"></i>
<i style="background:linear-gradient(90deg,#000054 0px,#00003a 9px,#00000e 15px,#000050 24px,#000048 41px,#00001c 50px,#000042 73px,#00000e 81px,#000050 90px,#00006a 105px,#000074 110px,#000012 118px,#000054 130px,#000044 156px,#000046 164px,#000054 202px,#000024 215px,#000050 225px,#00004c 260px,#00000c 268px,#000058 279px,#00006c 309px,#000090 311px,#0000e8 313px,#4200ff 315px,#6000ff 317px,#0a00fc 320px,#0000a6 323px,#000096 328px,#0000ba 346px,#000088 353px,#00001e 360px,#000032 365px,#000054 373px,#00003a 383px,#000002 388px,#000008 392px,#00004c 399px,#00005e 477px,#00007e 485px,#000038 500px,#00003a 509px,#00003a 516px,#000054 529px,#000048 551px,#000014 559px,#000082 578px,#000054 591px,#000042 609px,#000016 616px,#000052 626px,#00005a 643px,#000062 654px,#000070 661px,#000054 675px,#000048 714px,#000000 722px,#000008 728px,#000050 736px,#00005a 765px,#000000 773px,#00001a 778px,#000042 783px,#00002c 792px,#000054 803px,#000056 832px,#000082 841px,#000038 855px,#000050 867px,#00003e 878px,#00003c 891px,#00000a 898px,#00005e 907px,#000070 926px,#000078 933px,#0000c0 943px,#0000e8 964px,#000066 982px,#000048 1011px,#000048 1020px,#000046 1032px,#000036 1040px,#000054 1052px,#000070 1070px,#000054 1084px,#000048 1178px,#000048 1188px,#000064 1219px,#000074 1227px,#000054 1237px,#000048 1324px,#000000 1332px,#000026 1337px,#000046 1342px,#000022 1352px,#000050 1361px,#00003e 1376px,#00004c 1388px,#000004 1395px,#000024 1400px,#000050 1406px,#000062 1427px,#000042 1444px,#000008 1451px,#000042 1457px,#000074 1462px,#00003e 1472px,#000054 1491px,#000048 1566px,#000024 1575px,#00003c 1583px,#00005e 1592px,#000086 1640px,#000056 1648px,#0000ae 1657px,#0000b8 1674px)"></i>
<i style="background:linear-gradient(90deg,#000050 0px,#000038 11px,#000038 18px,#000050 30px,#00003c 45px,#000042 75px,#000032 83px,#000050 93px,#00005e 111px,#000030 119px,#000050 133px,#000044 209px,#000042 218px,#000054 254px,#00003c 265px,#00003e 271px,#000068 285px,#000092 309px,#0000c0 311px,#0000ec 312px,#4f00ff 314px,#970af5 316px,#9a0cf3 317px,#5f00ff 319px,#0c00ff 321px,#0000c4 324px,#0000e8 345px,#0000a4 353px,#000042 361px,#00004c 381px,#000022 390px,#000050 402px,#00005c 479px,#00005e 488px,#000046 503px,#000046 517px,#000046 553px,#000036 561px,#000066 580px,#000050 602px,#000038 618px,#000056 633px,#00005a 664px,#000046 715px,#00001c 725px,#000050 738px,#000050 766px,#000022 775px,#000048 784px,#000042 794px,#00004e 823px,#000066 843px,#000046 857px,#000048 893px,#000044 900px,#00007a 910px,#0000b2 934px,#0000ee 948px,#0400f8 966px,#00006c 983px,#000046 1017px,#000046 1034px,#00005a 1073px,#000050 1208px,#00005e 1228px,#000052 1269px,#000046 1325px,#000022 1333px,#00004a 1343px,#00003a 1353px,#00004e 1365px,#000046 1390px,#000028 1397px,#000050 1408px,#000050 1441px,#00002e 1453px,#000064 1463px,#000046 1473px,#000050 1567px,#000044 1579px,#00006c 1597px,#0000a0 1641px,#000090 1649px,#0000c2 1659px,#0000c6 1674px)"></i>
<i style="background:linear-gradient(90deg,#000050 0px,#000050 93px,#00004a 115px,#000052 237px,#000064 273px,#0000c2 309px,#1000ff 312px,#8c03fc 315px,#a614eb 317px,#7300ff 319px,#0f00ff 322px,#0000f2 328px,#0900ff 345px,#0000dc 350px,#000060 361px,#000046 394px,#00004c 497px,#000050 571px,#000048 717px,#00004c 735px,#000046 770px,#00005c 882px,#00007a 902px,#0b00f8 939px,#4900ff 960px,#1800ff 968px,#0000f2 971px,#00007a 981px,#000050 995px,#000048 1327px,#000044 1393px,#000058 1548px,#000072 1586px,#0000b6 1644px,#0000c6 1674px)"></i>
<i style="background:linear-gradient(90deg,#00004c 0px,#00005a 242px,#00009c 282px,#0000f2 309px,#2300ff 312px,#8a04fb 316px,#7f00ff 318px,#1800ff 323px,#0f00ff 345px,#0000ea 349px,#00006c 360px,#00004e 375px,#000056 862px,#00009a 899px,#0b00f0 921px,#6605fa 934px,#b01ae5 946px,#8d04fb 957px,#0500f2 969px,#000076 978px,#00004e 991px,#000056 1531px,#0000a8 1606px,#0000c2 1650px,#0000b2 1674px)"></i>
<i style="background:linear-gradient(90deg,#00004c 0px,#00005a 226px,#0000a4 269px,#0700ff 305px,#2900ff 312px,#6000ff 316px,#3f00ff 320px,#1a00ff 325px,#0000f4 346px,#00006a 360px,#00004c 377px,#000058 851px,#00009e 887px,#0a00ec 905px,#4c00ff 912px,#ba2dd2 920px,#f85ca3 932px,#f144bb 944px,#5a00ff 956px,#1200f0 962px,#00008a 971px,#000052 982px,#000058 1513px,#0000c4 1623px,#000098 1674px)"></i>
<i style="background:linear-gradient(90deg,#00004c 0px,#00005a 209px,#0000a4 252px,#0700ff 288px,#2800ff 313px,#2900ff 319px,#0500fe 330px,#0000ce 346px,#000060 360px,#00004c 387px,#000058 839px,#0000a2 875px,#0e00ee 892px,#5200ff 899px,#d43ec1 907px,#ff837c 912px,#ffb847 920px,#ffa05f 929px,#f04cb3 937px,#7008f7 945px,#2400f8 950px,#0000be 957px,#00005a 975px,#00004c 1044px,#000056 1496px,#0000c4 1601px,#000096 1654px,#00007a 1674px)"></i>
<i style="background:linear-gradient(90deg,#00004c 0px,#00005a 193px,#0000a0 234px,#0e00ea 253px,#1d00fc 263px,#1000ff 278px,#0a00ff 310px,#0000ce 333px,#000088 350px,#000050 364px,#000058 829px,#0000b0 866px,#0b00ee 879px,#4f00ff 886px,#e141be 896px,#ff6c93 902px,#ffb04f 916px,#ff8f70 924px,#ef619e 928px,#9f1de2 933px,#3e00ff 937px,#0000c8 944px,#000082 954px,#00004c 985px,#000056 1490px,#0000c2 1575px,#0000a8 1621px,#000064 1674px)"></i>
<i style="background:linear-gradient(90deg,#00004c 0px,#000058 173px,#00009a 215px,#0800f2 242px,#3c00ff 246px,#ba29d6 251px,#e75ea1 257px,#d43cc3 263px,#860bf4 267px,#2e00ff 272px,#1400ff 284px,#0000e8 307px,#000050 363px,#000056 823px,#0000da 863px,#2800ff 872px,#a615ea 881px,#f84eb1 888px,#ff6996 900px,#e74eb1 909px,#921fe0 919px,#3c00f4 925px,#0000c6 932px,#000084 941px,#00004c 980px,#000056 1486px,#000094 1511px,#0000c4 1565px,#000086 1625px,#000058 1674px)"></i>
<i style="background:linear-gradient(90deg,#00004c 0px,#000058 159px,#0000a8 203px,#0a00ff 237px,#3900ff 241px,#8f0bf4 244px,#e039c6 246px,#ff837c 249px,#ffc03f 254px,#ffb946 260px,#ff649b 265px,#fb4ab5 266px,#8401fe 269px,#2500ff 273px,#0500fc 281px,#000068 343px,#00004c 376px,#000056 820px,#0a00f8 858px,#6200ff 868px,#d834cb 881px,#d935ca 890px,#7b10ef 901px,#3400fa 907px,#0000c8 916px,#000082 928px,#000052 964px,#000058 1484px,#0000a6 1505px,#0000c2 1549px,#000056 1660px,#000050 1674px)"></i>
<i style="background:linear-gradient(90deg,#00004c 0px,#000056 152px,#0700ff 221px,#2500ff 238px,#6300ff 242px,#be23dc 245px,#f250af 247px,#ff9b64 252px,#ff9768 258px,#ef5da2 262px,#ae1de2 265px,#3100ff 269px,#0200f2 273px,#000076 317px,#00004c 373px,#000058 818px,#0000aa 831px,#0700fc 849px,#7301fe 871px,#5700ff 882px,#1500ea 893px,#0000ac 904px,#000066 928px,#00004c 989px,#000058 1482px,#0000bc 1503px,#0000b6 1549px,#000058 1632px,#00004e 1674px)"></i>
<i style="background:linear-gradient(90deg,#00004c 0px,#000056 148px,#0000c6 180px,#0a00ff 206px,#2000ff 242px,#8115ea 253px,#6009f6 258px,#2000f2 263px,#0000d2 268px,#00007c 297px,#000050 345px,#000058 816px,#0000a0 827px,#0000f6 837px,#1b00ff 864px,#0000cc 882px,#00006e 910px,#00004c 961px,#000058 1481px,#0000c4 1502px,#000090 1557px,#000052 1625px,#00004c 1674px)"></i>
<i style="background:linear-gradient(90deg,#00004c 0px,#000056 145px,#000098 157px,#0000d8 169px,#0f00ff 193px,#0d00ff 223px,#0000c8 254px,#00006e 288px,#00004c 349px,#000058 815px,#00009a 825px,#0100ff 836px,#0000e0 860px,#00006a 899px,#00004c 954px,#000058 1481px,#0000bc 1502px,#000056 1595px,#00004c 1674px)"></i>
<i style="background:linear-gradient(90deg,#00004c 0px,#000058 144px,#0000a6 155px,#0200f8 165px,#1400ff 200px,#0000ea 221px,#00006c 274px,#00004e 319px,#000052 811px,#000084 822px,#0000ea 836px,#0000c2 855px,#00005c 896px,#00004a 1028px,#000050 1478px,#0000a6 1502px,#000060 1557px,#00004a 1631px,#00004c 1674px)"></i>
<i style="background:linear-gradient(90deg,#00004c 0px,#000040 60px,#000052 143px,#0000b0 154px,#0400fe 161px,#1700ff 180px,#0000e8 207px,#000082 234px,#000044 301px,#000040 310px,#000040 355px,#00003c 373px,#000056 409px,#00003c 442px,#00004c 466px,#000058 503px,#00004c 588px,#00003e 625px,#00004c 667px,#000046 706px,#000040 768px,#00003c 777px,#000048 795px,#000068 818px,#00009c 829px,#0000b8 848px,#000084 865px,#000084 874px,#00005a 886px,#000048 908px,#000042 1053px,#000038 1061px,#000058 1089px,#000046 1327px,#000046 1347px,#000040 1454px,#000066 1488px,#00008a 1504px,#000062 1520px,#00005c 1528px,#00004c 1545px,#000046 1553px,#000054 1580px,#00003a 1595px,#00004c 1616px,#000042 1630px,#000040 1643px,#00004c 1674px)"></i>
<i style="background:linear-gradient(90deg,#00004c 0px,#000042 57px,#00001e 65px,#00004c 76px,#000042 135px,#000040 142px,#0000d0 156px,#0700ff 161px,#0a00ff 170px,#0000e0 193px,#00008a 217px,#000050 225px,#000040 239px,#000060 249px,#000060 274px,#00006a 281px,#000038 301px,#000018 307px,#00004c 318px,#000042 352px,#000026 360px,#000044 368px,#00001c 377px,#00005a 388px,#00005a 402px,#000064 409px,#000046 420px,#00003e 432px,#000014 439px,#00004c 450px,#000056 500px,#000072 508px,#000050 518px,#00005a 529px,#00003e 583px,#00004a 618px,#000022 629px,#000050 641px,#000042 694px,#000026 702px,#00004c 713px,#000044 765px,#000012 773px,#00004c 784px,#000044 804px,#000080 825px,#00004a 834px,#00007a 841px,#00009e 847px,#00006c 862px,#0000a0 872px,#000054 883px,#000036 900px,#000032 906px,#000056 918px,#000042 1021px,#000042 1051px,#00000e 1059px,#00004c 1069px,#000064 1084px,#00005c 1092px,#00004c 1116px,#00004a 1325px,#000022 1332px,#000034 1345px,#00004c 1359px,#000048 1388px,#000044 1450px,#000022 1459px,#00004c 1469px,#000070 1507px,#00005c 1517px,#000024 1523px,#00004c 1533px,#000040 1543px,#000014 1550px,#00004e 1560px,#00005e 1578px,#000022 1589px,#000014 1594px,#00004c 1603px,#00003c 1620px,#000022 1627px,#000048 1637px,#000020 1648px,#00004c 1659px,#00004c 1674px)"></i>
<i style="background:linear-gradient(90deg,#00004c 0px,#000044 22px,#000044 56px,#000004 64px,#00004c 75px,#000040 134px,#00002c 141px,#0000f2 161px,#0000ec 168px,#000068 216px,#000016 223px,#000018 232px,#00000e 238px,#000052 247px,#000058 272px,#00007a 280px,#00004c 292px,#000034 300px,#000000 306px,#000022 311px,#00004c 318px,#000040 351px,#00000c 359px,#000040 368px,#000002 376px,#000038 382px,#000062 389px,#000058 400px,#000076 408px,#000040 418px,#00003e 431px,#000000 438px,#00000c 442px,#000046 448px,#000058 499px,#00008a 507px,#000052 516px,#00006a 527px,#00004c 539px,#00003e 569px,#00002e 580px,#00004c 596px,#000042 620px,#000008 628px,#00004c 638px,#000054 652px,#000040 693px,#000010 701px,#00004c 712px,#000040 765px,#000000 771px,#000008 776px,#000044 782px,#000040 795px,#00003a 803px,#000060 814px,#000076 824px,#00000a 831px,#000010 838px,#000084 845px,#000078 851px,#00005e 861px,#00008c 867px,#0000be 872px,#000058 881px,#000036 898px,#00001a 904px,#00005c 916px,#00004c 956px,#000040 1019px,#000042 1034px,#000040 1050px,#000000 1057px,#000010 1062px,#000048 1068px,#000064 1082px,#000078 1089px,#00004c 1100px,#000058 1148px,#00004c 1205px,#000050 1324px,#00000a 1331px,#000014 1340px,#00004c 1353px,#000040 1377px,#000044 1387px,#000040 1450px,#000008 1458px,#00004c 1468px,#000062 1514px,#000030 1519px,#000002 1523px,#000024 1528px,#000042 1534px,#000030 1543px,#000000 1548px,#000010 1553px,#000048 1559px,#00006a 1573px,#00005c 1580px,#000018 1588px,#000000 1592px,#00000e 1596px,#000048 1602px,#000040 1618px,#000008 1626px,#000048 1636px,#00001c 1643px,#000008 1648px,#000048 1656px,#00004c 1674px)"></i>
<i style="background:linear-gradient(90deg,#00004c 0px,#000044 22px,#000044 56px,#000004 64px,#00004c 75px,#000040 134px,#000030 142px,#0000c6 160px,#0000bc 168px,#0000a2 178px,#000050 216px,#000002 224px,#00000a 232px,#000004 238px,#00004c 247px,#000058 272px,#00007a 280px,#00004c 291px,#000034 300px,#000000 306px,#000022 311px,#00004c 318px,#000040 351px,#00000c 359px,#000040 368px,#000002 376px,#000038 382px,#000062 389px,#000058 400px,#000076 408px,#000040 418px,#00003e 431px,#000000 438px,#00000c 442px,#000046 448px,#000058 499px,#00008a 507px,#000052 516px,#00006a 527px,#00004c 539px,#00003e 569px,#00002e 580px,#00004c 596px,#000042 620px,#000008 628px,#00004c 638px,#000054 652px,#000040 693px,#000010 701px,#00004c 712px,#000040 765px,#000000 771px,#000008 776px,#000044 782px,#000040 795px,#00003a 803px,#00005e 813px,#000068 824px,#000000 830px,#000008 839px,#000070 845px,#00006c 851px,#000056 862px,#000096 868px,#0000ba 872px,#000054 881px,#00003e 897px,#000018 904px,#00005c 916px,#00004c 956px,#000040 1019px,#000042 1034px,#000040 1050px,#000000 1057px,#000010 1062px,#000048 1068px,#000064 1082px,#000078 1089px,#00004c 1100px,#000058 1148px,#00004c 1205px,#000050 1324px,#00000a 1331px,#000014 1340px,#00004c 1353px,#000040 1377px,#000044 1387px,#000040 1450px,#000008 1458px,#00004c 1468px,#000058 1515px,#000000 1523px,#000016 1527px,#000040 1533px,#000036 1542px,#000000 1548px,#000010 1553px,#000048 1559px,#00006a 1573px,#00005a 1580px,#000018 1588px,#000000 1592px,#00000e 1596px,#000048 1602px,#000040 1618px,#000008 1626px,#000048 1636px,#00001c 1643px,#000008 1648px,#000048 1656px,#00004c 1674px)"></i>
<i style="background:linear-gradient(90deg,#00004c 0px,#000042 57px,#00001e 65px,#00004c 76px,#000042 135px,#00003c 142px,#00009e 161px,#000064 195px,#000044 217px,#000018 224px,#000026 240px,#00004c 249px,#00005a 274px,#000064 282px,#000036 301px,#000018 307px,#00004c 318px,#000042 352px,#000026 360px,#000044 368px,#00001c 377px,#00005a 388px,#00005a 402px,#000064 409px,#000046 420px,#00003e 432px,#000014 439px,#00004c 450px,#000056 500px,#000072 508px,#000050 518px,#00005a 529px,#00003e 583px,#00004a 618px,#000022 629px,#000050 641px,#000042 694px,#000026 702px,#00004c 713px,#000044 765px,#000012 773px,#00004c 784px,#000044 804px,#00005c 824px,#000006 832px,#00000e 838px,#000064 846px,#000056 863px,#000094 872px,#000050 882px,#00003a 899px,#000030 906px,#000056 917px,#000042 1021px,#000042 1051px,#00000e 1059px,#00004c 1069px,#000064 1084px,#00005c 1092px,#00004c 1116px,#00004a 1325px,#000022 1332px,#000034 1345px,#00004c 1359px,#000048 1388px,#000044 1450px,#000022 1459px,#00004c 1469px,#000050 1516px,#000014 1524px,#000042 1533px,#000038 1543px,#000012 1550px,#00004c 1560px,#00005c 1578px,#000022 1589px,#000014 1594px,#00004c 1603px,#00003c 1620px,#000022 1627px,#000048 1637px,#000020 1648px,#00004c 1659px,#00004c 1674px)"></i>
<i style="background:linear-gradient(90deg,#00004c 0px,#000040 60px,#000050 145px,#000078 165px,#00003c 229px,#000046 243px,#00004e 287px,#00003c 310px,#00004c 334px,#000042 363px,#000042 381px,#000056 410px,#00003a 436px,#00004c 472px,#000058 503px,#00004c 588px,#00003e 625px,#00004c 667px,#000046 706px,#000040 768px,#00003c 777px,#000048 795px,#00004c 826px,#00002a 835px,#000056 850px,#000058 866px,#000062 875px,#00004c 890px,#000048 909px,#000042 1053px,#000038 1061px,#000058 1089px,#000046 1327px,#000046 1347px,#000040 1454px,#000046 1518px,#00003c 1527px,#00003c 1545px,#00003c 1553px,#000050 1581px,#000036 1595px,#00004c 1610px,#000042 1630px,#000040 1643px,#00004c 1674px)"></i>
<i style="background:linear-gradient(90deg,#00004c 0px,#000056 151px,#000052 191px,#00004c 1674px)"></i>
<i style="background:linear-gradient(90deg,#00004c 0px,#00004c 1674px)"></i>
<i style="background:linear-gradient(90deg,#000050 0px,#00004c 1674px)"></i>
<i style="background:linear-gradient(90deg,#000052 0px,#000058 292px,#000050 360px,#000058 474px,#000050 571px,#000058 666px,#000058 784px,#000056 954px,#00004e 1085px,#000058 1280px,#000056 1576px,#00004c 1674px)"></i>
<i style="background:linear-gradient(90deg,#00005e 0px,#000066 19px,#000064 30px,#000054 42px,#000060 56px,#00004e 78px,#00005a 97px,#00005a 116px,#000060 146px,#00004c 171px,#000056 249px,#000064 262px,#00004e 282px,#00006e 300px,#00004c 317px,#00005c 341px,#00006e 352px,#00004c 369px,#000056 448px,#000056 467px,#000072 484px,#000056 503px,#000060 523px,#00004e 545px,#000072 562px,#00004c 581px,#000056 661px,#000078 674px,#000056 694px,#00004e 715px,#000056 770px,#000072 803px,#00004c 825px,#000056 855px,#000056 918px,#000052 934px,#00005c 951px,#000064 963px,#00004c 984px,#000056 1017px,#000056 1036px,#00006e 1049px,#000052 1064px,#00005a 1080px,#00004c 1142px,#000050 1187px,#000056 1275px,#000070 1288px,#00004c 1306px,#000058 1491px,#00005a 1505px,#00004c 1565px,#00006a 1584px,#000052 1602px,#00004c 1674px)"></i>
<i style="background:linear-gradient(90deg,#00006c 0px,#00006c 16px,#000090 25px,#000054 39px,#00007a 54px,#00004c 69px,#000068 87px,#000066 97px,#000052 110px,#000076 125px,#000078 136px,#000076 145px,#00004c 159px,#000058 196px,#000056 247px,#000082 259px,#00004c 275px,#000064 288px,#000092 297px,#00004c 314px,#00005a 338px,#000090 349px,#00004c 366px,#000056 431px,#000070 443px,#00004e 459px,#00007e 473px,#000090 484px,#00005e 498px,#000076 515px,#000072 523px,#00004c 537px,#000064 551px,#000094 561px,#000050 575px,#000058 659px,#00009e 672px,#00005e 692px,#000066 706px,#00004c 726px,#00005a 768px,#00008c 792px,#000084 807px,#000050 819px,#00005a 840px,#000068 852px,#00004c 870px,#00005a 916px,#00006c 927px,#000050 944px,#000084 960px,#00004c 975px,#00005a 1002px,#000066 1014px,#000050 1031px,#000090 1047px,#000054 1061px,#00006c 1077px,#00004c 1097px,#000058 1169px,#00005a 1183px,#00004c 1238px,#00005a 1274px,#000094 1286px,#000050 1300px,#000056 1488px,#000078 1500px,#00004c 1519px,#000058 1570px,#00008a 1582px,#000054 1597px,#00004c 1674px)"></i>
<i style="background:linear-gradient(90deg,#00007c 0px,#000072 10px,#000082 17px,#0000ae 24px,#000058 37px,#000080 47px,#00008c 54px,#000050 67px,#000060 83px,#000082 93px,#000050 108px,#00008c 124px,#000080 134px,#000098 142px,#000050 155px,#000058 182px,#000066 193px,#00004c 213px,#00005c 247px,#00009a 258px,#000050 273px,#000060 286px,#0000b2 297px,#000054 311px,#000058 336px,#0000b0 349px,#000052 363px,#000058 430px,#000084 442px,#000050 456px,#000068 467px,#0000b2 479px,#00009c 487px,#000066 497px,#00007a 512px,#000090 520px,#000050 534px,#00005a 548px,#0000b4 560px,#000050 575px,#000058 658px,#0000c2 671px,#000094 681px,#000064 691px,#000078 704px,#00004c 720px,#000058 766px,#0000aa 790px,#0000a4 806px,#000054 817px,#000058 838px,#00007c 849px,#00004c 866px,#000058 914px,#00007e 926px,#000050 940px,#00006e 950px,#0000a2 958px,#000050 973px,#000058 1000px,#00007a 1012px,#00004e 1027px,#00006e 1037px,#0000b0 1045px,#000086 1052px,#000058 1060px,#000080 1076px,#00004c 1092px,#000056 1167px,#00006e 1178px,#00004c 1196px,#000056 1272px,#0000b6 1285px,#000050 1300px,#000058 1487px,#00008c 1500px,#000050 1515px,#000058 1569px,#0000a6 1581px,#00005a 1595px,#00004c 1674px)"></i>
<i style="background:linear-gradient(90deg,#000080 0px,#000080 7px,#000078 15px,#0000bc 24px,#00005c 37px,#000080 46px,#000098 53px,#000050 66px,#00005c 82px,#000088 93px,#000050 108px,#000094 124px,#000084 133px,#0000a4 142px,#000050 155px,#000058 181px,#000068 193px,#00004c 213px,#000054 234px,#000058 246px,#0000a4 258px,#000050 273px,#00005c 285px,#0000c0 296px,#00009c 302px,#000054 311px,#000058 336px,#0000bc 348px,#000098 354px,#000054 363px,#000058 430px,#00008c 441px,#000050 457px,#00006c 467px,#0000c0 479px,#0000a8 487px,#000068 496px,#000078 511px,#00009c 520px,#000050 533px,#00005c 548px,#0000c0 559px,#0000a0 565px,#000058 573px,#000054 657px,#0000a8 666px,#0000d4 672px,#000068 690px,#000080 704px,#00004c 718px,#000058 765px,#0000b8 790px,#0000b8 801px,#0000a8 807px,#000054 817px,#000058 837px,#000084 849px,#00004c 864px,#000058 913px,#000084 925px,#000050 940px,#000070 950px,#0000ac 958px,#000078 966px,#00004c 977px,#00005c 1001px,#000080 1011px,#000050 1026px,#000064 1035px,#0000bc 1045px,#000098 1051px,#00005c 1059px,#000070 1068px,#000084 1076px,#00004c 1091px,#000058 1167px,#000070 1179px,#00004c 1197px,#000058 1272px,#0000c4 1285px,#00008c 1292px,#000054 1299px,#000058 1487px,#000094 1499px,#000050 1516px,#000058 1569px,#0000b4 1581px,#00005c 1594px,#00004c 1674px)"></i>
<i style="background:linear-gradient(90deg,#00007c 0px,#000072 10px,#000082 17px,#0000ae 24px,#000058 37px,#000080 47px,#00008c 54px,#000050 67px,#000060 83px,#000082 93px,#000050 108px,#00008c 124px,#000080 134px,#000098 142px,#000050 155px,#000058 182px,#000066 193px,#00004c 213px,#00005c 247px,#00009a 258px,#000050 273px,#000060 286px,#0000b2 297px,#000054 311px,#000058 336px,#0000b0 349px,#000052 363px,#000058 430px,#000084 442px,#000050 456px,#000068 467px,#0000b2 479px,#00009c 487px,#000066 497px,#00007a 512px,#000090 520px,#000050 534px,#00005a 548px,#0000b4 560px,#000050 575px,#000058 658px,#0000c2 671px,#000094 681px,#000064 691px,#000078 704px,#00004c 720px,#000058 766px,#0000aa 790px,#0000a4 806px,#000054 817px,#000058 838px,#00007c 849px,#00004c 866px,#000058 914px,#00007e 926px,#000050 940px,#00006e 950px,#0000a2 958px,#000050 973px,#000058 1000px,#00007a 1012px,#00004e 1027px,#00006e 1037px,#0000b0 1045px,#000086 1052px,#000058 1060px,#000080 1076px,#00004c 1092px,#000056 1167px,#00006e 1178px,#00004c 1196px,#000056 1272px,#0000b6 1285px,#000050 1300px,#000058 1487px,#00008c 1500px,#000050 1515px,#000058 1569px,#0000a6 1581px,#00005a 1595px,#00004c 1674px)"></i>
<i style="background:linear-gradient(90deg,#00006c 0px,#00006c 16px,#000090 25px,#000054 39px,#00007a 54px,#00004c 69px,#000068 87px,#000066 97px,#000052 110px,#000076 125px,#000076 136px,#000076 145px,#00004c 159px,#000058 196px,#000056 247px,#000082 259px,#00004c 275px,#000068 289px,#000092 297px,#00004c 314px,#00005a 338px,#000090 349px,#00004c 366px,#000056 431px,#000070 443px,#00004e 459px,#00007e 473px,#000090 484px,#00005e 498px,#000076 515px,#000072 523px,#00004c 537px,#000064 551px,#000094 560px,#00004c 577px,#000058 659px,#00009e 672px,#00005e 692px,#000066 706px,#00004c 726px,#00005a 768px,#00008c 792px,#000084 807px,#000050 819px,#00005a 840px,#000068 852px,#00004c 870px,#00005a 916px,#00006c 927px,#000050 944px,#000084 960px,#00004c 975px,#00005a 1002px,#000066 1014px,#000050 1031px,#000090 1047px,#000054 1061px,#00006c 1077px,#00004c 1097px,#000056 1169px,#00005e 1181px,#00004c 1211px,#000056 1273px,#000094 1286px,#000050 1300px,#000056 1488px,#000078 1500px,#00004c 1518px,#000058 1570px,#00008a 1582px,#000054 1597px,#00004c 1674px)"></i>
<i style="background:linear-gradient(90deg,#00005c 0px,#000066 19px,#000066 29px,#000052 42px,#000060 56px,#00004c 78px,#00005a 97px,#000056 115px,#000060 146px,#00004c 168px,#000058 250px,#000064 261px,#00004c 282px,#00006e 300px,#00004c 317px,#00005c 341px,#00006c 352px,#00004c 370px,#000056 448px,#000058 468px,#000070 484px,#000054 504px,#000060 523px,#00004c 545px,#00006e 563px,#00004c 580px,#000056 661px,#000078 674px,#000056 695px,#000058 771px,#000070 804px,#00004c 824px,#000056 855px,#000056 918px,#000052 933px,#00005a 951px,#000064 963px,#00004c 983px,#000052 1019px,#00005c 1038px,#00006c 1049px,#000050 1063px,#000058 1080px,#000056 1173px,#000058 1276px,#00006e 1288px,#00004c 1305px,#000056 1491px,#00005c 1504px,#00004c 1544px,#00005c 1574px,#00006a 1584px,#000052 1600px,#00004c 1674px)"></i>
<i style="background:linear-gradient(90deg,#000050 0px,#00004e 34px,#000048 276px,#000050 305px,#000056 345px,#00004a 432px,#000050 492px,#000052 515px,#000052 553px,#00004a 660px,#000054 682px,#00004a 768px,#00004e 813px,#00004c 970px,#00004c 1079px,#000054 1280px,#000048 1517px,#00004e 1591px,#000048 1674px)"></i>
<i style="background:linear-gradient(90deg,#000040 0px,#000044 33px,#000034 65px,#000040 114px,#000042 187px,#000036 251px,#00003e 275px,#00003a 288px,#00003c 498px,#000028 507px,#000044 522px,#00003e 550px,#00003a 574px,#00003c 587px,#00003c 651px,#00003a 662px,#00003a 731px,#00003a 743px,#00003a 903px,#000040 974px,#000038 986px,#00003e 1074px,#00003a 1086px,#000034 1126px,#000040 1154px,#000036 1166px,#00003c 1287px,#000040 1303px,#00003a 1388px,#00003a 1519px,#000042 1593px,#000040 1674px)"></i>
<i style="background:linear-gradient(90deg,#000030 0px,#00003a 18px,#00004e 26px,#000034 40px,#000024 60px,#00000c 67px,#00002a 77px,#000020 87px,#000048 108px,#00002a 117px,#000026 128px,#00001e 136px,#00002e 146px,#00002c 157px,#00002a 175px,#00001a 183px,#000040 192px,#000026 240px,#000006 248px,#000034 261px,#000022 277px,#00000a 284px,#000034 296px,#000034 371px,#000020 382px,#000034 404px,#000040 492px,#000030 497px,#000000 502px,#000014 511px,#000034 520px,#000016 541px,#000012 547px,#00003e 555px,#000010 576px,#00000e 583px,#000036 592px,#00003e 638px,#000048 645px,#000008 657px,#000034 670px,#00002a 729px,#000006 737px,#000034 752px,#000024 790px,#00001c 798px,#000034 812px,#000020 830px,#000016 837px,#000042 849px,#000020 903px,#000010 910px,#00003e 918px,#00003a 936px,#000036 944px,#000030 953px,#000044 970px,#000008 982px,#000032 993px,#000032 1042px,#000030 1071px,#000008 1081px,#000030 1093px,#000028 1121px,#00000c 1129px,#00004e 1148px,#00000a 1162px,#000034 1176px,#000026 1203px,#00001a 1211px,#000034 1226px,#00002a 1284px,#000008 1292px,#000036 1306px,#000024 1369px,#00000a 1377px,#000026 1389px,#000034 1431px,#000024 1480px,#00002a 1489px,#000028 1516px,#00001c 1524px,#00004a 1546px,#000034 1561px,#00002a 1641px,#000030 1663px,#000034 1674px)"></i>
<i style="background:linear-gradient(90deg,#000022 0px,#00001c 10px,#00005c 26px,#00002a 36px,#00001e 58px,#000000 64px,#000010 72px,#000014 78px,#000002 86px,#000054 108px,#000014 115px,#000022 125px,#000000 133px,#000022 145px,#00000c 153px,#00002a 168px,#00000c 176px,#000004 184px,#000046 191px,#00002a 207px,#000022 238px,#000000 244px,#00000c 254px,#00002a 262px,#00001a 275px,#000000 281px,#000010 289px,#00002a 299px,#000038 331px,#000030 361px,#000030 370px,#000002 380px,#00002a 393px,#000022 421px,#000034 489px,#00003e 495px,#000000 499px,#00000c 513px,#000028 521px,#000000 548px,#000038 554px,#000000 579px,#000010 586px,#00002e 593px,#000034 636px,#000058 644px,#000000 653px,#00000c 663px,#00002a 671px,#00001e 728px,#000000 733px,#00000c 744px,#000028 752px,#00001a 787px,#000000 797px,#00002a 808px,#00001e 827px,#000000 833px,#000010 840px,#000046 849px,#00002a 865px,#000016 901px,#000000 907px,#000004 912px,#00003e 917px,#000024 933px,#000046 941px,#000014 949px,#00004a 964px,#000040 971px,#000000 978px,#000008 987px,#000028 993px,#000018 1006px,#000022 1020px,#00001e 1039px,#000034 1065px,#00000a 1074px,#00000c 1087px,#000028 1098px,#00001c 1120px,#000000 1126px,#00000a 1133px,#00005a 1148px,#000000 1158px,#000004 1167px,#000028 1174px,#00001a 1202px,#000000 1209px,#00002a 1223px,#00001e 1283px,#000000 1289px,#000004 1297px,#000030 1305px,#000018 1346px,#000016 1368px,#000000 1374px,#000008 1388px,#000028 1396px,#00001e 1464px,#000018 1472px,#00001a 1478px,#000002 1485px,#00002a 1496px,#00001a 1515px,#000000 1522px,#000058 1545px,#00002a 1556px,#00001e 1630px,#00000c 1638px,#000022 1647px,#000010 1656px,#00002a 1671px,#00002a 1674px)"></i>
<i style="background:linear-gradient(90deg,#000020 0px,#000010 8px,#00004c 20px,#00006c 25px,#00002c 34px,#000020 57px,#000000 63px,#000008 72px,#000014 77px,#000000 84px,#00000c 89px,#000044 102px,#000060 107px,#000010 115px,#00001c 125px,#000000 132px,#000008 138px,#000020 144px,#000004 153px,#000028 164px,#000018 174px,#000000 180px,#000008 185px,#000048 190px,#000028 207px,#000020 238px,#000000 242px,#000008 254px,#000028 262px,#000018 275px,#000000 279px,#000008 289px,#000028 297px,#000034 329px,#000034 338px,#000034 362px,#000030 370px,#000000 379px,#000028 394px,#00001c 420px,#000030 488px,#000048 494px,#000020 497px,#000000 499px,#000004 513px,#000028 519px,#000000 547px,#000010 550px,#00003c 554px,#000000 574px,#000008 586px,#000030 592px,#000034 636px,#000064 643px,#00002c 649px,#000000 653px,#000004 663px,#000028 669px,#000020 727px,#000000 733px,#000004 744px,#000028 750px,#00001c 785px,#000000 795px,#00000c 801px,#000028 809px,#000020 826px,#000000 832px,#00000c 840px,#00004c 848px,#000028 864px,#000018 900px,#000000 906px,#00000c 913px,#000040 917px,#000020 933px,#00004c 941px,#00000c 949px,#00004c 961px,#00004c 970px,#000000 977px,#00000c 988px,#000024 994px,#000010 1005px,#00001c 1019px,#00001c 1029px,#000014 1037px,#000038 1064px,#000010 1073px,#000000 1077px,#000004 1087px,#000028 1097px,#000020 1119px,#000000 1125px,#00000c 1134px,#000064 1148px,#000028 1154px,#000000 1158px,#000008 1168px,#000028 1176px,#00001c 1201px,#000000 1206px,#00000c 1214px,#000028 1223px,#00001c 1283px,#000000 1287px,#000008 1298px,#000034 1306px,#00001c 1343px,#00001c 1354px,#000018 1367px,#000000 1373px,#00000c 1389px,#000028 1398px,#00001c 1464px,#00000c 1471px,#00001c 1477px,#000000 1484px,#000028 1497px,#00001c 1514px,#000000 1521px,#000010 1527px,#000064 1544px,#000028 1555px,#00001c 1630px,#000000 1637px,#000020 1646px,#000004 1655px,#000028 1667px,#000028 1674px)"></i>
<i style="background:linear-gradient(90deg,#000022 0px,#00001c 10px,#00005c 26px,#00002a 35px,#00001c 58px,#000000 65px,#000010 72px,#000014 78px,#000000 86px,#00002c 97px,#000054 108px,#000014 115px,#000022 125px,#000000 133px,#000022 145px,#00000c 153px,#00002a 168px,#00000c 176px,#000004 184px,#000046 191px,#00002a 207px,#000022 238px,#000000 244px,#00000c 254px,#00002a 262px,#00001a 275px,#000000 281px,#000010 289px,#00002a 299px,#000038 331px,#000030 361px,#000030 370px,#000002 380px,#00002a 393px,#000022 421px,#000034 489px,#00003e 495px,#000000 499px,#00000c 513px,#000028 521px,#000000 548px,#00003a 555px,#000000 578px,#000010 586px,#00002e 593px,#000034 636px,#000058 644px,#000000 653px,#00000c 663px,#000028 671px,#00001e 728px,#000000 733px,#00000c 744px,#000028 752px,#000018 788px,#000000 797px,#000028 809px,#00001e 827px,#000000 833px,#000010 840px,#000046 849px,#00002a 865px,#000016 901px,#000000 907px,#000004 912px,#00003e 917px,#000024 933px,#000046 941px,#000014 949px,#00004a 964px,#000040 971px,#000000 978px,#000008 987px,#000028 993px,#000018 1006px,#000022 1020px,#00001e 1039px,#000034 1065px,#00000a 1074px,#00000c 1087px,#000028 1098px,#00001c 1120px,#000000 1126px,#00000a 1133px,#00005a 1148px,#000000 1158px,#000004 1167px,#000028 1174px,#00001a 1202px,#000000 1209px,#00002a 1223px,#00001e 1283px,#000000 1289px,#000004 1297px,#000030 1305px,#000018 1346px,#000016 1368px,#000000 1374px,#000008 1388px,#000028 1396px,#00001e 1464px,#000018 1472px,#00001a 1478px,#000002 1485px,#000028 1496px,#00001a 1515px,#000000 1522px,#000058 1545px,#00002a 1556px,#00001e 1630px,#00000c 1638px,#000022 1647px,#000010 1656px,#00002a 1671px,#00002a 1674px)"></i>
<i style="background:linear-gradient(90deg,#000030 0px,#000034 15px,#00004a 27px,#000034 40px,#000024 60px,#00000c 67px,#00002a 77px,#000020 87px,#000048 108px,#00002a 117px,#000020 129px,#000022 137px,#00002a 147px,#00002a 175px,#000016 182px,#000040 192px,#000026 240px,#000006 248px,#000034 261px,#000022 277px,#00000a 284px,#000034 296px,#000034 371px,#000020 382px,#000034 404px,#000038 496px,#000000 502px,#000014 511px,#000034 520px,#000016 541px,#000012 547px,#00003a 555px,#00000e 576px,#000016 584px,#000036 592px,#00003e 638px,#000048 645px,#000008 657px,#000034 671px,#00002a 729px,#000006 737px,#000034 752px,#000024 790px,#00001a 798px,#000034 813px,#000020 830px,#000016 837px,#000040 850px,#000020 903px,#000010 910px,#00003e 918px,#00003a 936px,#000036 944px,#00002c 952px,#000042 970px,#000008 982px,#000032 993px,#000032 1044px,#000030 1071px,#000008 1081px,#000030 1093px,#000028 1121px,#00000c 1129px,#00004e 1148px,#00000a 1162px,#000034 1176px,#000026 1203px,#00001a 1211px,#000034 1226px,#00002a 1284px,#000006 1292px,#000036 1305px,#000024 1369px,#00000a 1377px,#000026 1389px,#000034 1431px,#000024 1480px,#00002c 1490px,#000028 1516px,#00001c 1524px,#00004a 1546px,#000034 1561px,#00002a 1641px,#000030 1663px,#000034 1674px)"></i>
<i style="background:linear-gradient(90deg,#000040 0px,#00003c 60px,#00003c 175px,#000036 243px,#000034 280px,#00003c 376px,#00003c 498px,#000024 506px,#000040 521px,#000040 551px,#00003a 585px,#000040 650px,#000036 661px,#000034 733px,#00003e 900px,#00003c 913px,#00003c 976px,#00003a 987px,#00003c 1089px,#00003e 1135px,#00003c 1156px,#00003c 1169px,#000034 1288px,#00003e 1367px,#000036 1386px,#000042 1536px,#000040 1674px)"></i>
<i style="background:linear-gradient(90deg,#000048 0px,#000048 1674px)"></i>
<i style="background:linear-gradient(90deg,#00004c 0px,#00004c 1674px)"></i>
<i style="background:linear-gradient(90deg,#00004c 0px,#00004c 1674px)"></i>
<i style="background:linear-gradient(90deg,#00004c 0px,#00004c 1674px)"></i>
<i style="background:linear-gradient(90deg,#00004c 0px,#00004c 1674px)"></i>
<i style="background:linear-gradient(90deg,#00004c 0px,#00004c 1674px)"></i>
<i style="background:linear-gradient(90deg,#00004c 0px,#00004c 1674px)"></i>
<i style="background:linear-gradient(90deg,#00004c 0px,#00004c 1674px)"></i>
<i style="background:linear-gradient(90deg,#00004c 0px,#000052 556px,#000056 1022px,#000066 1074px,#00005a 1173px,#00004c 1264px,#00004c 1674px)"></i>
<i style="background:linear-gradient(90deg,#00004c 0px,#000058 222px,#000056 553px,#000056 1017px,#000080 1039px,#000076 1168px,#00004c 1191px,#00004c 1674px)"></i>
<i style="background:linear-gradient(90deg,#00004c 0px,#000058 217px,#00006a 277px,#00005e 549px,#00004c 630px,#000056 1014px,#0000a4 1035px,#000098 1167px,#000052 1185px,#00004c 1674px)"></i>
<i style="background:linear-gradient(90deg,#00004c 0px,#000058 213px,#000072 255px,#000066 547px,#00004c 601px,#000056 1012px,#0000ce 1034px,#0000c2 1166px,#000056 1184px,#00004c 1674px)"></i>
<i style="background:linear-gradient(90deg,#00004c 0px,#000058 210px,#00007e 253px,#000072 543px,#00004c 589px,#000058 1011px,#000098 1022px,#0000f0 1033px,#0000ea 1165px,#000060 1182px,#00004c 1207px,#00004c 1674px)"></i>
<i style="background:linear-gradient(90deg,#00004c 0px,#000058 208px,#000088 248px,#00007e 541px,#00004c 583px,#000058 1011px,#000094 1021px,#0000fc 1032px,#0000f4 1165px,#000064 1182px,#00004c 1200px,#00004c 1674px)"></i>
<i style="background:linear-gradient(90deg,#00004c 0px,#000058 206px,#000092 245px,#000086 541px,#000050 578px,#000058 1011px,#000098 1022px,#0000f2 1033px,#0000ea 1165px,#000060 1182px,#00004c 1207px,#00004c 1674px)"></i>
<i style="background:linear-gradient(90deg,#00004c 0px,#000058 206px,#00009a 244px,#000092 538px,#000050 578px,#000058 1012px,#0000a0 1025px,#0000d2 1035px,#0000c2 1166px,#000056 1184px,#00004c 1674px)"></i>
<i style="background:linear-gradient(90deg,#000048 0px,#000048 191px,#000088 230px,#0000a2 261px,#0000b0 360px,#0000ac 366px,#0000ac 486px,#000092 541px,#00006e 560px,#000060 567px,#00004c 606px,#000060 627px,#00005e 633px,#00004c 645px,#000052 835px,#000056 856px,#000058 862px,#000058 871px,#000052 924px,#00005a 930px,#00004e 951px,#00005a 1015px,#0000ac 1034px,#0000b0 1085px,#000098 1167px,#000052 1185px,#000058 1247px,#000068 1291px,#00005c 1432px,#00004c 1488px,#00004c 1674px)"></i>
<i style="background:linear-gradient(90deg,#000036 0px,#000030 26px,#000024 46px,#000016 54px,#000028 63px,#00002e 85px,#00000e 93px,#00001e 113px,#000020 119px,#000018 126px,#00002a 135px,#00002a 143px,#000028 152px,#000016 164px,#000036 174px,#000024 189px,#000046 206px,#00004a 219px,#00004e 227px,#00007e 234px,#0000a6 261px,#0000ae 291px,#0000c8 296px,#0000a2 302px,#0000b2 343px,#0000bc 348px,#0000c2 353px,#0000d8 361px,#0000d8 364px,#0000a8 369px,#0000c8 377px,#0000ba 382px,#0000c6 386px,#0000a8 393px,#0000c2 401px,#0000a6 409px,#0000b2 427px,#0000b4 437px,#00009e 483px,#0000c8 488px,#0000a6 496px,#000096 540px,#000072 558px,#0000a4 563px,#000058 570px,#000056 619px,#0000a4 631px,#000050 637px,#000054 657px,#000074 662px,#000050 669px,#000056 733px,#000064 739px,#000052 746px,#000056 811px,#000076 817px,#00004e 828px,#000052 837px,#000052 854px,#00008a 859px,#000050 866px,#00007a 874px,#00004c 881px,#000056 923px,#00008a 928px,#00004c 935px,#00005a 952px,#00006e 957px,#00004c 964px,#000052 1004px,#000074 1009px,#000056 1017px,#000076 1028px,#00009c 1032px,#000076 1042px,#00009a 1050px,#000080 1058px,#000090 1069px,#00008a 1075px,#0000ae 1080px,#000098 1084px,#0000bc 1088px,#000084 1095px,#00007a 1154px,#000070 1160px,#000072 1169px,#00004c 1192px,#00005a 1243px,#00008a 1262px,#000080 1427px,#00004e 1447px,#00004c 1674px)"></i>
<i style="background:linear-gradient(90deg,#00001e 0px,#00000e 16px,#00000e 25px,#00001c 38px,#000000 50px,#00000e 70px,#00001a 83px,#000000 90px,#000006 131px,#00000a 144px,#00000e 150px,#000002 167px,#00001e 175px,#000008 183px,#000008 191px,#000026 198px,#000032 216px,#000000 222px,#000010 228px,#00005a 233px,#000058 240px,#0000a4 253px,#0000ae 290px,#0000ec 295px,#0000a0 301px,#0000b2 342px,#0000d8 347px,#0000c0 351px,#0000f0 355px,#0000e4 359px,#1200ff 363px,#0000ec 365px,#0000b2 368px,#0000b6 372px,#0000ec 377px,#0000c6 381px,#0000e8 385px,#0000a8 392px,#0000cc 397px,#0000e2 400px,#0000a8 406px,#0000b6 421px,#0000cc 425px,#0000a8 432px,#0000c4 440px,#0000a8 448px,#0000a0 479px,#00009a 483px,#0000e8 487px,#0000a8 494px,#00009c 538px,#000072 557px,#0000a0 560px,#0000e2 563px,#0000c0 565px,#00006e 568px,#000054 573px,#000054 618px,#0000a6 624px,#0000ba 627px,#0000ee 629px,#0400f2 631px,#00005e 636px,#00004c 645px,#00005a 657px,#000098 661px,#000068 665px,#000054 670px,#000054 731px,#00007e 738px,#000052 744px,#00005c 751px,#000050 761px,#000056 810px,#00009e 815px,#00007c 821px,#000050 826px,#000066 835px,#00004c 844px,#00005a 854px,#0000c2 859px,#0000a6 861px,#00005e 864px,#000058 868px,#0000aa 873px,#00007e 876px,#000052 879px,#000058 922px,#00008c 925px,#0000c2 928px,#00005a 933px,#00004c 948px,#000076 953px,#000094 956px,#000050 962px,#000052 1003px,#000098 1009px,#000054 1015px,#000056 1027px,#0000a2 1032px,#00005e 1039px,#000062 1044px,#00009c 1049px,#000066 1056px,#000074 1063px,#000094 1067px,#00006c 1073px,#00009c 1077px,#0000be 1080px,#000096 1084px,#0000d8 1088px,#0000a2 1091px,#000074 1094px,#000068 1121px,#000072 1128px,#00005a 1154px,#000042 1159px,#000064 1166px,#00004c 1206px,#00005c 1241px,#0000b2 1261px,#0000a8 1425px,#000054 1443px,#00004c 1674px)"></i>
<i style="background:linear-gradient(90deg,#00001c 0px,#00000c 15px,#00000c 26px,#000018 38px,#000000 46px,#00000c 71px,#000018 82px,#000000 88px,#000008 145px,#000008 169px,#00001c 179px,#000000 186px,#00000c 192px,#000028 202px,#000030 215px,#000000 220px,#000008 229px,#000050 233px,#000040 239px,#0000a0 252px,#0000b0 290px,#0000fc 295px,#0000cc 298px,#00009c 301px,#0000b0 341px,#0000e8 346px,#0000c8 351px,#0100ff 355px,#0000f4 359px,#2600ff 363px,#0100ff 365px,#0000b4 368px,#0000b8 372px,#0000fc 376px,#0000cc 381px,#0000f8 385px,#0000ac 391px,#0000b4 395px,#0000f0 399px,#0000a8 406px,#0000b4 420px,#0000d4 425px,#0000a8 432px,#0000d0 439px,#0000a8 447px,#0000a0 479px,#000094 483px,#0000f8 487px,#0000d8 490px,#0000a8 494px,#00009c 538px,#000074 557px,#0000b0 560px,#0000f4 562px,#0000f8 564px,#000070 568px,#000054 572px,#000054 618px,#0000bc 624px,#0000d4 627px,#1000ff 629px,#1a00ff 631px,#0000fc 632px,#000078 635px,#000050 638px,#000054 656px,#0000a8 661px,#000084 664px,#000050 668px,#000058 676px,#000054 730px,#00008c 738px,#000054 744px,#000064 750px,#00004c 759px,#000054 768px,#000058 810px,#0000b0 815px,#0000a0 819px,#000054 825px,#000064 831px,#00006c 835px,#00004c 843px,#00005c 854px,#0000e0 859px,#0000bc 861px,#000064 864px,#000054 867px,#000080 870px,#0000c0 873px,#000054 879px,#000058 922px,#00009c 925px,#0000d8 927px,#0000d0 929px,#00005c 933px,#00004c 945px,#00005c 951px,#0000a8 956px,#000054 961px,#000054 1003px,#0000aa 1009px,#000052 1015px,#00004a 1027px,#00009e 1031px,#000086 1034px,#000046 1040px,#000052 1044px,#00009a 1049px,#00005a 1055px,#000068 1063px,#00008e 1067px,#00005e 1073px,#000082 1076px,#0000c6 1079px,#0000a2 1082px,#000092 1084px,#0000e6 1088px,#0000c2 1090px,#000072 1093px,#000056 1107px,#000064 1123px,#000062 1129px,#00004a 1154px,#00002c 1159px,#000056 1166px,#000058 1239px,#0000c4 1260px,#0000b8 1425px,#000058 1442px,#00004c 1674px)"></i>
<i style="background:linear-gradient(90deg,#00001e 0px,#00000e 16px,#00000e 25px,#00001c 38px,#000000 50px,#00000e 70px,#00001a 83px,#000000 90px,#000006 131px,#00000a 144px,#00000e 150px,#000002 167px,#00001e 175px,#000008 183px,#000008 191px,#000026 198px,#000032 216px,#000000 222px,#000010 228px,#00005a 233px,#000058 240px,#0000a4 253px,#0000ae 290px,#0000ec 295px,#0000a0 301px,#0000b2 342px,#0000d8 347px,#0000c0 351px,#0000f0 355px,#0000e4 359px,#1200ff 363px,#0000ec 365px,#0000b2 368px,#0000b6 372px,#0000ec 377px,#0000c6 381px,#0000e8 385px,#0000a8 392px,#0000cc 397px,#0000e2 400px,#0000a8 406px,#0000b6 421px,#0000cc 425px,#0000a8 432px,#0000c4 440px,#0000a8 448px,#0000a0 479px,#00009a 483px,#0000e8 487px,#0000a8 494px,#00009c 538px,#000072 557px,#0000a0 560px,#0000e2 563px,#0000c0 565px,#00006e 568px,#000054 573px,#000054 618px,#0000a6 624px,#0000ba 627px,#0000ee 629px,#0400f2 631px,#00005e 636px,#00004c 645px,#00005a 657px,#000098 661px,#000068 665px,#000054 670px,#000054 731px,#00007e 738px,#000052 744px,#00005c 751px,#000050 761px,#000056 810px,#00009e 815px,#00007c 821px,#000050 826px,#000066 835px,#00004c 844px,#00005a 854px,#0000c2 859px,#0000a6 861px,#00005e 864px,#000058 868px,#0000aa 873px,#00007e 876px,#000052 879px,#000058 922px,#00008c 925px,#0000c2 928px,#00005a 933px,#00004c 948px,#000076 953px,#000094 956px,#000050 962px,#000058 1004px,#000098 1009px,#000050 1015px,#000048 1027px,#00008c 1032px,#000048 1039px,#00004c 1044px,#000086 1049px,#000052 1056px,#00005e 1063px,#00007a 1068px,#000056 1073px,#000072 1076px,#0000a8 1079px,#000082 1084px,#0000c4 1088px,#00005e 1094px,#000056 1122px,#00005e 1128px,#000040 1155px,#00002e 1159px,#000050 1166px,#000058 1240px,#0000b2 1261px,#0000a8 1425px,#000054 1443px,#00004c 1674px)"></i>
<i style="background:linear-gradient(90deg,#000036 0px,#000030 26px,#000024 46px,#000016 54px,#000028 63px,#00002e 85px,#00000e 93px,#00001e 113px,#000020 119px,#000018 126px,#00002a 135px,#00002a 143px,#000028 152px,#000016 164px,#000036 174px,#000024 189px,#000046 206px,#00004a 219px,#00004e 227px,#00007e 234px,#0000a6 261px,#0000ae 291px,#0000c8 296px,#0000a2 302px,#0000b2 343px,#0000bc 348px,#0000c2 353px,#0000d8 361px,#0000d8 364px,#0000a8 369px,#0000c8 377px,#0000ba 382px,#0000c6 386px,#0000a8 393px,#0000c2 401px,#0000a6 409px,#0000b2 427px,#0000b4 437px,#00009e 483px,#0000c8 488px,#0000a6 496px,#000096 540px,#000072 558px,#0000a4 563px,#000058 570px,#000056 619px,#0000a4 631px,#000050 637px,#000054 657px,#000074 662px,#000050 669px,#000056 733px,#000064 739px,#000052 746px,#000056 811px,#000076 817px,#00004e 828px,#000052 837px,#000052 854px,#00008a 859px,#000050 866px,#00007a 874px,#00004c 881px,#000056 923px,#00008a 928px,#00004c 935px,#00005a 952px,#00006e 957px,#00004c 964px,#000052 1004px,#000070 1010px,#00004c 1017px,#00004e 1028px,#00006a 1033px,#000046 1042px,#000066 1050px,#000050 1061px,#000062 1068px,#000056 1075px,#00007c 1080px,#000066 1084px,#00008a 1088px,#000052 1095px,#000048 1154px,#000048 1162px,#00005a 1243px,#00008a 1262px,#000080 1427px,#00004e 1447px,#00004c 1674px)"></i>
<i style="background:linear-gradient(90deg,#000048 0px,#000048 191px,#000088 230px,#0000a2 261px,#0000b0 360px,#0000ac 366px,#0000ac 486px,#000092 541px,#00006e 560px,#000060 567px,#00004c 606px,#000060 627px,#00005e 633px,#00004c 645px,#000052 835px,#000056 856px,#000058 862px,#000058 871px,#000052 924px,#00005a 930px,#00004e 951px,#000056 1077px,#000058 1091px,#00004c 1223px,#000068 1284px,#00005c 1432px,#00004c 1488px,#00004c 1674px)"></i>
<i style="background:linear-gradient(90deg,#00004c 0px,#000058 206px,#00009a 244px,#000092 538px,#000050 578px,#00004c 1674px)"></i>
<i style="background:linear-gradient(90deg,#00004c 0px,#000058 206px,#000092 245px,#000086 541px,#000050 578px,#00004c 1674px)"></i>
<i style="background:linear-gradient(90deg,#00004c 0px,#000058 208px,#000088 248px,#00007e 541px,#00004c 583px,#00004c 1674px)"></i>
<i style="background:linear-gradient(90deg,#00004c 0px,#000058 210px,#00007e 253px,#000072 543px,#00004c 589px,#00004c 1674px)"></i>
<i style="background:linear-gradient(90deg,#00004c 0px,#000058 213px,#000072 255px,#000066 547px,#00004c 601px,#00004c 1674px)"></i>
<i style="background:linear-gradient(90deg,#00004c 0px,#000058 217px,#00006a 277px,#00005e 549px,#00004c 630px,#00004c 1674px)"></i>
<i style="background:linear-gradient(90deg,#00004c 0px,#000056 219px,#000058 551px,#00004c 888px,#00004c 1674px)"></i>
<i style="background:linear-gradient(90deg,#00004c 0px,#00004e 203px,#000054 299px,#000056 523px,#00004a 743px,#00004a 1648px,#00004c 1674px)"></i>
<i style="background:linear-gradient(90deg,#00004c 0px,#00003e 106px,#00003c 123px,#00004c 155px,#00003e 192px,#000056 256px,#000046 307px,#00005c 329px,#00004c 499px,#000048 523px,#000038 534px,#000052 553px,#00003e 611px,#000048 687px,#000048 709px,#000040 740px,#000046 765px,#00004a 783px,#000058 889px,#000056 919px,#00003e 1025px,#000052 1058px,#000058 1095px,#000040 1215px,#000040 1227px,#00004c 1239px,#000056 1317px,#00005c 1332px,#000048 1424px,#000050 1508px,#00004c 1585px,#00004c 1674px)"></i>
<i style="background:linear-gradient(90deg,#00004c 0px,#00003e 99px,#000018 119px,#00004c 134px,#000042 176px,#00001e 188px,#00004c 204px,#000048 285px,#000022 304px,#000066 321px,#000054 362px,#000062 397px,#000046 496px,#000032 507px,#000046 519px,#00000c 531px,#000050 548px,#00003e 607px,#00002a 618px,#00004c 636px,#00004c 684px,#000030 699px,#000048 721px,#000020 735px,#000050 753px,#00002c 774px,#00004c 791px,#000056 884px,#000068 897px,#000052 913px,#00006e 927px,#00004c 945px,#000042 1017px,#00002e 1031px,#000064 1052px,#00005a 1067px,#000074 1079px,#00004c 1120px,#000044 1211px,#00001c 1223px,#000054 1234px,#00004c 1252px,#00005e 1276px,#00004c 1303px,#00006c 1319px,#000078 1329px,#000056 1343px,#00004e 1364px,#00003e 1408px,#00003e 1422px,#00004c 1471px,#000062 1501px,#00004c 1525px,#00005a 1570px,#00005a 1581px,#000038 1593px,#000050 1626px,#00003e 1658px,#00004c 1674px)"></i>
<i style="background:linear-gradient(90deg,#00004c 0px,#000048 46px,#00003e 91px,#00000e 109px,#000006 121px,#000046 131px,#000040 175px,#000004 186px,#000028 194px,#00004c 205px,#000048 278px,#00002c 293px,#000000 301px,#000022 308px,#00006a 320px,#000050 353px,#00005e 393px,#00006e 405px,#000050 422px,#000054 462px,#000044 494px,#000016 505px,#000042 517px,#000000 528px,#000008 537px,#00004a 546px,#000048 570px,#000042 585px,#000042 604px,#00000e 617px,#00004c 631px,#000054 670px,#00004c 683px,#00001a 698px,#000048 717px,#000024 727px,#000004 734px,#000050 751px,#00003e 763px,#000014 773px,#00004c 787px,#000058 883px,#000080 895px,#000050 910px,#000086 926px,#00004c 942px,#000040 1015px,#000016 1029px,#000074 1050px,#00005a 1064px,#000090 1077px,#000068 1098px,#00004c 1116px,#000048 1209px,#000000 1221px,#000016 1226px,#00005a 1233px,#000044 1247px,#000070 1273px,#00004c 1291px,#00005e 1314px,#00009c 1325px,#00005c 1341px,#000062 1356px,#00004c 1378px,#00003e 1406px,#000024 1417px,#00004c 1433px,#000058 1487px,#000078 1499px,#00004c 1515px,#000058 1567px,#000074 1578px,#00002a 1591px,#00004c 1612px,#000048 1641px,#00002c 1655px,#00004c 1673px,#00004c 1674px)"></i>
<i style="background:linear-gradient(90deg,#00004c 0px,#000040 41px,#000040 87px,#00000e 106px,#000000 122px,#000044 131px,#000040 174px,#000000 184px,#00000a 192px,#000048 201px,#000048 277px,#000020 293px,#000000 298px,#000006 307px,#000064 317px,#000070 326px,#000050 342px,#00005c 392px,#00007a 403px,#000050 419px,#000058 458px,#00003e 494px,#000006 504px,#00003c 517px,#000000 525px,#00000e 539px,#000048 546px,#000048 569px,#000038 582px,#000048 600px,#00000e 611px,#000002 618px,#000048 630px,#000054 670px,#000054 681px,#00000a 697px,#000048 715px,#000030 724px,#000000 731px,#00000e 739px,#000050 750px,#000048 761px,#000002 772px,#00004c 786px,#000058 882px,#000092 894px,#000050 909px,#00007e 919px,#000096 926px,#000050 940px,#000040 1014px,#000006 1029px,#00007e 1049px,#00005c 1064px,#0000a2 1076px,#000076 1097px,#00004c 1110px,#000048 1209px,#000000 1218px,#000006 1226px,#000058 1232px,#000048 1239px,#000048 1251px,#000070 1266px,#000078 1274px,#00004c 1288px,#00005a 1312px,#0000b4 1325px,#00007e 1334px,#000060 1342px,#00006e 1354px,#00004c 1371px,#00003e 1405px,#000016 1416px,#00004c 1431px,#000058 1486px,#000086 1498px,#00004c 1514px,#000058 1566px,#000082 1577px,#000020 1591px,#00004c 1609px,#00004c 1639px,#00001e 1654px,#00004c 1669px,#00004c 1674px)"></i>
<i style="background:linear-gradient(90deg,#00004c 0px,#000040 41px,#000040 87px,#00000e 106px,#000000 122px,#000044 131px,#000040 174px,#000000 184px,#00000a 192px,#000048 201px,#000048 277px,#00001e 293px,#000000 298px,#000006 307px,#000062 317px,#000072 325px,#00004c 344px,#00005c 392px,#00007a 403px,#000050 419px,#000056 458px,#000042 493px,#000004 504px,#00003a 517px,#000000 525px,#00000e 539px,#000048 546px,#000048 569px,#000038 582px,#000048 600px,#00000e 611px,#000002 618px,#000048 630px,#000054 670px,#000054 681px,#00000a 697px,#000048 715px,#000030 724px,#000000 731px,#00000e 739px,#000050 750px,#000048 761px,#000002 772px,#00004c 786px,#000058 882px,#000092 894px,#000050 909px,#00007e 919px,#000096 926px,#000050 940px,#000040 1014px,#000006 1029px,#00007e 1049px,#00005c 1064px,#0000a2 1076px,#000076 1097px,#00004c 1110px,#000048 1209px,#000000 1218px,#000006 1226px,#000058 1232px,#000048 1239px,#000048 1251px,#000070 1266px,#000078 1274px,#00004c 1288px,#00005a 1312px,#0000b4 1325px,#00007e 1334px,#000060 1342px,#00006e 1354px,#00004c 1371px,#00003e 1405px,#000016 1416px,#00004c 1431px,#000058 1486px,#000086 1498px,#00004c 1514px,#000058 1566px,#000082 1577px,#000020 1591px,#00004c 1609px,#00004c 1639px,#00001e 1654px,#00004c 1669px,#00004c 1674px)"></i>
<i style="background:linear-gradient(90deg,#00004c 0px,#000048 46px,#00003e 91px,#00000e 109px,#000006 121px,#000046 131px,#000040 175px,#000004 186px,#000028 194px,#00004c 205px,#000044 279px,#000028 293px,#000000 301px,#000016 307px,#000066 319px,#00005a 331px,#00004e 385px,#00006e 404px,#00004c 422px,#000050 463px,#000040 494px,#000014 505px,#00003e 517px,#000000 527px,#000006 537px,#000048 546px,#000048 570px,#000042 585px,#000042 604px,#00000e 617px,#00004c 631px,#000054 670px,#00004c 683px,#00001a 698px,#000048 717px,#000024 727px,#000004 734px,#000050 751px,#00003e 763px,#000014 773px,#00004c 787px,#000058 883px,#000080 895px,#000050 910px,#000086 926px,#00004c 942px,#000040 1015px,#000016 1029px,#000074 1050px,#00005a 1064px,#000090 1077px,#000068 1098px,#00004c 1116px,#000048 1209px,#000000 1221px,#000016 1226px,#00005a 1233px,#000044 1247px,#000070 1273px,#00004c 1291px,#00005e 1314px,#00009c 1325px,#00005c 1341px,#000062 1356px,#00004c 1378px,#00003e 1406px,#000024 1417px,#00004c 1433px,#000058 1487px,#000078 1499px,#00004c 1515px,#000058 1567px,#000074 1578px,#00002a 1591px,#00004c 1612px,#000048 1641px,#00002c 1655px,#00004c 1673px,#00004c 1674px)"></i>
<i style="background:linear-gradient(90deg,#00004c 0px,#00003e 99px,#000018 119px,#00004c 134px,#000042 176px,#00001e 188px,#00004c 204px,#000044 281px,#00002e 295px,#00001c 304px,#000060 322px,#00004c 362px,#00005a 396px,#000050 415px,#000046 494px,#00002e 507px,#00003e 519px,#000008 531px,#00004c 548px,#000042 606px,#00002a 618px,#00004c 636px,#00004c 684px,#000030 699px,#000048 721px,#000020 735px,#000050 753px,#00002c 774px,#00004c 791px,#000056 884px,#000068 897px,#000052 913px,#00006e 927px,#00004c 945px,#000042 1017px,#00002e 1031px,#000064 1052px,#00005a 1067px,#000074 1079px,#00004c 1120px,#000044 1211px,#00001c 1223px,#000054 1234px,#00004c 1252px,#00005e 1276px,#00004c 1303px,#00006c 1319px,#000078 1329px,#000056 1343px,#00004e 1364px,#00003e 1408px,#00003e 1422px,#00004c 1471px,#000062 1501px,#00004c 1525px,#00005a 1570px,#00005a 1581px,#000038 1593px,#000050 1626px,#00003e 1658px,#00004c 1674px)"></i>
<i style="background:linear-gradient(90deg,#00004c 0px,#00003e 106px,#00003c 123px,#00004c 155px,#00003e 192px,#00004c 248px,#00003c 296px,#000040 308px,#000052 329px,#000042 499px,#00003c 523px,#000032 535px,#000050 557px,#000042 622px,#000046 689px,#000040 727px,#000042 741px,#000046 765px,#000048 781px,#000054 933px,#000046 1037px,#000052 1058px,#00005a 1095px,#00004c 1172px,#000042 1214px,#00003c 1226px,#00004c 1238px,#000056 1317px,#00005c 1332px,#000048 1424px,#000050 1509px,#000058 1574px,#000048 1598px,#000046 1648px,#00004c 1674px)"></i>
<i style="background:linear-gradient(90deg,#00004c 0px,#00004c 749px,#00004a 1215px,#00004c 1674px)"></i>
<i style="background:linear-gradient(90deg,#000050 0px,#000050 1674px)"></i>
<i style="background:linear-gradient(90deg,#000050 0px,#000050 1674px)"></i>
<i style="background:linear-gradient(90deg,#000054 0px,#000054 1674px)"></i>
<i style="background:linear-gradient(90deg,#000056 0px,#000056 1674px)"></i>
<i style="background:linear-gradient(90deg,#000058 0px,#000058 1674px)"></i></div>
<svg id="tex" style="position:absolute;left:102.0px;top:51.0px;mix-blend-mode:soft-light" width="1675" height="924">
<filter id="tf" x="0" y="0" width="1675" height="924" filterUnits="userSpaceOnUse" color-interpolation-filters="sRGB">
<feTurbulence type="fractalNoise" baseFrequency="0.4 0.006" numOctaves="2" seed="7" result="n1"/>
<feColorMatrix in="n1" type="matrix" values="2.4 0 0 0 -0.7  2.4 0 0 0 -0.7  2.4 0 0 0 -0.7  0 0 0 0 1" result="g1"/>
<feTurbulence type="fractalNoise" baseFrequency="0.06 0.018" numOctaves="2" seed="3" result="n2"/>
<feColorMatrix in="n2" type="matrix" values="1.5 0 0 0 -0.3  1.5 0 0 0 -0.3  1.5 0 0 0 -0.3  0 0 0 0 1" result="g2"/>
<feBlend in="g1" in2="g2" mode="overlay"/>
</filter>
<filter id="mb" x="-50%" y="-50%" width="200%" height="200%"><feGaussianBlur stdDeviation="4"/></filter>
<mask id="mk" maskUnits="userSpaceOnUse" x="0" y="0" width="1675" height="924"><rect width="1675" height="924" fill="#fff"/><g stroke="#000" stroke-linecap="round" filter="url(#mb)" stroke-opacity="0.75"><line x1="125" y1="697" x2="148" y2="695" stroke-width="6.6"/><line x1="753" y1="697" x2="769" y2="697" stroke-width="5.5"/><line x1="888" y1="702" x2="910" y2="702" stroke-width="6.6"/><line x1="1330" y1="524" x2="1478" y2="511" stroke-width="9.9"/><line x1="1373" y1="697" x2="1402" y2="697" stroke-width="6.6"/><line x1="1348" y1="702" x2="1500" y2="702" stroke-width="8.8"/><line x1="316" y1="489" x2="395" y2="488" stroke-width="6.7"/><line x1="101" y1="526" x2="191" y2="520" stroke-width="8.4"/><line x1="440" y1="566" x2="552" y2="560" stroke-width="13.2"/><line x1="569" y1="549" x2="640" y2="544" stroke-width="15.6"/><line x1="537" y1="552" x2="565" y2="551" stroke-width="6.0"/><line x1="-6" y1="629" x2="20" y2="629" stroke-width="6.2"/><line x1="150" y1="694" x2="181" y2="691" stroke-width="6.7"/><line x1="530" y1="635" x2="646" y2="629" stroke-width="10.8"/><line x1="775" y1="693" x2="798" y2="693" stroke-width="6.0"/><line x1="853" y1="601" x2="973" y2="593" stroke-width="12.0"/><line x1="1198" y1="551" x2="1290" y2="542" stroke-width="16.8"/><line x1="1226" y1="526" x2="1310" y2="522" stroke-width="12.0"/><line x1="1474" y1="600" x2="1522" y2="598" stroke-width="10.8"/><line x1="1528" y1="597" x2="1598" y2="591" stroke-width="10.8"/><line x1="1160" y1="631" x2="1283" y2="630" stroke-width="9.6"/><line x1="1400" y1="693" x2="1438" y2="692" stroke-width="7.2"/><line x1="247" y1="776" x2="266" y2="775" stroke-width="6.2"/><line x1="878" y1="775" x2="953" y2="766" stroke-width="6.2"/><rect x="802" y="690" width="82" height="11" fill="#000" stroke="none"/><rect x="1499" y="690" width="71" height="11" fill="#000" stroke="none"/></g></mask>
<rect width="1675" height="924" fill="#fff" filter="url(#tf)" mask="url(#mk)"/>
</svg>
<div id="cols" style="position:absolute;left:102px;top:212px;width:1675px;height:265px;mix-blend-mode:soft-light;background:repeating-linear-gradient(90deg,rgba(255,255,255,0.85) 0px,rgba(255,255,255,0.85) 7px,rgba(0,0,0,0.8) 9px,rgba(0,0,0,0.8) 17.5px,rgba(255,255,255,0.85) 19.58px);background-position:20.2px 0;-webkit-mask-image:linear-gradient(180deg,rgba(0,0,0,0) 0,#000 14px,#000 64px,rgba(0,0,0,.35) 68px,rgba(0,0,0,.35) 104px,#000 108px,#000 154px,rgba(0,0,0,.5) 158px,rgba(0,0,0,.5) 188px,rgba(0,0,0,.8) 192px,rgba(0,0,0,.8) 214px,rgba(0,0,0,.6) 220px,rgba(0,0,0,0) 265px)"></div>
<div id="cbar"></div>
<svg width="2047" height="1067" viewBox="0 0 2047 1067">
<rect x="102.5" y="51.5" width="1674" height="923.9" fill="none" stroke="#000" stroke-width="1.4"/>
<rect x="1916.5" y="27.5" width="43" height="959.9" fill="none" stroke="#000" stroke-width="1.15"/>
<g stroke="#000" stroke-width="1.2"><line x1="102.15" y1="975.5" x2="102.15" y2="981.3"/><line x1="213.74" y1="975.5" x2="213.74" y2="981.3"/><line x1="325.33" y1="975.5" x2="325.33" y2="981.3"/><line x1="436.92" y1="975.5" x2="436.92" y2="981.3"/><line x1="548.51" y1="975.5" x2="548.51" y2="981.3"/><line x1="660.10" y1="975.5" x2="660.10" y2="981.3"/><line x1="771.69" y1="975.5" x2="771.69" y2="981.3"/><line x1="883.28" y1="975.5" x2="883.28" y2="981.3"/><line x1="994.87" y1="975.5" x2="994.87" y2="981.3"/><line x1="1106.46" y1="975.5" x2="1106.46" y2="981.3"/><line x1="1218.05" y1="975.5" x2="1218.05" y2="981.3"/><line x1="1329.64" y1="975.5" x2="1329.64" y2="981.3"/><line x1="1441.23" y1="975.5" x2="1441.23" y2="981.3"/><line x1="1552.82" y1="975.5" x2="1552.82" y2="981.3"/><line x1="1664.41" y1="975.5" x2="1664.41" y2="981.3"/><line x1="96.2" y1="878.50" x2="102" y2="878.50"/><line x1="96.2" y1="685.70" x2="102" y2="685.70"/><line x1="96.2" y1="492.90" x2="102" y2="492.90"/><line x1="96.2" y1="300.10" x2="102" y2="300.10"/><line x1="96.2" y1="107.30" x2="102" y2="107.30"/><line x1="1960" y1="987.50" x2="1965.7" y2="987.50"/><line x1="1960" y1="874.44" x2="1965.7" y2="874.44"/><line x1="1960" y1="761.38" x2="1965.7" y2="761.38"/><line x1="1960" y1="648.32" x2="1965.7" y2="648.32"/><line x1="1960" y1="535.26" x2="1965.7" y2="535.26"/><line x1="1960" y1="422.20" x2="1965.7" y2="422.20"/><line x1="1960" y1="309.14" x2="1965.7" y2="309.14"/><line x1="1960" y1="196.08" x2="1965.7" y2="196.08"/><line x1="1960" y1="83.02" x2="1965.7" y2="83.02"/></g>
<text x="218.78" y="41.20" font-size="39.71" textLength="1438.70" lengthAdjust="spacingAndGlyphs">2025/12/24  Radio flux density, e-CALLISTO (POLAND-Grotniki), Focuscode: 03</text>
<text x="742.31" y="1049.00" font-size="35.80" textLength="392.51" lengthAdjust="spacingAndGlyphs">Observation time [UTC]</text>
<text transform="translate(37.00 650.70) rotate(-90)" x="-2.94" y="0" font-size="36.09" textLength="279.43" lengthAdjust="spacingAndGlyphs">Frequency [MHz]</text>
<text transform="translate(2026.80 687.80) rotate(-90)" x="-1.50" y="0" font-size="34.21" textLength="364.93" lengthAdjust="spacingAndGlyphs">dB above background</text>
<text x="58.77" y="1009.80" font-size="31.16" textLength="86.51" lengthAdjust="spacingAndGlyphs">09:44</text>
<text x="170.35" y="1009.80" font-size="31.16" textLength="86.86" lengthAdjust="spacingAndGlyphs">09:45</text>
<text x="281.94" y="1009.80" font-size="31.16" textLength="87.04" lengthAdjust="spacingAndGlyphs">09:46</text>
<text x="393.53" y="1009.80" font-size="31.16" textLength="87.22" lengthAdjust="spacingAndGlyphs">09:47</text>
<text x="505.12" y="1009.80" font-size="31.16" textLength="86.86" lengthAdjust="spacingAndGlyphs">09:48</text>
<text x="616.71" y="1009.80" font-size="31.16" textLength="87.04" lengthAdjust="spacingAndGlyphs">09:49</text>
<text x="728.30" y="1009.80" font-size="31.16" textLength="86.86" lengthAdjust="spacingAndGlyphs">09:50</text>
<text x="839.89" y="1009.80" font-size="31.16" textLength="87.22" lengthAdjust="spacingAndGlyphs">09:51</text>
<text x="951.48" y="1009.80" font-size="31.16" textLength="87.22" lengthAdjust="spacingAndGlyphs">09:52</text>
<text x="1063.07" y="1009.80" font-size="31.16" textLength="87.04" lengthAdjust="spacingAndGlyphs">09:53</text>
<text x="1174.67" y="1009.80" font-size="31.16" textLength="86.51" lengthAdjust="spacingAndGlyphs">09:54</text>
<text x="1286.25" y="1009.80" font-size="31.16" textLength="86.86" lengthAdjust="spacingAndGlyphs">09:55</text>
<text x="1397.84" y="1009.80" font-size="31.16" textLength="87.04" lengthAdjust="spacingAndGlyphs">09:56</text>
<text x="1509.43" y="1009.80" font-size="31.16" textLength="87.22" lengthAdjust="spacingAndGlyphs">09:57</text>
<text x="1621.02" y="1009.80" font-size="31.16" textLength="86.86" lengthAdjust="spacingAndGlyphs">09:58</text>
<text x="52.47" y="889.50" font-size="30.71" textLength="36.11" lengthAdjust="spacingAndGlyphs">10</text>
<text x="53.32" y="696.70" font-size="30.71" textLength="35.22" lengthAdjust="spacingAndGlyphs">20</text>
<text x="53.65" y="503.90" font-size="30.71" textLength="34.88" lengthAdjust="spacingAndGlyphs">30</text>
<text x="54.13" y="311.10" font-size="30.71" textLength="34.38" lengthAdjust="spacingAndGlyphs">40</text>
<text x="53.65" y="118.30" font-size="30.71" textLength="34.88" lengthAdjust="spacingAndGlyphs">50</text>
<text x="1972.44" y="992.50" font-size="17.29" textLength="21.88" lengthAdjust="spacingAndGlyphs">−2</text>
<text x="1970.93" y="880.44" font-size="17.29" textLength="10.67" lengthAdjust="spacingAndGlyphs">0</text>
<text x="1970.74" y="767.38" font-size="17.29" textLength="10.67" lengthAdjust="spacingAndGlyphs">2</text>
<text x="1971.22" y="654.32" font-size="17.29" textLength="10.67" lengthAdjust="spacingAndGlyphs">4</text>
<text x="1970.74" y="541.26" font-size="17.29" textLength="10.67" lengthAdjust="spacingAndGlyphs">6</text>
<text x="1970.84" y="428.20" font-size="17.29" textLength="10.67" lengthAdjust="spacingAndGlyphs">8</text>
<text x="1970.26" y="315.14" font-size="17.29" textLength="21.34" lengthAdjust="spacingAndGlyphs">10</text>
<text x="1970.26" y="202.08" font-size="17.29" textLength="21.34" lengthAdjust="spacingAndGlyphs">12</text>
<text x="1970.26" y="89.02" font-size="17.29" textLength="21.34" lengthAdjust="spacingAndGlyphs">14</text>
</svg>
</body></html>
